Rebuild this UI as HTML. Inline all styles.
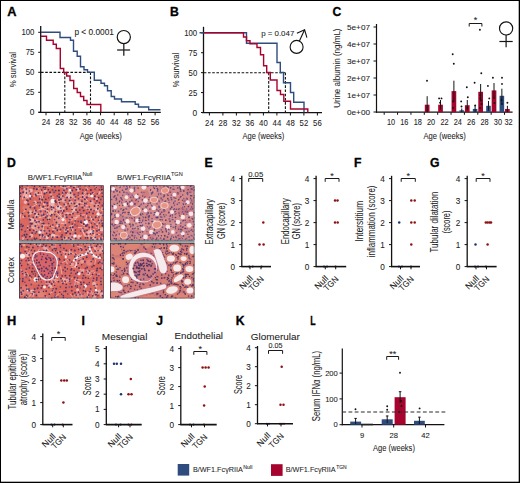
<!DOCTYPE html>
<html><head><meta charset="utf-8"><style>
html,body{margin:0;padding:0;background:#fff;}
body{width:520px;height:483px;overflow:hidden;}
svg{display:block;font-family:"Liberation Sans", sans-serif;}
</style></head><body>
<svg width="520" height="483" viewBox="0 0 520 483">
<rect x="0" y="0" width="520" height="483" fill="#fff"/>
<defs>
<clipPath id="cnm"><rect x="19" y="185.2" width="84.8" height="55.5"/></clipPath>
<clipPath id="ctm"><rect x="110" y="185.2" width="84.6" height="55.5"/></clipPath>
<clipPath id="cnc"><rect x="19" y="242.8" width="84.8" height="55.8"/></clipPath>
<clipPath id="ctc"><rect x="110" y="242.8" width="84.6" height="55.8"/></clipPath>
<filter id="soft" x="0" y="0" width="100%" height="100%"><feGaussianBlur stdDeviation="0.42"/></filter>
</defs>
<g clip-path="url(#cnm)"><g filter="url(#soft)">
<rect x="19" y="185.2" width="84.8" height="55.5" fill="#db6860"/>
<circle cx="57.4" cy="216.3" r="4.8" fill="#e27a66" opacity="0.55"/>
<circle cx="57.3" cy="232.7" r="2.6" fill="#e27a66" opacity="0.55"/>
<circle cx="72.4" cy="229.2" r="2.3" fill="#e9998f" opacity="0.55"/>
<circle cx="31.0" cy="215.1" r="4.7" fill="#e8867a" opacity="0.55"/>
<circle cx="69.5" cy="207.2" r="3.4" fill="#d65e55" opacity="0.55"/>
<circle cx="71.8" cy="231.4" r="2.2" fill="#e8867a" opacity="0.55"/>
<circle cx="35.1" cy="198.6" r="2.1" fill="#e27a66" opacity="0.55"/>
<circle cx="46.7" cy="218.0" r="2.6" fill="#d65e55" opacity="0.55"/>
<circle cx="73.3" cy="212.9" r="4.0" fill="#e27a66" opacity="0.55"/>
<circle cx="74.5" cy="207.8" r="3.7" fill="#e8867a" opacity="0.55"/>
<circle cx="79.0" cy="202.7" r="2.7" fill="#e9998f" opacity="0.55"/>
<circle cx="21.5" cy="216.5" r="2.3" fill="#e8867a" opacity="0.55"/>
<circle cx="90.8" cy="206.7" r="4.9" fill="#e8867a" opacity="0.55"/>
<circle cx="37.1" cy="236.7" r="2.2" fill="#e27a66" opacity="0.55"/>
<circle cx="102.1" cy="207.3" r="2.2" fill="#d65e55" opacity="0.55"/>
<circle cx="85.0" cy="200.2" r="2.3" fill="#e9998f" opacity="0.55"/>
<circle cx="20.3" cy="208.0" r="4.8" fill="#d65e55" opacity="0.55"/>
<circle cx="39.9" cy="190.8" r="2.2" fill="#e27a66" opacity="0.55"/>
<circle cx="34.1" cy="216.2" r="3.3" fill="#d65e55" opacity="0.55"/>
<circle cx="102.6" cy="227.9" r="3.3" fill="#e27a66" opacity="0.55"/>
<circle cx="28.9" cy="208.6" r="2.6" fill="#e9998f" opacity="0.55"/>
<circle cx="92.3" cy="239.3" r="3.8" fill="#e8867a" opacity="0.55"/>
<circle cx="36.9" cy="207.1" r="4.6" fill="#e8867a" opacity="0.55"/>
<circle cx="22.6" cy="193.3" r="3.3" fill="#e8867a" opacity="0.55"/>
<circle cx="84.5" cy="203.5" r="2.9" fill="#e8867a" opacity="0.55"/>
<circle cx="25.3" cy="196.8" r="3.9" fill="#e8867a" opacity="0.55"/>
<circle cx="70.0" cy="205.8" r="3.4" fill="#e27a66" opacity="0.55"/>
<circle cx="89.6" cy="192.7" r="3.2" fill="#d65e55" opacity="0.55"/>
<circle cx="45.4" cy="197.9" r="3.8" fill="#d65e55" opacity="0.55"/>
<circle cx="32.4" cy="220.1" r="3.7" fill="#e27a66" opacity="0.55"/>
<circle cx="93.8" cy="218.7" r="3.3" fill="#e8867a" opacity="0.55"/>
<circle cx="28.2" cy="213.6" r="2.8" fill="#e27a66" opacity="0.55"/>
<circle cx="40.8" cy="230.9" r="3.8" fill="#e9998f" opacity="0.55"/>
<circle cx="63.1" cy="236.8" r="4.9" fill="#d65e55" opacity="0.55"/>
<circle cx="38.4" cy="216.2" r="4.6" fill="#e8867a" opacity="0.55"/>
<circle cx="42.8" cy="236.1" r="2.6" fill="#e8867a" opacity="0.55"/>
<circle cx="24.9" cy="208.0" r="2.7" fill="#e8867a" opacity="0.55"/>
<circle cx="33.9" cy="205.7" r="3.7" fill="#d65e55" opacity="0.55"/>
<circle cx="26.8" cy="192.9" r="3.4" fill="#e9998f" opacity="0.55"/>
<circle cx="74.7" cy="223.6" r="3.8" fill="#d65e55" opacity="0.55"/>
<circle cx="69.0" cy="236.5" r="3.4" fill="#e9998f" opacity="0.55"/>
<circle cx="78.4" cy="238.6" r="2.1" fill="#e8867a" opacity="0.55"/>
<circle cx="59.9" cy="225.7" r="3.0" fill="#e8867a" opacity="0.55"/>
<circle cx="25.4" cy="215.5" r="4.2" fill="#d65e55" opacity="0.55"/>
<circle cx="86.3" cy="236.0" r="3.1" fill="#e27a66" opacity="0.55"/>
<circle cx="95.4" cy="233.5" r="3.3" fill="#e8867a" opacity="0.55"/>
<circle cx="92.2" cy="217.0" r="3.9" fill="#e27a66" opacity="0.55"/>
<circle cx="51.2" cy="185.9" r="2.2" fill="#e8867a" opacity="0.55"/>
<circle cx="73.2" cy="240.3" r="4.6" fill="#e9998f" opacity="0.55"/>
<circle cx="51.9" cy="226.0" r="3.7" fill="#e27a66" opacity="0.55"/>
<circle cx="58.2" cy="215.2" r="3.6" fill="#e8867a" opacity="0.55"/>
<circle cx="45.3" cy="190.1" r="2.1" fill="#e8867a" opacity="0.55"/>
<circle cx="61.2" cy="219.3" r="4.8" fill="#e9998f" opacity="0.55"/>
<circle cx="95.0" cy="205.6" r="2.4" fill="#d65e55" opacity="0.55"/>
<circle cx="63.0" cy="227.0" r="3.0" fill="#e27a66" opacity="0.55"/>
<circle cx="61.3" cy="198.6" r="3.2" fill="#e9998f" opacity="0.55"/>
<circle cx="35.8" cy="209.1" r="4.4" fill="#d65e55" opacity="0.55"/>
<circle cx="93.6" cy="206.5" r="3.7" fill="#e9998f" opacity="0.55"/>
<circle cx="36.8" cy="192.7" r="3.1" fill="#e8867a" opacity="0.55"/>
<circle cx="79.3" cy="237.9" r="2.8" fill="#d65e55" opacity="0.55"/>
<circle cx="28.6" cy="211.4" r="4.8" fill="#e27a66" opacity="0.55"/>
<circle cx="51.4" cy="214.1" r="4.0" fill="#e27a66" opacity="0.55"/>
<circle cx="46.2" cy="231.2" r="2.8" fill="#e8867a" opacity="0.55"/>
<circle cx="76.5" cy="200.8" r="3.1" fill="#e8867a" opacity="0.55"/>
<circle cx="73.4" cy="207.7" r="2.6" fill="#e9998f" opacity="0.55"/>
<circle cx="39.1" cy="193.0" r="2.1" fill="#e8867a" opacity="0.55"/>
<circle cx="56.9" cy="220.2" r="4.0" fill="#e9998f" opacity="0.55"/>
<circle cx="100.3" cy="223.2" r="2.6" fill="#e27a66" opacity="0.55"/>
<circle cx="40.7" cy="224.8" r="4.3" fill="#e8867a" opacity="0.55"/>
<circle cx="34.2" cy="200.3" r="3.0" fill="#d65e55" opacity="0.55"/>
<line x1="52.4" y1="229.2" x2="60.5" y2="231.4" stroke="#f3c9c6" stroke-width="1.0" opacity="0.7" stroke-linecap="round"/>
<line x1="98.1" y1="225.3" x2="98.6" y2="229.0" stroke="#f3c9c6" stroke-width="1.0" opacity="0.7" stroke-linecap="round"/>
<line x1="72.0" y1="235.7" x2="70.9" y2="240.8" stroke="#f3c9c6" stroke-width="1.0" opacity="0.7" stroke-linecap="round"/>
<line x1="93.6" y1="229.4" x2="94.6" y2="238.0" stroke="#f3c9c6" stroke-width="1.0" opacity="0.7" stroke-linecap="round"/>
<line x1="74.2" y1="196.6" x2="68.1" y2="200.5" stroke="#f3c9c6" stroke-width="1.0" opacity="0.7" stroke-linecap="round"/>
<line x1="73.4" y1="225.0" x2="69.3" y2="226.4" stroke="#f3c9c6" stroke-width="1.0" opacity="0.7" stroke-linecap="round"/>
<line x1="102.1" y1="239.4" x2="97.2" y2="243.2" stroke="#f3c9c6" stroke-width="1.0" opacity="0.7" stroke-linecap="round"/>
<line x1="46.2" y1="235.7" x2="49.9" y2="242.9" stroke="#f3c9c6" stroke-width="1.0" opacity="0.7" stroke-linecap="round"/>
<line x1="26.0" y1="209.7" x2="21.3" y2="213.9" stroke="#f3c9c6" stroke-width="1.0" opacity="0.7" stroke-linecap="round"/>
<line x1="60.3" y1="186.8" x2="68.0" y2="188.3" stroke="#f3c9c6" stroke-width="1.0" opacity="0.7" stroke-linecap="round"/>
<line x1="86.8" y1="194.8" x2="82.9" y2="197.9" stroke="#f3c9c6" stroke-width="1.0" opacity="0.7" stroke-linecap="round"/>
<line x1="30.9" y1="193.5" x2="27.0" y2="198.1" stroke="#f3c9c6" stroke-width="1.0" opacity="0.7" stroke-linecap="round"/>
<line x1="90.2" y1="223.5" x2="90.4" y2="232.1" stroke="#f3c9c6" stroke-width="1.0" opacity="0.7" stroke-linecap="round"/>
<line x1="99.5" y1="190.0" x2="99.1" y2="194.3" stroke="#f3c9c6" stroke-width="1.0" opacity="0.7" stroke-linecap="round"/>
<line x1="43.6" y1="225.7" x2="43.1" y2="232.5" stroke="#f3c9c6" stroke-width="1.0" opacity="0.7" stroke-linecap="round"/>
<line x1="90.5" y1="216.3" x2="92.3" y2="220.8" stroke="#f3c9c6" stroke-width="1.0" opacity="0.7" stroke-linecap="round"/>
<line x1="90.7" y1="235.2" x2="86.9" y2="237.1" stroke="#f3c9c6" stroke-width="1.0" opacity="0.7" stroke-linecap="round"/>
<line x1="101.1" y1="214.3" x2="106.3" y2="218.1" stroke="#f3c9c6" stroke-width="1.0" opacity="0.7" stroke-linecap="round"/>
<line x1="64.4" y1="213.1" x2="71.1" y2="213.7" stroke="#f3c9c6" stroke-width="1.0" opacity="0.7" stroke-linecap="round"/>
<line x1="101.2" y1="213.8" x2="96.8" y2="217.0" stroke="#f3c9c6" stroke-width="1.0" opacity="0.7" stroke-linecap="round"/>
<line x1="66.7" y1="212.5" x2="73.7" y2="213.9" stroke="#f3c9c6" stroke-width="1.0" opacity="0.7" stroke-linecap="round"/>
<line x1="64.7" y1="208.2" x2="56.2" y2="210.2" stroke="#f3c9c6" stroke-width="1.0" opacity="0.7" stroke-linecap="round"/>
<line x1="41.8" y1="211.5" x2="42.6" y2="215.1" stroke="#f3c9c6" stroke-width="1.0" opacity="0.7" stroke-linecap="round"/>
<line x1="88.2" y1="235.2" x2="91.4" y2="240.1" stroke="#f3c9c6" stroke-width="1.0" opacity="0.7" stroke-linecap="round"/>
<line x1="35.2" y1="219.5" x2="43.1" y2="222.9" stroke="#f3c9c6" stroke-width="1.0" opacity="0.7" stroke-linecap="round"/>
<line x1="85.1" y1="186.5" x2="88.2" y2="189.2" stroke="#f3c9c6" stroke-width="1.0" opacity="0.7" stroke-linecap="round"/>
<line x1="77.3" y1="203.1" x2="75.4" y2="207.8" stroke="#f3c9c6" stroke-width="1.0" opacity="0.7" stroke-linecap="round"/>
<line x1="27.9" y1="225.8" x2="27.8" y2="229.5" stroke="#f3c9c6" stroke-width="1.0" opacity="0.7" stroke-linecap="round"/>
<line x1="40.2" y1="196.2" x2="41.5" y2="202.2" stroke="#f3c9c6" stroke-width="1.0" opacity="0.7" stroke-linecap="round"/>
<line x1="50.9" y1="208.1" x2="56.3" y2="211.1" stroke="#f3c9c6" stroke-width="1.0" opacity="0.7" stroke-linecap="round"/>
<line x1="36.3" y1="220.2" x2="35.7" y2="227.0" stroke="#f3c9c6" stroke-width="1.0" opacity="0.7" stroke-linecap="round"/>
<line x1="91.2" y1="219.1" x2="97.2" y2="224.6" stroke="#f3c9c6" stroke-width="1.0" opacity="0.7" stroke-linecap="round"/>
<line x1="81.8" y1="230.2" x2="86.4" y2="237.2" stroke="#f3c9c6" stroke-width="1.0" opacity="0.7" stroke-linecap="round"/>
<line x1="45.7" y1="236.4" x2="41.4" y2="236.4" stroke="#f3c9c6" stroke-width="1.0" opacity="0.7" stroke-linecap="round"/>
<line x1="94.3" y1="192.6" x2="91.4" y2="196.0" stroke="#f3c9c6" stroke-width="1.0" opacity="0.7" stroke-linecap="round"/>
<line x1="41.0" y1="190.6" x2="43.0" y2="198.3" stroke="#f3c9c6" stroke-width="1.0" opacity="0.7" stroke-linecap="round"/>
<line x1="86.0" y1="192.2" x2="83.0" y2="196.7" stroke="#f3c9c6" stroke-width="1.0" opacity="0.7" stroke-linecap="round"/>
<line x1="20.5" y1="196.4" x2="13.7" y2="198.3" stroke="#f3c9c6" stroke-width="1.0" opacity="0.7" stroke-linecap="round"/>
<line x1="101.1" y1="191.6" x2="96.7" y2="195.8" stroke="#f3c9c6" stroke-width="1.0" opacity="0.7" stroke-linecap="round"/>
<line x1="61.6" y1="223.3" x2="65.7" y2="224.2" stroke="#f3c9c6" stroke-width="1.0" opacity="0.7" stroke-linecap="round"/>
<line x1="28.0" y1="187.3" x2="27.7" y2="193.6" stroke="#f3c9c6" stroke-width="1.0" opacity="0.7" stroke-linecap="round"/>
<line x1="67.2" y1="193.3" x2="70.5" y2="195.8" stroke="#f3c9c6" stroke-width="1.0" opacity="0.7" stroke-linecap="round"/>
<line x1="90.3" y1="240.2" x2="98.4" y2="242.7" stroke="#f3c9c6" stroke-width="1.0" opacity="0.7" stroke-linecap="round"/>
<line x1="24.3" y1="238.0" x2="20.0" y2="241.9" stroke="#f3c9c6" stroke-width="1.0" opacity="0.7" stroke-linecap="round"/>
<line x1="46.7" y1="211.1" x2="48.0" y2="217.1" stroke="#f3c9c6" stroke-width="1.0" opacity="0.7" stroke-linecap="round"/>
<line x1="70.0" y1="185.9" x2="63.6" y2="189.3" stroke="#f3c9c6" stroke-width="1.0" opacity="0.7" stroke-linecap="round"/>
<line x1="34.4" y1="210.4" x2="36.6" y2="217.5" stroke="#f3c9c6" stroke-width="1.0" opacity="0.7" stroke-linecap="round"/>
<line x1="35.5" y1="194.4" x2="41.6" y2="194.7" stroke="#f3c9c6" stroke-width="1.0" opacity="0.7" stroke-linecap="round"/>
<line x1="94.7" y1="229.7" x2="88.2" y2="232.8" stroke="#f3c9c6" stroke-width="1.0" opacity="0.7" stroke-linecap="round"/>
<line x1="72.4" y1="207.7" x2="72.3" y2="214.2" stroke="#f3c9c6" stroke-width="1.0" opacity="0.7" stroke-linecap="round"/>
<line x1="102.3" y1="229.9" x2="98.0" y2="231.1" stroke="#f3c9c6" stroke-width="1.0" opacity="0.7" stroke-linecap="round"/>
<line x1="82.1" y1="228.4" x2="84.4" y2="235.9" stroke="#f3c9c6" stroke-width="1.0" opacity="0.7" stroke-linecap="round"/>
<line x1="95.0" y1="234.0" x2="89.7" y2="238.8" stroke="#f3c9c6" stroke-width="1.0" opacity="0.7" stroke-linecap="round"/>
<line x1="83.9" y1="207.7" x2="91.0" y2="209.3" stroke="#f3c9c6" stroke-width="1.0" opacity="0.7" stroke-linecap="round"/>
<line x1="48.0" y1="211.2" x2="49.3" y2="214.0" stroke="#f3c9c6" stroke-width="1.0" opacity="0.7" stroke-linecap="round"/>
<line x1="73.2" y1="219.8" x2="68.8" y2="220.6" stroke="#f3c9c6" stroke-width="1.0" opacity="0.7" stroke-linecap="round"/>
<line x1="75.5" y1="203.9" x2="74.0" y2="210.7" stroke="#f3c9c6" stroke-width="1.0" opacity="0.7" stroke-linecap="round"/>
<line x1="64.2" y1="206.8" x2="60.3" y2="214.9" stroke="#f3c9c6" stroke-width="1.0" opacity="0.7" stroke-linecap="round"/>
<line x1="78.5" y1="227.5" x2="87.3" y2="228.1" stroke="#f3c9c6" stroke-width="1.0" opacity="0.7" stroke-linecap="round"/>
<line x1="71.2" y1="226.2" x2="72.6" y2="230.5" stroke="#f3c9c6" stroke-width="1.0" opacity="0.7" stroke-linecap="round"/>
<line x1="23.3" y1="196.0" x2="28.3" y2="197.6" stroke="#f3c9c6" stroke-width="1.0" opacity="0.7" stroke-linecap="round"/>
<line x1="40.3" y1="235.5" x2="40.1" y2="241.8" stroke="#f3c9c6" stroke-width="1.0" opacity="0.7" stroke-linecap="round"/>
<line x1="101.0" y1="216.7" x2="97.2" y2="224.9" stroke="#f3c9c6" stroke-width="1.0" opacity="0.7" stroke-linecap="round"/>
<line x1="87.6" y1="189.4" x2="82.9" y2="193.9" stroke="#f3c9c6" stroke-width="1.0" opacity="0.7" stroke-linecap="round"/>
<line x1="22.8" y1="236.8" x2="23.2" y2="240.8" stroke="#f3c9c6" stroke-width="1.0" opacity="0.7" stroke-linecap="round"/>
<line x1="33.3" y1="212.7" x2="39.9" y2="213.9" stroke="#f3c9c6" stroke-width="1.0" opacity="0.7" stroke-linecap="round"/>
<line x1="99.2" y1="208.5" x2="97.3" y2="214.4" stroke="#f3c9c6" stroke-width="1.0" opacity="0.7" stroke-linecap="round"/>
<line x1="50.0" y1="201.1" x2="48.7" y2="207.9" stroke="#f3c9c6" stroke-width="1.0" opacity="0.7" stroke-linecap="round"/>
<line x1="43.0" y1="225.0" x2="47.8" y2="225.2" stroke="#f3c9c6" stroke-width="1.0" opacity="0.7" stroke-linecap="round"/>
<line x1="39.8" y1="187.6" x2="37.0" y2="190.3" stroke="#f3c9c6" stroke-width="1.0" opacity="0.7" stroke-linecap="round"/>
<line x1="52.1" y1="235.0" x2="59.5" y2="236.2" stroke="#f3c9c6" stroke-width="1.0" opacity="0.7" stroke-linecap="round"/>
<line x1="102.8" y1="237.6" x2="99.6" y2="238.6" stroke="#f3c9c6" stroke-width="1.0" opacity="0.7" stroke-linecap="round"/>
<line x1="55.4" y1="211.7" x2="61.8" y2="217.8" stroke="#f3c9c6" stroke-width="1.0" opacity="0.7" stroke-linecap="round"/>
<line x1="63.4" y1="237.2" x2="64.1" y2="244.5" stroke="#f3c9c6" stroke-width="1.0" opacity="0.7" stroke-linecap="round"/>
<line x1="102.0" y1="230.5" x2="108.2" y2="232.9" stroke="#f3c9c6" stroke-width="1.0" opacity="0.7" stroke-linecap="round"/>
<line x1="71.9" y1="210.5" x2="76.1" y2="211.2" stroke="#f3c9c6" stroke-width="1.0" opacity="0.7" stroke-linecap="round"/>
<line x1="63.8" y1="192.1" x2="60.9" y2="197.0" stroke="#f3c9c6" stroke-width="1.0" opacity="0.7" stroke-linecap="round"/>
<line x1="57.6" y1="199.7" x2="59.3" y2="206.0" stroke="#f3c9c6" stroke-width="1.0" opacity="0.7" stroke-linecap="round"/>
<line x1="85.0" y1="214.7" x2="76.1" y2="216.0" stroke="#f3c9c6" stroke-width="1.0" opacity="0.7" stroke-linecap="round"/>
<line x1="81.3" y1="198.4" x2="77.8" y2="199.7" stroke="#f3c9c6" stroke-width="1.0" opacity="0.7" stroke-linecap="round"/>
<line x1="85.5" y1="219.9" x2="88.9" y2="223.8" stroke="#f3c9c6" stroke-width="1.0" opacity="0.7" stroke-linecap="round"/>
<line x1="77.1" y1="216.6" x2="74.4" y2="222.5" stroke="#f3c9c6" stroke-width="1.0" opacity="0.7" stroke-linecap="round"/>
<line x1="82.9" y1="195.7" x2="78.4" y2="196.0" stroke="#f3c9c6" stroke-width="1.0" opacity="0.7" stroke-linecap="round"/>
<line x1="96.7" y1="234.0" x2="99.8" y2="234.6" stroke="#f3c9c6" stroke-width="1.0" opacity="0.7" stroke-linecap="round"/>
<line x1="42.0" y1="208.8" x2="48.4" y2="210.9" stroke="#f3c9c6" stroke-width="1.0" opacity="0.7" stroke-linecap="round"/>
<line x1="64.9" y1="189.2" x2="63.1" y2="192.2" stroke="#f3c9c6" stroke-width="1.0" opacity="0.7" stroke-linecap="round"/>
<line x1="65.7" y1="220.2" x2="66.0" y2="225.5" stroke="#f3c9c6" stroke-width="1.0" opacity="0.7" stroke-linecap="round"/>
<line x1="36.9" y1="204.3" x2="30.3" y2="207.9" stroke="#f3c9c6" stroke-width="1.0" opacity="0.7" stroke-linecap="round"/>
<line x1="25.3" y1="191.8" x2="22.3" y2="199.1" stroke="#f3c9c6" stroke-width="1.0" opacity="0.7" stroke-linecap="round"/>
<line x1="84.2" y1="197.0" x2="88.0" y2="201.1" stroke="#f3c9c6" stroke-width="1.0" opacity="0.7" stroke-linecap="round"/>
<line x1="87.7" y1="205.7" x2="80.8" y2="205.9" stroke="#f3c9c6" stroke-width="1.0" opacity="0.7" stroke-linecap="round"/>
<line x1="46.6" y1="215.6" x2="39.3" y2="217.5" stroke="#f3c9c6" stroke-width="1.0" opacity="0.7" stroke-linecap="round"/>
<line x1="55.3" y1="205.7" x2="52.0" y2="207.1" stroke="#f3c9c6" stroke-width="1.0" opacity="0.7" stroke-linecap="round"/>
<line x1="25.7" y1="189.8" x2="26.0" y2="196.2" stroke="#f3c9c6" stroke-width="1.0" opacity="0.7" stroke-linecap="round"/>
<line x1="77.1" y1="201.8" x2="84.6" y2="203.6" stroke="#f3c9c6" stroke-width="1.0" opacity="0.7" stroke-linecap="round"/>
<line x1="37.1" y1="221.9" x2="39.1" y2="224.8" stroke="#f3c9c6" stroke-width="1.0" opacity="0.7" stroke-linecap="round"/>
<line x1="80.5" y1="223.7" x2="84.7" y2="225.8" stroke="#f3c9c6" stroke-width="1.0" opacity="0.7" stroke-linecap="round"/>
<line x1="49.3" y1="225.5" x2="54.2" y2="227.4" stroke="#f3c9c6" stroke-width="1.0" opacity="0.7" stroke-linecap="round"/>
<line x1="79.1" y1="216.8" x2="70.8" y2="218.4" stroke="#f3c9c6" stroke-width="1.0" opacity="0.7" stroke-linecap="round"/>
<line x1="96.5" y1="209.5" x2="101.0" y2="215.9" stroke="#f3c9c6" stroke-width="1.0" opacity="0.7" stroke-linecap="round"/>
<line x1="45.9" y1="207.4" x2="37.8" y2="210.2" stroke="#f3c9c6" stroke-width="1.0" opacity="0.7" stroke-linecap="round"/>
<line x1="40.1" y1="205.3" x2="42.2" y2="210.0" stroke="#f3c9c6" stroke-width="1.0" opacity="0.7" stroke-linecap="round"/>
<line x1="52.5" y1="206.7" x2="51.7" y2="210.8" stroke="#f3c9c6" stroke-width="1.0" opacity="0.7" stroke-linecap="round"/>
<line x1="86.6" y1="215.2" x2="85.0" y2="223.1" stroke="#f3c9c6" stroke-width="1.0" opacity="0.7" stroke-linecap="round"/>
<line x1="34.0" y1="227.3" x2="39.2" y2="233.7" stroke="#f3c9c6" stroke-width="1.0" opacity="0.7" stroke-linecap="round"/>
<line x1="20.9" y1="213.8" x2="19.6" y2="219.9" stroke="#f3c9c6" stroke-width="1.0" opacity="0.7" stroke-linecap="round"/>
<line x1="101.0" y1="221.3" x2="108.6" y2="222.9" stroke="#f3c9c6" stroke-width="1.0" opacity="0.7" stroke-linecap="round"/>
<line x1="65.4" y1="228.9" x2="68.8" y2="229.8" stroke="#f3c9c6" stroke-width="1.0" opacity="0.7" stroke-linecap="round"/>
<line x1="81.5" y1="235.1" x2="80.1" y2="238.3" stroke="#f3c9c6" stroke-width="1.0" opacity="0.7" stroke-linecap="round"/>
<line x1="31.2" y1="226.6" x2="36.1" y2="231.4" stroke="#f3c9c6" stroke-width="1.0" opacity="0.7" stroke-linecap="round"/>
<circle cx="37.7" cy="227.7" r="1.7" fill="#eeb4aa" opacity="0.7"/>
<circle cx="52.4" cy="203.9" r="2.4" fill="#f4d4d0" opacity="0.7"/>
<circle cx="30.6" cy="212.3" r="2.1" fill="#f0c4bc" opacity="0.7"/>
<circle cx="79.1" cy="236.0" r="1.6" fill="#f4d4d0" opacity="0.7"/>
<circle cx="48.6" cy="185.4" r="1.5" fill="#f0c4bc" opacity="0.7"/>
<circle cx="94.4" cy="238.4" r="1.9" fill="#f4d4d0" opacity="0.7"/>
<circle cx="49.7" cy="185.8" r="1.2" fill="#eeb4aa" opacity="0.7"/>
<circle cx="96.6" cy="198.8" r="1.2" fill="#f4d4d0" opacity="0.7"/>
<circle cx="50.8" cy="194.5" r="1.3" fill="#eeb4aa" opacity="0.7"/>
<circle cx="63.9" cy="200.4" r="2.2" fill="#eeb4aa" opacity="0.7"/>
<circle cx="45.2" cy="191.6" r="1.9" fill="#f0c4bc" opacity="0.7"/>
<circle cx="96.4" cy="227.0" r="1.0" fill="#eeb4aa" opacity="0.7"/>
<circle cx="96.1" cy="187.2" r="1.2" fill="#f0c4bc" opacity="0.7"/>
<circle cx="49.5" cy="217.9" r="1.8" fill="#eeb4aa" opacity="0.7"/>
<circle cx="69.4" cy="197.6" r="1.3" fill="#eeb4aa" opacity="0.7"/>
<circle cx="53.1" cy="235.7" r="2.3" fill="#f4d4d0" opacity="0.7"/>
<circle cx="65.5" cy="230.6" r="1.7" fill="#eeb4aa" opacity="0.7"/>
<circle cx="60.1" cy="207.5" r="2.3" fill="#f4d4d0" opacity="0.7"/>
<circle cx="65.4" cy="238.3" r="1.7" fill="#f0c4bc" opacity="0.7"/>
<circle cx="52.9" cy="197.3" r="1.2" fill="#eeb4aa" opacity="0.7"/>
<circle cx="101.8" cy="229.3" r="2.1" fill="#f0c4bc" opacity="0.7"/>
<circle cx="74.8" cy="198.4" r="1.0" fill="#eeb4aa" opacity="0.7"/>
<circle cx="95.8" cy="210.2" r="1.3" fill="#eeb4aa" opacity="0.7"/>
<circle cx="70.4" cy="193.9" r="1.2" fill="#eeb4aa" opacity="0.7"/>
<circle cx="31.3" cy="235.6" r="2.1" fill="#f0c4bc" opacity="0.7"/>
<circle cx="73.0" cy="240.3" r="1.4" fill="#f4d4d0" opacity="0.7"/>
<circle cx="23.5" cy="216.9" r="1.2" fill="#f0c4bc" opacity="0.7"/>
<circle cx="88.7" cy="232.2" r="2.2" fill="#f0c4bc" opacity="0.7"/>
<circle cx="48.8" cy="219.3" r="1.7" fill="#eeb4aa" opacity="0.7"/>
<circle cx="77.8" cy="189.8" r="2.0" fill="#f4d4d0" opacity="0.7"/>
<circle cx="91.7" cy="202.0" r="2.1" fill="#eeb4aa" opacity="0.7"/>
<circle cx="35.4" cy="223.1" r="2.1" fill="#eeb4aa" opacity="0.7"/>
<circle cx="36.7" cy="215.4" r="1.7" fill="#f0c4bc" opacity="0.7"/>
<circle cx="99.3" cy="238.7" r="1.4" fill="#eeb4aa" opacity="0.7"/>
<circle cx="25.4" cy="202.2" r="1.7" fill="#f4d4d0" opacity="0.7"/>
<circle cx="24.7" cy="189.3" r="1.2" fill="#f4d4d0" opacity="0.7"/>
<circle cx="52.4" cy="210.8" r="2.4" fill="#f0c4bc" opacity="0.7"/>
<circle cx="74.5" cy="185.9" r="1.5" fill="#f4d4d0" opacity="0.7"/>
<circle cx="59.3" cy="201.5" r="1.2" fill="#f0c4bc" opacity="0.7"/>
<circle cx="91.6" cy="232.1" r="2.0" fill="#f4d4d0" opacity="0.7"/>
<circle cx="31.9" cy="220.0" r="2.3" fill="#f4d4d0" opacity="0.7"/>
<circle cx="44.3" cy="203.9" r="1.5" fill="#f4d4d0" opacity="0.7"/>
<circle cx="26.4" cy="195.7" r="1.5" fill="#f0c4bc" opacity="0.7"/>
<circle cx="46.9" cy="237.6" r="1.8" fill="#f4d4d0" opacity="0.7"/>
<circle cx="73.3" cy="210.0" r="1.5" fill="#f0c4bc" opacity="0.7"/>
<circle cx="30.9" cy="190.4" r="1.9" fill="#f4d4d0" opacity="0.7"/>
<circle cx="34.2" cy="195.9" r="1.1" fill="#eeb4aa" opacity="0.7"/>
<circle cx="69.3" cy="190.2" r="1.3" fill="#f0c4bc" opacity="0.7"/>
<circle cx="102.7" cy="209.3" r="2.1" fill="#eeb4aa" opacity="0.7"/>
<circle cx="97.1" cy="208.9" r="1.7" fill="#f4d4d0" opacity="0.7"/>
<circle cx="36.4" cy="193.4" r="2.0" fill="#eeb4aa" opacity="0.7"/>
<circle cx="47.1" cy="208.1" r="1.0" fill="#eeb4aa" opacity="0.7"/>
<circle cx="71.0" cy="202.8" r="2.1" fill="#f0c4bc" opacity="0.7"/>
<circle cx="75.0" cy="219.0" r="1.0" fill="#eeb4aa" opacity="0.7"/>
<circle cx="35.0" cy="202.2" r="1.6" fill="#f4d4d0" opacity="0.7"/>
<circle cx="51.0" cy="213.5" r="2.1" fill="#f0c4bc" opacity="0.7"/>
<circle cx="70.8" cy="194.0" r="2.1" fill="#eeb4aa" opacity="0.7"/>
<circle cx="65.5" cy="204.8" r="1.7" fill="#f0c4bc" opacity="0.7"/>
<circle cx="67.7" cy="196.2" r="2.3" fill="#f4d4d0" opacity="0.7"/>
<circle cx="78.9" cy="237.1" r="1.8" fill="#f0c4bc" opacity="0.7"/>
<circle cx="72.2" cy="196.2" r="1.1" fill="#f0c4bc" opacity="0.7"/>
<circle cx="59.5" cy="208.4" r="1.5" fill="#f0c4bc" opacity="0.7"/>
<circle cx="97.8" cy="205.2" r="1.6" fill="#f0c4bc" opacity="0.7"/>
<circle cx="57.4" cy="225.7" r="1.3" fill="#f4d4d0" opacity="0.7"/>
<circle cx="65.1" cy="216.3" r="1.8" fill="#eeb4aa" opacity="0.7"/>
<circle cx="33.3" cy="226.6" r="2.3" fill="#eeb4aa" opacity="0.7"/>
<circle cx="70.0" cy="192.0" r="2.2" fill="#eeb4aa" opacity="0.7"/>
<circle cx="77.1" cy="205.4" r="2.1" fill="#eeb4aa" opacity="0.7"/>
<circle cx="89.4" cy="195.5" r="1.8" fill="#f0c4bc" opacity="0.7"/>
<circle cx="57.5" cy="207.6" r="2.1" fill="#f4d4d0" opacity="0.7"/>
<circle cx="52.7" cy="201" r="2.3" fill="#f8eef0"/>
<circle cx="85.8" cy="222" r="2.2" fill="#f8eef0"/>
<circle cx="63" cy="219.6" r="1.6" fill="#f8eef0"/>
<circle cx="92" cy="196" r="1.6" fill="#f8eef0"/>
<circle cx="40" cy="232" r="1.5" fill="#f8eef0"/>
<circle cx="75" cy="236" r="1.8" fill="#f8eef0"/>
<circle cx="98" cy="214" r="1.6" fill="#f8eef0"/>
<circle cx="30" cy="196" r="1.2" fill="#f8eef0"/>
<circle cx="70" cy="190" r="1.2" fill="#f8eef0"/>
<circle cx="19.9" cy="187.3" r="0.95" fill="#4e3062"/>
<circle cx="22.1" cy="186.1" r="0.93" fill="#4e3062"/>
<circle cx="27.2" cy="185.5" r="0.87" fill="#47305e"/>
<circle cx="32.0" cy="185.2" r="0.98" fill="#5c3b6c"/>
<circle cx="34.5" cy="186.4" r="0.89" fill="#47305e"/>
<circle cx="39.8" cy="186.5" r="0.87" fill="#553566"/>
<circle cx="43.5" cy="187.3" r="0.91" fill="#47305e"/>
<circle cx="45.4" cy="187.6" r="0.93" fill="#553566"/>
<circle cx="51.5" cy="185.9" r="0.98" fill="#553566"/>
<circle cx="54.9" cy="186.6" r="0.88" fill="#47305e"/>
<circle cx="59.2" cy="185.7" r="0.86" fill="#553566"/>
<circle cx="63.4" cy="186.3" r="1.03" fill="#47305e"/>
<circle cx="65.4" cy="186.1" r="0.82" fill="#6a4674"/>
<circle cx="70.9" cy="186.2" r="0.86" fill="#553566"/>
<circle cx="73.9" cy="187.5" r="1.00" fill="#4e3062"/>
<circle cx="78.7" cy="186.6" r="0.87" fill="#6a4674"/>
<circle cx="80.3" cy="185.5" r="0.91" fill="#47305e"/>
<circle cx="85.2" cy="186.0" r="0.81" fill="#4e3062"/>
<circle cx="89.2" cy="185.9" r="0.84" fill="#553566"/>
<circle cx="94.3" cy="185.6" r="0.97" fill="#4e3062"/>
<circle cx="96.3" cy="187.3" r="0.92" fill="#5c3b6c"/>
<circle cx="101.4" cy="186.9" r="0.93" fill="#5c3b6c"/>
<circle cx="22.2" cy="188.5" r="0.98" fill="#6a4674"/>
<circle cx="26.3" cy="189.1" r="1.02" fill="#6a4674"/>
<circle cx="29.5" cy="191.0" r="0.82" fill="#5c3b6c"/>
<circle cx="33.9" cy="188.7" r="0.87" fill="#5c3b6c"/>
<circle cx="36.8" cy="189.2" r="1.00" fill="#47305e"/>
<circle cx="41.7" cy="190.0" r="0.88" fill="#5c3b6c"/>
<circle cx="45.0" cy="189.2" r="0.82" fill="#4e3062"/>
<circle cx="48.3" cy="189.8" r="0.81" fill="#47305e"/>
<circle cx="52.6" cy="189.9" r="0.94" fill="#5c3b6c"/>
<circle cx="55.7" cy="190.5" r="0.87" fill="#47305e"/>
<circle cx="58.9" cy="190.6" r="1.02" fill="#47305e"/>
<circle cx="64.0" cy="190.4" r="1.03" fill="#553566"/>
<circle cx="66.8" cy="188.6" r="1.03" fill="#6a4674"/>
<circle cx="72.3" cy="190.5" r="0.93" fill="#47305e"/>
<circle cx="76.4" cy="189.8" r="0.99" fill="#4e3062"/>
<circle cx="80.0" cy="189.0" r="0.99" fill="#5c3b6c"/>
<circle cx="82.9" cy="189.9" r="0.95" fill="#6a4674"/>
<circle cx="86.2" cy="190.0" r="0.94" fill="#5c3b6c"/>
<circle cx="90.9" cy="190.1" r="1.00" fill="#47305e"/>
<circle cx="95.1" cy="189.1" r="0.82" fill="#5c3b6c"/>
<circle cx="99.4" cy="189.9" r="0.86" fill="#5c3b6c"/>
<circle cx="101.9" cy="189.6" r="1.00" fill="#47305e"/>
<circle cx="20.6" cy="193.2" r="0.93" fill="#553566"/>
<circle cx="23.1" cy="192.2" r="1.01" fill="#553566"/>
<circle cx="26.5" cy="192.9" r="0.85" fill="#4e3062"/>
<circle cx="30.6" cy="193.9" r="0.83" fill="#553566"/>
<circle cx="35.6" cy="194.5" r="0.90" fill="#47305e"/>
<circle cx="38.4" cy="192.9" r="0.91" fill="#4e3062"/>
<circle cx="44.6" cy="193.6" r="1.04" fill="#47305e"/>
<circle cx="46.5" cy="192.5" r="0.86" fill="#553566"/>
<circle cx="50.0" cy="192.4" r="1.04" fill="#47305e"/>
<circle cx="54.2" cy="192.2" r="1.05" fill="#6a4674"/>
<circle cx="59.1" cy="194.3" r="1.03" fill="#5c3b6c"/>
<circle cx="62.7" cy="192.9" r="0.90" fill="#4e3062"/>
<circle cx="65.9" cy="192.7" r="0.94" fill="#5c3b6c"/>
<circle cx="70.6" cy="192.9" r="0.99" fill="#553566"/>
<circle cx="74.4" cy="194.5" r="1.02" fill="#5c3b6c"/>
<circle cx="78.5" cy="192.9" r="0.87" fill="#6a4674"/>
<circle cx="82.6" cy="193.2" r="0.93" fill="#47305e"/>
<circle cx="87.4" cy="193.7" r="0.89" fill="#5c3b6c"/>
<circle cx="90.7" cy="193.9" r="0.86" fill="#4e3062"/>
<circle cx="92.7" cy="192.7" r="0.82" fill="#553566"/>
<circle cx="97.4" cy="193.9" r="0.81" fill="#553566"/>
<circle cx="102.1" cy="193.1" r="0.93" fill="#5c3b6c"/>
<circle cx="20.5" cy="196.3" r="0.83" fill="#47305e"/>
<circle cx="24.2" cy="197.2" r="0.84" fill="#5c3b6c"/>
<circle cx="31.7" cy="196.6" r="0.83" fill="#6a4674"/>
<circle cx="36.2" cy="195.8" r="0.81" fill="#553566"/>
<circle cx="43.8" cy="197.0" r="0.85" fill="#6a4674"/>
<circle cx="48.7" cy="197.8" r="0.86" fill="#6a4674"/>
<circle cx="51.1" cy="196.4" r="0.82" fill="#553566"/>
<circle cx="57.3" cy="196.0" r="0.86" fill="#553566"/>
<circle cx="59.2" cy="197.3" r="0.98" fill="#47305e"/>
<circle cx="62.8" cy="196.1" r="0.84" fill="#47305e"/>
<circle cx="67.1" cy="197.5" r="1.03" fill="#553566"/>
<circle cx="70.7" cy="197.7" r="0.87" fill="#553566"/>
<circle cx="75.6" cy="196.8" r="0.88" fill="#6a4674"/>
<circle cx="78.3" cy="195.3" r="0.89" fill="#6a4674"/>
<circle cx="82.7" cy="197.0" r="0.92" fill="#47305e"/>
<circle cx="86.9" cy="197.6" r="0.98" fill="#5c3b6c"/>
<circle cx="94.8" cy="196.3" r="1.01" fill="#553566"/>
<circle cx="98.7" cy="197.7" r="0.83" fill="#47305e"/>
<circle cx="102.3" cy="196.5" r="0.81" fill="#47305e"/>
<circle cx="18.5" cy="200.4" r="0.80" fill="#47305e"/>
<circle cx="28.0" cy="200.7" r="1.01" fill="#6a4674"/>
<circle cx="30.3" cy="198.9" r="1.00" fill="#5c3b6c"/>
<circle cx="39.6" cy="199.0" r="0.92" fill="#47305e"/>
<circle cx="42.1" cy="199.7" r="0.97" fill="#553566"/>
<circle cx="45.8" cy="199.3" r="0.84" fill="#47305e"/>
<circle cx="55.2" cy="201.0" r="1.01" fill="#47305e"/>
<circle cx="59.0" cy="199.9" r="1.02" fill="#553566"/>
<circle cx="60.9" cy="199.3" r="1.00" fill="#553566"/>
<circle cx="65.4" cy="200.3" r="0.97" fill="#5c3b6c"/>
<circle cx="69.5" cy="200.6" r="1.01" fill="#47305e"/>
<circle cx="75.1" cy="200.3" r="0.99" fill="#6a4674"/>
<circle cx="78.5" cy="198.9" r="0.97" fill="#5c3b6c"/>
<circle cx="82.0" cy="201.2" r="0.97" fill="#5c3b6c"/>
<circle cx="84.9" cy="199.3" r="0.97" fill="#553566"/>
<circle cx="90.6" cy="201.3" r="0.98" fill="#4e3062"/>
<circle cx="94.3" cy="199.1" r="0.93" fill="#4e3062"/>
<circle cx="97.0" cy="201.0" r="1.01" fill="#5c3b6c"/>
<circle cx="100.8" cy="199.4" r="1.01" fill="#6a4674"/>
<circle cx="28.4" cy="204.3" r="1.01" fill="#47305e"/>
<circle cx="34.1" cy="202.7" r="0.83" fill="#6a4674"/>
<circle cx="37.9" cy="202.7" r="0.87" fill="#553566"/>
<circle cx="40.1" cy="202.6" r="0.89" fill="#6a4674"/>
<circle cx="44.8" cy="202.4" r="0.99" fill="#4e3062"/>
<circle cx="47.2" cy="202.9" r="1.00" fill="#553566"/>
<circle cx="56.0" cy="202.1" r="0.96" fill="#47305e"/>
<circle cx="59.5" cy="202.5" r="0.86" fill="#553566"/>
<circle cx="64.3" cy="204.5" r="1.01" fill="#5c3b6c"/>
<circle cx="68.1" cy="203.8" r="0.81" fill="#47305e"/>
<circle cx="71.4" cy="203.4" r="0.85" fill="#6a4674"/>
<circle cx="74.5" cy="203.4" r="1.00" fill="#553566"/>
<circle cx="79.4" cy="204.2" r="0.99" fill="#4e3062"/>
<circle cx="84.8" cy="203.3" r="0.90" fill="#47305e"/>
<circle cx="86.2" cy="203.5" r="0.90" fill="#6a4674"/>
<circle cx="95.7" cy="203.2" r="0.82" fill="#6a4674"/>
<circle cx="99.5" cy="202.7" r="0.85" fill="#4e3062"/>
<circle cx="103.8" cy="203.5" r="0.84" fill="#4e3062"/>
<circle cx="18.8" cy="205.9" r="0.90" fill="#4e3062"/>
<circle cx="30.4" cy="207.4" r="1.05" fill="#553566"/>
<circle cx="34.7" cy="207.9" r="1.00" fill="#5c3b6c"/>
<circle cx="39.5" cy="205.6" r="1.03" fill="#5c3b6c"/>
<circle cx="43.3" cy="206.8" r="0.98" fill="#553566"/>
<circle cx="47.6" cy="205.5" r="0.89" fill="#553566"/>
<circle cx="51.4" cy="207.1" r="0.94" fill="#4e3062"/>
<circle cx="53.2" cy="207.4" r="0.91" fill="#553566"/>
<circle cx="58.0" cy="206.4" r="0.95" fill="#47305e"/>
<circle cx="60.8" cy="207.9" r="0.91" fill="#6a4674"/>
<circle cx="66.2" cy="207.0" r="0.84" fill="#553566"/>
<circle cx="69.4" cy="206.1" r="0.85" fill="#553566"/>
<circle cx="75.1" cy="206.5" r="0.83" fill="#553566"/>
<circle cx="76.6" cy="205.9" r="1.00" fill="#5c3b6c"/>
<circle cx="82.5" cy="207.5" r="1.05" fill="#4e3062"/>
<circle cx="84.6" cy="205.5" r="0.93" fill="#6a4674"/>
<circle cx="89.3" cy="206.8" r="0.85" fill="#6a4674"/>
<circle cx="94.5" cy="206.0" r="0.91" fill="#553566"/>
<circle cx="98.2" cy="205.6" r="0.81" fill="#47305e"/>
<circle cx="102.4" cy="205.5" r="1.00" fill="#5c3b6c"/>
<circle cx="35.9" cy="210.5" r="0.98" fill="#5c3b6c"/>
<circle cx="40.7" cy="211.5" r="1.00" fill="#6a4674"/>
<circle cx="45.4" cy="211.3" r="0.85" fill="#5c3b6c"/>
<circle cx="47.5" cy="209.1" r="0.92" fill="#5c3b6c"/>
<circle cx="51.7" cy="209.5" r="0.96" fill="#6a4674"/>
<circle cx="55.3" cy="211.5" r="0.98" fill="#6a4674"/>
<circle cx="61.1" cy="210.9" r="0.82" fill="#6a4674"/>
<circle cx="63.8" cy="211.0" r="0.91" fill="#47305e"/>
<circle cx="66.8" cy="209.0" r="0.90" fill="#553566"/>
<circle cx="72.0" cy="209.5" r="0.87" fill="#4e3062"/>
<circle cx="76.1" cy="210.0" r="0.90" fill="#553566"/>
<circle cx="79.8" cy="210.0" r="0.90" fill="#6a4674"/>
<circle cx="83.7" cy="210.6" r="0.97" fill="#4e3062"/>
<circle cx="87.8" cy="209.4" r="0.83" fill="#6a4674"/>
<circle cx="91.0" cy="209.5" r="1.02" fill="#47305e"/>
<circle cx="94.1" cy="210.6" r="0.85" fill="#6a4674"/>
<circle cx="97.7" cy="208.8" r="0.97" fill="#4e3062"/>
<circle cx="103.4" cy="209.2" r="0.84" fill="#47305e"/>
<circle cx="32.4" cy="212.3" r="0.90" fill="#5c3b6c"/>
<circle cx="35.0" cy="213.7" r="1.01" fill="#47305e"/>
<circle cx="38.6" cy="214.2" r="0.84" fill="#47305e"/>
<circle cx="43.6" cy="214.6" r="1.04" fill="#553566"/>
<circle cx="47.4" cy="212.5" r="0.80" fill="#6a4674"/>
<circle cx="51.8" cy="214.6" r="0.89" fill="#47305e"/>
<circle cx="54.6" cy="214.8" r="0.82" fill="#47305e"/>
<circle cx="58.5" cy="212.3" r="0.97" fill="#47305e"/>
<circle cx="62.3" cy="213.0" r="0.86" fill="#553566"/>
<circle cx="66.1" cy="214.9" r="0.84" fill="#4e3062"/>
<circle cx="70.0" cy="214.5" r="1.01" fill="#5c3b6c"/>
<circle cx="73.0" cy="213.7" r="0.95" fill="#4e3062"/>
<circle cx="77.6" cy="212.2" r="1.00" fill="#553566"/>
<circle cx="80.8" cy="213.6" r="0.83" fill="#6a4674"/>
<circle cx="86.8" cy="213.6" r="0.99" fill="#553566"/>
<circle cx="89.3" cy="212.4" r="0.83" fill="#553566"/>
<circle cx="93.0" cy="213.5" r="1.02" fill="#5c3b6c"/>
<circle cx="101.0" cy="213.0" r="0.86" fill="#6a4674"/>
<circle cx="28.9" cy="216.0" r="0.88" fill="#5c3b6c"/>
<circle cx="33.2" cy="217.5" r="0.89" fill="#5c3b6c"/>
<circle cx="36.7" cy="217.0" r="0.89" fill="#47305e"/>
<circle cx="41.8" cy="215.6" r="1.04" fill="#6a4674"/>
<circle cx="45.7" cy="217.4" r="0.85" fill="#47305e"/>
<circle cx="47.1" cy="216.0" r="0.99" fill="#6a4674"/>
<circle cx="51.0" cy="215.8" r="0.87" fill="#553566"/>
<circle cx="56.6" cy="216.6" r="0.94" fill="#4e3062"/>
<circle cx="58.9" cy="218.2" r="0.88" fill="#6a4674"/>
<circle cx="63.0" cy="216.0" r="0.87" fill="#553566"/>
<circle cx="66.6" cy="217.2" r="1.03" fill="#4e3062"/>
<circle cx="72.1" cy="217.4" r="0.94" fill="#553566"/>
<circle cx="80.7" cy="215.7" r="0.91" fill="#5c3b6c"/>
<circle cx="83.1" cy="216.8" r="0.83" fill="#6a4674"/>
<circle cx="88.4" cy="217.5" r="1.04" fill="#6a4674"/>
<circle cx="91.7" cy="217.0" r="0.83" fill="#6a4674"/>
<circle cx="95.7" cy="217.3" r="1.02" fill="#4e3062"/>
<circle cx="98.8" cy="217.0" r="0.83" fill="#6a4674"/>
<circle cx="102.9" cy="215.6" r="0.89" fill="#553566"/>
<circle cx="30.4" cy="219.9" r="0.93" fill="#553566"/>
<circle cx="35.0" cy="220.5" r="0.99" fill="#5c3b6c"/>
<circle cx="39.0" cy="221.6" r="0.97" fill="#5c3b6c"/>
<circle cx="43.3" cy="219.9" r="0.81" fill="#4e3062"/>
<circle cx="47.7" cy="219.6" r="0.85" fill="#47305e"/>
<circle cx="49.6" cy="219.4" r="0.93" fill="#553566"/>
<circle cx="54.6" cy="219.6" r="0.83" fill="#6a4674"/>
<circle cx="69.9" cy="219.8" r="0.84" fill="#5c3b6c"/>
<circle cx="75.2" cy="220.9" r="0.84" fill="#5c3b6c"/>
<circle cx="78.3" cy="221.4" r="0.97" fill="#6a4674"/>
<circle cx="80.9" cy="221.1" r="0.95" fill="#6a4674"/>
<circle cx="84.8" cy="219.9" r="1.02" fill="#6a4674"/>
<circle cx="89.2" cy="220.5" r="0.82" fill="#4e3062"/>
<circle cx="93.1" cy="219.7" r="1.02" fill="#5c3b6c"/>
<circle cx="98.5" cy="220.4" r="0.82" fill="#5c3b6c"/>
<circle cx="101.6" cy="220.7" r="0.99" fill="#6a4674"/>
<circle cx="21.1" cy="224.5" r="0.94" fill="#553566"/>
<circle cx="30.3" cy="223.7" r="0.89" fill="#5c3b6c"/>
<circle cx="31.8" cy="223.8" r="1.03" fill="#4e3062"/>
<circle cx="36.4" cy="222.3" r="1.04" fill="#5c3b6c"/>
<circle cx="42.1" cy="223.2" r="0.82" fill="#4e3062"/>
<circle cx="43.7" cy="223.5" r="1.03" fill="#47305e"/>
<circle cx="48.7" cy="223.5" r="0.82" fill="#6a4674"/>
<circle cx="52.8" cy="224.9" r="0.83" fill="#5c3b6c"/>
<circle cx="56.4" cy="222.5" r="0.94" fill="#47305e"/>
<circle cx="59.2" cy="224.8" r="0.85" fill="#6a4674"/>
<circle cx="65.4" cy="225.0" r="1.03" fill="#553566"/>
<circle cx="69.3" cy="222.4" r="0.95" fill="#47305e"/>
<circle cx="72.3" cy="224.0" r="0.82" fill="#47305e"/>
<circle cx="75.0" cy="224.8" r="0.87" fill="#6a4674"/>
<circle cx="81.1" cy="222.4" r="1.01" fill="#47305e"/>
<circle cx="83.8" cy="223.9" r="1.00" fill="#4e3062"/>
<circle cx="87.3" cy="224.9" r="0.90" fill="#5c3b6c"/>
<circle cx="91.3" cy="223.2" r="0.80" fill="#5c3b6c"/>
<circle cx="94.8" cy="223.9" r="0.88" fill="#6a4674"/>
<circle cx="99.2" cy="223.0" r="0.84" fill="#5c3b6c"/>
<circle cx="102.4" cy="223.6" r="1.03" fill="#5c3b6c"/>
<circle cx="19.7" cy="226.4" r="0.86" fill="#4e3062"/>
<circle cx="22.3" cy="226.4" r="0.88" fill="#5c3b6c"/>
<circle cx="27.6" cy="227.9" r="0.82" fill="#47305e"/>
<circle cx="30.3" cy="226.3" r="1.05" fill="#6a4674"/>
<circle cx="35.3" cy="225.9" r="1.01" fill="#5c3b6c"/>
<circle cx="38.6" cy="227.6" r="1.05" fill="#5c3b6c"/>
<circle cx="42.3" cy="226.5" r="0.99" fill="#553566"/>
<circle cx="47.9" cy="228.2" r="0.81" fill="#4e3062"/>
<circle cx="50.3" cy="226.2" r="0.84" fill="#553566"/>
<circle cx="55.6" cy="228.3" r="1.03" fill="#5c3b6c"/>
<circle cx="59.1" cy="226.6" r="0.86" fill="#5c3b6c"/>
<circle cx="63.2" cy="227.7" r="0.91" fill="#6a4674"/>
<circle cx="66.7" cy="228.2" r="1.02" fill="#5c3b6c"/>
<circle cx="70.6" cy="227.6" r="0.88" fill="#47305e"/>
<circle cx="72.8" cy="227.2" r="0.94" fill="#47305e"/>
<circle cx="77.1" cy="226.0" r="0.80" fill="#6a4674"/>
<circle cx="83.0" cy="228.3" r="0.85" fill="#6a4674"/>
<circle cx="86.0" cy="226.0" r="1.02" fill="#47305e"/>
<circle cx="89.4" cy="227.4" r="0.92" fill="#5c3b6c"/>
<circle cx="92.4" cy="227.0" r="0.91" fill="#47305e"/>
<circle cx="97.0" cy="225.9" r="0.84" fill="#5c3b6c"/>
<circle cx="102.4" cy="225.8" r="1.04" fill="#47305e"/>
<circle cx="21.6" cy="229.6" r="0.88" fill="#4e3062"/>
<circle cx="25.2" cy="231.4" r="0.97" fill="#6a4674"/>
<circle cx="29.9" cy="230.0" r="1.02" fill="#47305e"/>
<circle cx="33.7" cy="230.3" r="0.86" fill="#553566"/>
<circle cx="36.6" cy="231.7" r="1.02" fill="#5c3b6c"/>
<circle cx="41.1" cy="230.6" r="0.99" fill="#6a4674"/>
<circle cx="44.4" cy="230.7" r="1.04" fill="#6a4674"/>
<circle cx="49.4" cy="230.8" r="0.92" fill="#4e3062"/>
<circle cx="52.9" cy="231.6" r="0.89" fill="#4e3062"/>
<circle cx="57.3" cy="230.2" r="1.01" fill="#47305e"/>
<circle cx="60.6" cy="229.4" r="0.92" fill="#5c3b6c"/>
<circle cx="65.9" cy="229.9" r="0.82" fill="#4e3062"/>
<circle cx="67.8" cy="231.4" r="0.86" fill="#47305e"/>
<circle cx="71.3" cy="230.1" r="0.82" fill="#553566"/>
<circle cx="75.4" cy="230.0" r="0.93" fill="#5c3b6c"/>
<circle cx="80.6" cy="231.0" r="0.87" fill="#5c3b6c"/>
<circle cx="84.6" cy="231.3" r="1.00" fill="#5c3b6c"/>
<circle cx="87.0" cy="230.4" r="0.81" fill="#4e3062"/>
<circle cx="93.2" cy="230.9" r="0.96" fill="#553566"/>
<circle cx="97.0" cy="230.9" r="0.97" fill="#4e3062"/>
<circle cx="99.1" cy="229.9" r="0.86" fill="#47305e"/>
<circle cx="18.7" cy="234.5" r="1.02" fill="#553566"/>
<circle cx="24.4" cy="234.9" r="1.04" fill="#553566"/>
<circle cx="26.8" cy="234.4" r="1.02" fill="#553566"/>
<circle cx="32.2" cy="233.1" r="0.99" fill="#5c3b6c"/>
<circle cx="35.4" cy="233.4" r="0.85" fill="#6a4674"/>
<circle cx="39.7" cy="235.1" r="1.03" fill="#4e3062"/>
<circle cx="42.6" cy="235.1" r="1.04" fill="#4e3062"/>
<circle cx="46.6" cy="233.3" r="0.92" fill="#4e3062"/>
<circle cx="49.8" cy="234.4" r="0.99" fill="#47305e"/>
<circle cx="54.1" cy="233.1" r="0.86" fill="#6a4674"/>
<circle cx="62.1" cy="234.9" r="0.93" fill="#5c3b6c"/>
<circle cx="66.3" cy="233.1" r="1.04" fill="#4e3062"/>
<circle cx="70.2" cy="233.8" r="0.96" fill="#47305e"/>
<circle cx="75.4" cy="233.2" r="1.05" fill="#47305e"/>
<circle cx="86.8" cy="234.1" r="0.87" fill="#4e3062"/>
<circle cx="90.5" cy="233.8" r="0.83" fill="#553566"/>
<circle cx="93.0" cy="233.2" r="0.94" fill="#4e3062"/>
<circle cx="97.1" cy="234.4" r="0.83" fill="#553566"/>
<circle cx="101.6" cy="234.6" r="1.00" fill="#5c3b6c"/>
<circle cx="22.1" cy="236.0" r="0.83" fill="#4e3062"/>
<circle cx="25.8" cy="237.0" r="0.99" fill="#553566"/>
<circle cx="29.9" cy="236.5" r="0.99" fill="#47305e"/>
<circle cx="34.5" cy="238.4" r="0.88" fill="#4e3062"/>
<circle cx="36.6" cy="238.3" r="0.90" fill="#553566"/>
<circle cx="42.3" cy="236.4" r="0.82" fill="#6a4674"/>
<circle cx="45.0" cy="236.9" r="0.91" fill="#6a4674"/>
<circle cx="48.3" cy="236.0" r="0.96" fill="#4e3062"/>
<circle cx="52.8" cy="237.2" r="0.91" fill="#553566"/>
<circle cx="57.3" cy="237.3" r="1.03" fill="#4e3062"/>
<circle cx="61.4" cy="236.7" r="1.04" fill="#553566"/>
<circle cx="64.5" cy="237.7" r="0.99" fill="#47305e"/>
<circle cx="68.8" cy="237.9" r="0.90" fill="#553566"/>
<circle cx="72.0" cy="237.1" r="0.89" fill="#553566"/>
<circle cx="75.8" cy="238.5" r="0.91" fill="#553566"/>
<circle cx="80.5" cy="238.1" r="0.90" fill="#47305e"/>
<circle cx="85.5" cy="237.8" r="0.89" fill="#553566"/>
<circle cx="87.4" cy="237.8" r="0.94" fill="#4e3062"/>
<circle cx="91.0" cy="238.0" r="0.98" fill="#4e3062"/>
<circle cx="95.2" cy="237.4" r="0.92" fill="#5c3b6c"/>
<circle cx="100.9" cy="238.1" r="0.92" fill="#553566"/>
<circle cx="104.1" cy="236.2" r="0.92" fill="#47305e"/>
<circle cx="20.3" cy="241.9" r="0.99" fill="#4e3062"/>
<circle cx="22.7" cy="240.8" r="0.89" fill="#5c3b6c"/>
<circle cx="27.6" cy="240.0" r="0.93" fill="#4e3062"/>
<circle cx="32.0" cy="240.4" r="1.00" fill="#47305e"/>
<circle cx="35.1" cy="239.8" r="0.82" fill="#4e3062"/>
<circle cx="40.3" cy="240.0" r="0.97" fill="#4e3062"/>
<circle cx="44.0" cy="240.1" r="0.96" fill="#6a4674"/>
<circle cx="48.0" cy="240.2" r="0.85" fill="#553566"/>
<circle cx="51.9" cy="239.4" r="1.00" fill="#6a4674"/>
<circle cx="55.6" cy="242.0" r="0.86" fill="#47305e"/>
<circle cx="58.7" cy="241.1" r="1.00" fill="#553566"/>
<circle cx="62.2" cy="239.8" r="0.99" fill="#553566"/>
<circle cx="66.6" cy="241.2" r="1.02" fill="#5c3b6c"/>
<circle cx="70.8" cy="239.5" r="0.97" fill="#4e3062"/>
<circle cx="75.5" cy="241.2" r="0.81" fill="#6a4674"/>
<circle cx="82.8" cy="241.6" r="0.83" fill="#4e3062"/>
<circle cx="87.6" cy="241.0" r="0.81" fill="#5c3b6c"/>
<circle cx="90.9" cy="240.2" r="0.87" fill="#47305e"/>
<circle cx="93.0" cy="240.0" r="1.03" fill="#6a4674"/>
<circle cx="97.5" cy="239.3" r="0.95" fill="#6a4674"/>
<circle cx="101.2" cy="239.7" r="0.97" fill="#5c3b6c"/>
<circle cx="27.0" cy="200.1" r="0.93" fill="#4e3062"/>
<circle cx="25.9" cy="209.3" r="0.88" fill="#47305e"/>
<circle cx="22.3" cy="213.3" r="0.89" fill="#553566"/>
<circle cx="28.4" cy="212.6" r="1.10" fill="#553566"/>
<circle cx="24.8" cy="216.2" r="0.97" fill="#553566"/>
<circle cx="29.5" cy="219.5" r="0.93" fill="#5c3b6c"/>
<circle cx="23.1" cy="225.6" r="0.89" fill="#553566"/>
</g>
<rect x="19.40" y="185.60" width="84.00" height="54.70" fill="none" stroke="#3b3340" stroke-width="0.8"/>
</g>
<g clip-path="url(#ctm)"><g filter="url(#soft)">
<rect x="110" y="185.2" width="84.6" height="55.5" fill="#d48a8a"/>
<circle cx="186.2" cy="226.4" r="3.0" fill="#e09a98" opacity="0.55"/>
<circle cx="162.0" cy="237.1" r="2.1" fill="#e49484" opacity="0.55"/>
<circle cx="135.7" cy="234.0" r="4.0" fill="#c07080" opacity="0.55"/>
<circle cx="170.5" cy="195.5" r="3.5" fill="#e09a98" opacity="0.55"/>
<circle cx="130.3" cy="200.7" r="4.8" fill="#e09a98" opacity="0.55"/>
<circle cx="115.6" cy="195.5" r="2.7" fill="#dc8c86" opacity="0.55"/>
<circle cx="189.2" cy="222.1" r="2.4" fill="#c07080" opacity="0.55"/>
<circle cx="189.1" cy="203.0" r="2.0" fill="#c07080" opacity="0.55"/>
<circle cx="151.6" cy="206.5" r="3.6" fill="#e09a98" opacity="0.55"/>
<circle cx="119.9" cy="205.2" r="3.8" fill="#e49484" opacity="0.55"/>
<circle cx="137.9" cy="193.4" r="3.8" fill="#e49484" opacity="0.55"/>
<circle cx="125.3" cy="213.0" r="3.5" fill="#e49484" opacity="0.55"/>
<circle cx="163.0" cy="210.1" r="3.5" fill="#e09a98" opacity="0.55"/>
<circle cx="116.6" cy="233.2" r="2.1" fill="#c66f78" opacity="0.55"/>
<circle cx="142.4" cy="197.7" r="3.3" fill="#c07080" opacity="0.55"/>
<circle cx="173.1" cy="227.4" r="4.2" fill="#e09a98" opacity="0.55"/>
<circle cx="139.7" cy="188.9" r="2.8" fill="#e49484" opacity="0.55"/>
<circle cx="113.2" cy="186.8" r="4.6" fill="#c07080" opacity="0.55"/>
<circle cx="122.3" cy="224.8" r="2.4" fill="#dc8c86" opacity="0.55"/>
<circle cx="160.9" cy="236.1" r="2.1" fill="#e09a98" opacity="0.55"/>
<circle cx="129.5" cy="195.2" r="3.4" fill="#c07080" opacity="0.55"/>
<circle cx="127.0" cy="220.7" r="2.5" fill="#c66f78" opacity="0.55"/>
<circle cx="179.9" cy="229.1" r="3.2" fill="#c07080" opacity="0.55"/>
<circle cx="158.1" cy="213.4" r="3.2" fill="#c07080" opacity="0.55"/>
<circle cx="136.0" cy="240.0" r="2.1" fill="#dc8c86" opacity="0.55"/>
<circle cx="189.1" cy="208.7" r="4.4" fill="#c07080" opacity="0.55"/>
<circle cx="134.5" cy="201.1" r="4.0" fill="#c66f78" opacity="0.55"/>
<circle cx="142.4" cy="224.5" r="3.1" fill="#e09a98" opacity="0.55"/>
<circle cx="186.8" cy="187.5" r="2.9" fill="#dc8c86" opacity="0.55"/>
<circle cx="130.7" cy="240.5" r="2.3" fill="#c66f78" opacity="0.55"/>
<circle cx="163.1" cy="233.2" r="3.0" fill="#dc8c86" opacity="0.55"/>
<circle cx="119.5" cy="239.6" r="4.2" fill="#dc8c86" opacity="0.55"/>
<circle cx="160.0" cy="222.8" r="3.7" fill="#e49484" opacity="0.55"/>
<circle cx="185.2" cy="200.6" r="2.7" fill="#c07080" opacity="0.55"/>
<circle cx="165.5" cy="238.5" r="2.4" fill="#c07080" opacity="0.55"/>
<circle cx="152.0" cy="190.2" r="4.3" fill="#e09a98" opacity="0.55"/>
<circle cx="146.7" cy="217.3" r="2.6" fill="#e49484" opacity="0.55"/>
<circle cx="142.9" cy="200.1" r="4.0" fill="#e09a98" opacity="0.55"/>
<circle cx="132.2" cy="205.5" r="4.1" fill="#c66f78" opacity="0.55"/>
<circle cx="155.9" cy="199.8" r="3.1" fill="#e49484" opacity="0.55"/>
<circle cx="138.7" cy="185.3" r="2.0" fill="#e09a98" opacity="0.55"/>
<circle cx="163.1" cy="220.8" r="3.4" fill="#e49484" opacity="0.55"/>
<circle cx="163.9" cy="188.8" r="4.1" fill="#c66f78" opacity="0.55"/>
<circle cx="177.8" cy="195.1" r="3.4" fill="#c07080" opacity="0.55"/>
<circle cx="189.1" cy="208.6" r="3.0" fill="#c07080" opacity="0.55"/>
<circle cx="130.4" cy="225.4" r="4.3" fill="#e49484" opacity="0.55"/>
<circle cx="168.0" cy="193.6" r="4.3" fill="#c66f78" opacity="0.55"/>
<circle cx="120.6" cy="218.4" r="4.1" fill="#c07080" opacity="0.55"/>
<circle cx="145.0" cy="195.4" r="4.2" fill="#e49484" opacity="0.55"/>
<circle cx="167.0" cy="205.1" r="3.9" fill="#dc8c86" opacity="0.55"/>
<circle cx="118.3" cy="187.2" r="3.4" fill="#dc8c86" opacity="0.55"/>
<circle cx="167.8" cy="215.6" r="4.6" fill="#dc8c86" opacity="0.55"/>
<circle cx="189.6" cy="188.4" r="3.9" fill="#c07080" opacity="0.55"/>
<circle cx="129.4" cy="186.9" r="2.5" fill="#e09a98" opacity="0.55"/>
<circle cx="123.6" cy="204.5" r="2.3" fill="#dc8c86" opacity="0.55"/>
<circle cx="187.7" cy="205.9" r="3.9" fill="#dc8c86" opacity="0.55"/>
<circle cx="184.8" cy="216.0" r="3.7" fill="#e09a98" opacity="0.55"/>
<circle cx="167.3" cy="239.3" r="2.9" fill="#dc8c86" opacity="0.55"/>
<circle cx="163.5" cy="211.2" r="2.0" fill="#c07080" opacity="0.55"/>
<circle cx="182.1" cy="212.0" r="4.7" fill="#c66f78" opacity="0.55"/>
<circle cx="153.2" cy="188.5" r="2.4" fill="#e49484" opacity="0.55"/>
<circle cx="140.9" cy="190.6" r="4.9" fill="#dc8c86" opacity="0.55"/>
<circle cx="116.2" cy="219.0" r="3.3" fill="#dc8c86" opacity="0.55"/>
<circle cx="143.4" cy="236.3" r="3.5" fill="#c07080" opacity="0.55"/>
<circle cx="167.7" cy="232.6" r="2.2" fill="#e09a98" opacity="0.55"/>
<circle cx="113.9" cy="207.4" r="2.2" fill="#c66f78" opacity="0.55"/>
<circle cx="147.6" cy="216.8" r="2.3" fill="#c66f78" opacity="0.55"/>
<circle cx="174.6" cy="209.9" r="2.9" fill="#dc8c86" opacity="0.55"/>
<circle cx="142.5" cy="235.8" r="4.2" fill="#e09a98" opacity="0.55"/>
<circle cx="184.9" cy="212.0" r="2.4" fill="#c66f78" opacity="0.55"/>
<circle cx="119.6" cy="233.9" r="4.2" fill="#e49484" opacity="0.55"/>
<circle cx="167.1" cy="197.1" r="3.3" fill="#e49484" opacity="0.55"/>
<circle cx="193.0" cy="200.8" r="2.1" fill="#c66f78" opacity="0.55"/>
<circle cx="145.9" cy="189.4" r="3.7" fill="#dc8c86" opacity="0.55"/>
<circle cx="149.8" cy="235.2" r="4.4" fill="#c66f78" opacity="0.55"/>
<circle cx="180.1" cy="235.8" r="2.5" fill="#c07080" opacity="0.55"/>
<circle cx="135.5" cy="236.1" r="2.6" fill="#e09a98" opacity="0.55"/>
<circle cx="145.5" cy="193.9" r="3.4" fill="#c66f78" opacity="0.55"/>
<circle cx="137.1" cy="225.4" r="4.7" fill="#e09a98" opacity="0.55"/>
<circle cx="179.1" cy="198.4" r="4.5" fill="#e49484" opacity="0.55"/>
<circle cx="113.3" cy="189" r="1.98" fill="#f6e6e8"/>
<circle cx="126.5" cy="197.2" r="1.89" fill="#f6e6e8"/>
<circle cx="131.5" cy="190.6" r="2.08" fill="#f6e6e8"/>
<circle cx="124.9" cy="204.7" r="1.92" fill="#f6e6e8"/>
<circle cx="131.5" cy="203.8" r="1.86" fill="#f6e6e8"/>
<circle cx="136.4" cy="196.4" r="2.08" fill="#f6e6e8"/>
<circle cx="143.9" cy="187.3" r="2.42" fill="#f6e6e8"/>
<circle cx="145.5" cy="200.5" r="2.34" fill="#f6e6e8"/>
<circle cx="153.8" cy="208" r="2.31" fill="#f6e6e8"/>
<circle cx="145.5" cy="210.4" r="1.96" fill="#f6e6e8"/>
<circle cx="157.1" cy="213.8" r="2.17" fill="#f6e6e8"/>
<circle cx="172" cy="212.1" r="2.00" fill="#f6e6e8"/>
<circle cx="174.5" cy="194.7" r="1.94" fill="#f6e6e8"/>
<circle cx="182.7" cy="187.3" r="1.89" fill="#f6e6e8"/>
<circle cx="187.7" cy="202.2" r="1.96" fill="#f6e6e8"/>
<circle cx="191" cy="213.8" r="2.42" fill="#f6e6e8"/>
<circle cx="182.7" cy="217" r="2.35" fill="#f6e6e8"/>
<circle cx="177.8" cy="222" r="2.34" fill="#f6e6e8"/>
<circle cx="189.3" cy="225.3" r="2.34" fill="#f6e6e8"/>
<circle cx="172.8" cy="232" r="1.95" fill="#f6e6e8"/>
<circle cx="182.7" cy="233.6" r="2.02" fill="#f6e6e8"/>
<circle cx="167.9" cy="227" r="2.22" fill="#f6e6e8"/>
<circle cx="151.3" cy="232" r="2.30" fill="#f6e6e8"/>
<circle cx="143" cy="228.6" r="2.38" fill="#f6e6e8"/>
<circle cx="145.5" cy="236.9" r="2.39" fill="#f6e6e8"/>
<circle cx="137.3" cy="220.4" r="1.87" fill="#f6e6e8"/>
<circle cx="127.4" cy="221.2" r="2.21" fill="#f6e6e8"/>
<circle cx="116.6" cy="222" r="2.26" fill="#f6e6e8"/>
<circle cx="123.2" cy="227" r="2.15" fill="#f6e6e8"/>
<circle cx="117.4" cy="215.4" r="1.94" fill="#f6e6e8"/>
<circle cx="115" cy="207.1" r="2.13" fill="#f6e6e8"/>
<circle cx="154.6" cy="222" r="1.87" fill="#f6e6e8"/>
<circle cx="111.8" cy="185.6" r="0.78" fill="#6c4e84"/>
<ellipse cx="113.7" cy="185.6" rx="1.38" ry="0.73" transform="rotate(21 113.7 185.6)" fill="#6c4e84"/>
<ellipse cx="116.6" cy="185.4" rx="1.24" ry="0.66" transform="rotate(66 116.6 185.4)" fill="#58406e"/>
<ellipse cx="120.1" cy="187.3" rx="1.10" ry="0.59" transform="rotate(117 120.1 187.3)" fill="#58406e"/>
<ellipse cx="123.9" cy="186.0" rx="1.29" ry="0.69" transform="rotate(101 123.9 186.0)" fill="#7a5a8c"/>
<ellipse cx="126.9" cy="186.6" rx="1.16" ry="0.62" transform="rotate(57 126.9 186.6)" fill="#5e4278"/>
<circle cx="129.8" cy="186.9" r="0.78" fill="#58406e"/>
<circle cx="134.5" cy="187.3" r="0.86" fill="#7a5a8c"/>
<circle cx="137.3" cy="185.3" r="0.87" fill="#6c4e84"/>
<circle cx="147.9" cy="186.2" r="0.80" fill="#5e4278"/>
<ellipse cx="150.8" cy="185.1" rx="1.27" ry="0.68" transform="rotate(93 150.8 185.1)" fill="#7a5a8c"/>
<ellipse cx="153.7" cy="185.6" rx="1.28" ry="0.68" transform="rotate(145 153.7 185.6)" fill="#5e4278"/>
<circle cx="156.2" cy="186.3" r="0.72" fill="#58406e"/>
<circle cx="160.0" cy="185.8" r="0.77" fill="#5e4278"/>
<circle cx="164.1" cy="186.1" r="0.87" fill="#6c4e84"/>
<ellipse cx="167.9" cy="186.9" rx="1.39" ry="0.74" transform="rotate(26 167.9 186.9)" fill="#58406e"/>
<circle cx="173.2" cy="186.0" r="0.84" fill="#7a5a8c"/>
<circle cx="177.2" cy="185.3" r="0.80" fill="#58406e"/>
<ellipse cx="179.3" cy="187.1" rx="1.15" ry="0.61" transform="rotate(94 179.3 187.1)" fill="#6c4e84"/>
<ellipse cx="187.2" cy="185.3" rx="1.12" ry="0.60" transform="rotate(178 187.2 185.3)" fill="#58406e"/>
<ellipse cx="190.9" cy="185.9" rx="1.36" ry="0.73" transform="rotate(136 190.9 185.9)" fill="#58406e"/>
<ellipse cx="194.2" cy="187.2" rx="1.10" ry="0.58" transform="rotate(164 194.2 187.2)" fill="#6c4e84"/>
<circle cx="110.6" cy="189.9" r="0.72" fill="#7a5a8c"/>
<circle cx="115.5" cy="189.7" r="0.81" fill="#58406e"/>
<circle cx="122.5" cy="190.2" r="0.74" fill="#58406e"/>
<circle cx="125.9" cy="189.2" r="0.87" fill="#6c4e84"/>
<ellipse cx="127.2" cy="188.6" rx="1.17" ry="0.62" transform="rotate(124 127.2 188.6)" fill="#6c4e84"/>
<ellipse cx="134.5" cy="188.9" rx="1.12" ry="0.60" transform="rotate(68 134.5 188.9)" fill="#5e4278"/>
<ellipse cx="138.1" cy="188.1" rx="1.07" ry="0.57" transform="rotate(85 138.1 188.1)" fill="#58406e"/>
<ellipse cx="150.6" cy="189.8" rx="1.16" ry="0.62" transform="rotate(106 150.6 189.8)" fill="#58406e"/>
<ellipse cx="154.2" cy="188.1" rx="1.35" ry="0.72" transform="rotate(51 154.2 188.1)" fill="#5e4278"/>
<ellipse cx="157.5" cy="188.9" rx="1.27" ry="0.68" transform="rotate(44 157.5 188.9)" fill="#58406e"/>
<circle cx="170.7" cy="187.9" r="0.78" fill="#58406e"/>
<ellipse cx="173.5" cy="189.3" rx="1.33" ry="0.71" transform="rotate(5 173.5 189.3)" fill="#6c4e84"/>
<circle cx="177.7" cy="188.0" r="0.79" fill="#58406e"/>
<ellipse cx="180.3" cy="188.9" rx="1.36" ry="0.73" transform="rotate(70 180.3 188.9)" fill="#58406e"/>
<circle cx="188.1" cy="189.7" r="0.78" fill="#5e4278"/>
<ellipse cx="191.7" cy="189.1" rx="1.38" ry="0.74" transform="rotate(1 191.7 189.1)" fill="#58406e"/>
<ellipse cx="194.4" cy="190.0" rx="1.39" ry="0.74" transform="rotate(114 194.4 190.0)" fill="#58406e"/>
<circle cx="110.7" cy="191.5" r="0.79" fill="#7a5a8c"/>
<ellipse cx="113.9" cy="191.8" rx="1.27" ry="0.68" transform="rotate(86 113.9 191.8)" fill="#5e4278"/>
<circle cx="117.0" cy="191.0" r="0.93" fill="#5e4278"/>
<ellipse cx="119.8" cy="192.1" rx="1.12" ry="0.60" transform="rotate(85 119.8 192.1)" fill="#58406e"/>
<circle cx="123.9" cy="192.2" r="0.93" fill="#6c4e84"/>
<ellipse cx="126.6" cy="192.9" rx="1.31" ry="0.70" transform="rotate(3 126.6 192.9)" fill="#7a5a8c"/>
<circle cx="134.7" cy="190.9" r="0.76" fill="#5e4278"/>
<circle cx="141.6" cy="192.4" r="0.89" fill="#7a5a8c"/>
<circle cx="144.0" cy="192.4" r="0.73" fill="#7a5a8c"/>
<circle cx="151.5" cy="192.9" r="0.91" fill="#7a5a8c"/>
<ellipse cx="152.7" cy="192.5" rx="1.36" ry="0.73" transform="rotate(92 152.7 192.5)" fill="#5e4278"/>
<circle cx="157.6" cy="190.9" r="0.87" fill="#6c4e84"/>
<circle cx="170.1" cy="192.3" r="0.73" fill="#5e4278"/>
<circle cx="177.9" cy="192.7" r="0.73" fill="#5e4278"/>
<ellipse cx="180.6" cy="191.2" rx="1.12" ry="0.60" transform="rotate(13 180.6 191.2)" fill="#5e4278"/>
<circle cx="183.8" cy="190.9" r="0.93" fill="#58406e"/>
<circle cx="187.4" cy="193.0" r="0.95" fill="#58406e"/>
<ellipse cx="190.2" cy="192.2" rx="1.36" ry="0.73" transform="rotate(1 190.2 192.2)" fill="#7a5a8c"/>
<circle cx="115.5" cy="195.7" r="0.70" fill="#7a5a8c"/>
<circle cx="117.8" cy="195.0" r="0.72" fill="#5e4278"/>
<circle cx="122.7" cy="195.4" r="0.83" fill="#7a5a8c"/>
<ellipse cx="128.8" cy="194.2" rx="1.16" ry="0.62" transform="rotate(154 128.8 194.2)" fill="#7a5a8c"/>
<circle cx="132.3" cy="195.3" r="0.80" fill="#7a5a8c"/>
<circle cx="137.8" cy="194.4" r="0.79" fill="#6c4e84"/>
<circle cx="142.7" cy="195.9" r="0.74" fill="#5e4278"/>
<ellipse cx="151.6" cy="193.8" rx="1.15" ry="0.61" transform="rotate(82 151.6 193.8)" fill="#6c4e84"/>
<ellipse cx="158.6" cy="194.1" rx="1.32" ry="0.70" transform="rotate(105 158.6 194.1)" fill="#7a5a8c"/>
<circle cx="160.8" cy="193.9" r="0.73" fill="#5e4278"/>
<ellipse cx="164.2" cy="195.6" rx="1.33" ry="0.71" transform="rotate(81 164.2 195.6)" fill="#58406e"/>
<ellipse cx="167.8" cy="195.1" rx="1.23" ry="0.65" transform="rotate(32 167.8 195.1)" fill="#5e4278"/>
<circle cx="171.4" cy="195.3" r="0.73" fill="#7a5a8c"/>
<circle cx="178.0" cy="194.1" r="0.73" fill="#5e4278"/>
<circle cx="182.7" cy="195.0" r="0.74" fill="#5e4278"/>
<ellipse cx="187.6" cy="193.8" rx="1.37" ry="0.73" transform="rotate(76 187.6 193.8)" fill="#6c4e84"/>
<ellipse cx="191.1" cy="195.8" rx="1.36" ry="0.73" transform="rotate(5 191.1 195.8)" fill="#58406e"/>
<ellipse cx="195.0" cy="195.7" rx="1.31" ry="0.70" transform="rotate(153 195.0 195.7)" fill="#6c4e84"/>
<circle cx="110.1" cy="197.2" r="0.82" fill="#5e4278"/>
<ellipse cx="114.2" cy="196.6" rx="1.39" ry="0.74" transform="rotate(123 114.2 196.6)" fill="#5e4278"/>
<ellipse cx="116.3" cy="198.6" rx="1.38" ry="0.73" transform="rotate(78 116.3 198.6)" fill="#5e4278"/>
<ellipse cx="121.0" cy="198.0" rx="1.25" ry="0.67" transform="rotate(18 121.0 198.0)" fill="#5e4278"/>
<circle cx="130.7" cy="197.4" r="0.81" fill="#6c4e84"/>
<circle cx="133.3" cy="197.0" r="0.77" fill="#5e4278"/>
<ellipse cx="139.5" cy="198.0" rx="1.32" ry="0.70" transform="rotate(131 139.5 198.0)" fill="#6c4e84"/>
<ellipse cx="144.8" cy="197.0" rx="1.10" ry="0.59" transform="rotate(153 144.8 197.0)" fill="#5e4278"/>
<circle cx="149.3" cy="197.2" r="0.76" fill="#6c4e84"/>
<circle cx="157.3" cy="196.9" r="0.87" fill="#6c4e84"/>
<ellipse cx="161.1" cy="198.4" rx="1.18" ry="0.63" transform="rotate(83 161.1 198.4)" fill="#5e4278"/>
<circle cx="163.5" cy="196.8" r="0.89" fill="#7a5a8c"/>
<circle cx="167.8" cy="198.7" r="0.85" fill="#5e4278"/>
<ellipse cx="171.1" cy="197.8" rx="1.26" ry="0.67" transform="rotate(179 171.1 197.8)" fill="#5e4278"/>
<ellipse cx="174.1" cy="197.6" rx="1.08" ry="0.58" transform="rotate(79 174.1 197.6)" fill="#58406e"/>
<circle cx="175.8" cy="198.3" r="0.80" fill="#6c4e84"/>
<ellipse cx="180.6" cy="196.8" rx="1.30" ry="0.69" transform="rotate(149 180.6 196.8)" fill="#5e4278"/>
<circle cx="183.7" cy="198.5" r="0.74" fill="#7a5a8c"/>
<ellipse cx="187.0" cy="198.7" rx="1.25" ry="0.67" transform="rotate(78 187.0 198.7)" fill="#5e4278"/>
<ellipse cx="190.8" cy="198.7" rx="1.15" ry="0.61" transform="rotate(62 190.8 198.7)" fill="#5e4278"/>
<ellipse cx="194.1" cy="197.7" rx="1.13" ry="0.60" transform="rotate(145 194.1 197.7)" fill="#58406e"/>
<circle cx="111.7" cy="199.4" r="0.76" fill="#6c4e84"/>
<ellipse cx="116.4" cy="200.0" rx="1.16" ry="0.62" transform="rotate(156 116.4 200.0)" fill="#6c4e84"/>
<ellipse cx="119.5" cy="201.5" rx="1.41" ry="0.75" transform="rotate(116 119.5 201.5)" fill="#5e4278"/>
<ellipse cx="122.0" cy="199.7" rx="1.28" ry="0.68" transform="rotate(34 122.0 199.7)" fill="#6c4e84"/>
<circle cx="126.1" cy="201.5" r="0.75" fill="#5e4278"/>
<circle cx="129.8" cy="201.7" r="0.93" fill="#6c4e84"/>
<circle cx="131.9" cy="200.3" r="0.76" fill="#58406e"/>
<ellipse cx="136.1" cy="199.9" rx="1.19" ry="0.63" transform="rotate(145 136.1 199.9)" fill="#58406e"/>
<circle cx="138.4" cy="201.4" r="0.71" fill="#6c4e84"/>
<circle cx="142.3" cy="199.9" r="0.81" fill="#5e4278"/>
<circle cx="148.7" cy="199.8" r="0.72" fill="#6c4e84"/>
<ellipse cx="159.1" cy="201.2" rx="1.23" ry="0.65" transform="rotate(84 159.1 201.2)" fill="#6c4e84"/>
<circle cx="162.4" cy="199.9" r="0.85" fill="#7a5a8c"/>
<ellipse cx="165.4" cy="201.2" rx="1.19" ry="0.63" transform="rotate(160 165.4 201.2)" fill="#58406e"/>
<circle cx="168.7" cy="200.2" r="0.83" fill="#7a5a8c"/>
<circle cx="171.6" cy="199.6" r="0.85" fill="#6c4e84"/>
<circle cx="175.1" cy="201.1" r="0.86" fill="#7a5a8c"/>
<ellipse cx="178.7" cy="199.6" rx="1.31" ry="0.70" transform="rotate(131 178.7 199.6)" fill="#58406e"/>
<circle cx="182.4" cy="200.3" r="0.77" fill="#5e4278"/>
<ellipse cx="184.4" cy="201.0" rx="1.24" ry="0.66" transform="rotate(155 184.4 201.0)" fill="#7a5a8c"/>
<ellipse cx="191.6" cy="200.9" rx="1.11" ry="0.59" transform="rotate(51 191.6 200.9)" fill="#7a5a8c"/>
<ellipse cx="109.7" cy="203.6" rx="1.12" ry="0.60" transform="rotate(93 109.7 203.6)" fill="#7a5a8c"/>
<ellipse cx="114.3" cy="204.4" rx="1.18" ry="0.63" transform="rotate(42 114.3 204.4)" fill="#58406e"/>
<circle cx="117.3" cy="203.2" r="0.77" fill="#58406e"/>
<ellipse cx="121.7" cy="202.7" rx="1.31" ry="0.70" transform="rotate(78 121.7 202.7)" fill="#7a5a8c"/>
<ellipse cx="127.6" cy="203.7" rx="1.42" ry="0.76" transform="rotate(104 127.6 203.7)" fill="#58406e"/>
<circle cx="134.9" cy="204.0" r="0.95" fill="#5e4278"/>
<ellipse cx="141.2" cy="204.4" rx="1.22" ry="0.65" transform="rotate(123 141.2 204.4)" fill="#6c4e84"/>
<circle cx="143.6" cy="203.4" r="0.85" fill="#6c4e84"/>
<circle cx="148.1" cy="203.8" r="0.79" fill="#58406e"/>
<ellipse cx="150.2" cy="203.2" rx="1.11" ry="0.59" transform="rotate(106 150.2 203.2)" fill="#58406e"/>
<circle cx="157.0" cy="203.8" r="0.87" fill="#7a5a8c"/>
<circle cx="169.1" cy="202.5" r="0.75" fill="#7a5a8c"/>
<ellipse cx="173.7" cy="203.0" rx="1.37" ry="0.73" transform="rotate(97 173.7 203.0)" fill="#6c4e84"/>
<circle cx="177.3" cy="204.2" r="0.76" fill="#5e4278"/>
<circle cx="179.1" cy="202.8" r="0.76" fill="#5e4278"/>
<ellipse cx="183.3" cy="204.1" rx="1.22" ry="0.65" transform="rotate(72 183.3 204.1)" fill="#5e4278"/>
<ellipse cx="185.8" cy="203.8" rx="1.31" ry="0.70" transform="rotate(151 185.8 203.8)" fill="#7a5a8c"/>
<circle cx="190.8" cy="202.8" r="0.90" fill="#7a5a8c"/>
<ellipse cx="192.5" cy="204.0" rx="1.20" ry="0.64" transform="rotate(94 192.5 204.0)" fill="#6c4e84"/>
<ellipse cx="112.5" cy="206.3" rx="1.32" ry="0.70" transform="rotate(46 112.5 206.3)" fill="#58406e"/>
<circle cx="119.5" cy="205.5" r="0.73" fill="#6c4e84"/>
<circle cx="122.8" cy="205.4" r="0.78" fill="#5e4278"/>
<ellipse cx="128.8" cy="206.2" rx="1.24" ry="0.66" transform="rotate(3 128.8 206.2)" fill="#6c4e84"/>
<ellipse cx="139.4" cy="206.3" rx="1.29" ry="0.69" transform="rotate(152 139.4 206.3)" fill="#58406e"/>
<circle cx="146.1" cy="206.9" r="0.84" fill="#6c4e84"/>
<circle cx="147.7" cy="205.8" r="0.74" fill="#58406e"/>
<ellipse cx="151.8" cy="205.7" rx="1.31" ry="0.70" transform="rotate(56 151.8 205.7)" fill="#6c4e84"/>
<ellipse cx="159.1" cy="206.9" rx="1.32" ry="0.71" transform="rotate(80 159.1 206.9)" fill="#58406e"/>
<circle cx="171.7" cy="207.3" r="0.93" fill="#5e4278"/>
<ellipse cx="174.5" cy="205.2" rx="1.08" ry="0.57" transform="rotate(116 174.5 205.2)" fill="#7a5a8c"/>
<circle cx="182.6" cy="207.2" r="0.76" fill="#7a5a8c"/>
<circle cx="184.5" cy="206.7" r="0.76" fill="#5e4278"/>
<circle cx="188.5" cy="206.6" r="0.82" fill="#58406e"/>
<circle cx="191.7" cy="207.1" r="0.77" fill="#5e4278"/>
<ellipse cx="195.9" cy="206.7" rx="1.40" ry="0.75" transform="rotate(156 195.9 206.7)" fill="#58406e"/>
<ellipse cx="109.7" cy="209.4" rx="1.27" ry="0.68" transform="rotate(63 109.7 209.4)" fill="#6c4e84"/>
<ellipse cx="121.0" cy="208.9" rx="1.28" ry="0.68" transform="rotate(162 121.0 208.9)" fill="#7a5a8c"/>
<ellipse cx="123.4" cy="210.0" rx="1.41" ry="0.75" transform="rotate(132 123.4 210.0)" fill="#58406e"/>
<ellipse cx="126.2" cy="208.9" rx="1.18" ry="0.63" transform="rotate(28 126.2 208.9)" fill="#7a5a8c"/>
<circle cx="142.7" cy="209.1" r="0.84" fill="#58406e"/>
<circle cx="149.9" cy="209.1" r="0.86" fill="#6c4e84"/>
<ellipse cx="156.9" cy="209.7" rx="1.25" ry="0.67" transform="rotate(44 156.9 209.7)" fill="#7a5a8c"/>
<circle cx="160.1" cy="209.6" r="0.72" fill="#7a5a8c"/>
<circle cx="164.0" cy="209.9" r="0.91" fill="#5e4278"/>
<circle cx="170.4" cy="208.9" r="0.89" fill="#6c4e84"/>
<ellipse cx="174.2" cy="209.1" rx="1.30" ry="0.70" transform="rotate(141 174.2 209.1)" fill="#6c4e84"/>
<ellipse cx="176.5" cy="209.2" rx="1.06" ry="0.57" transform="rotate(149 176.5 209.2)" fill="#5e4278"/>
<ellipse cx="178.9" cy="209.0" rx="1.11" ry="0.59" transform="rotate(152 178.9 209.0)" fill="#5e4278"/>
<ellipse cx="182.6" cy="209.0" rx="1.15" ry="0.61" transform="rotate(31 182.6 209.0)" fill="#6c4e84"/>
<circle cx="186.7" cy="209.0" r="0.71" fill="#7a5a8c"/>
<circle cx="190.4" cy="208.9" r="0.76" fill="#7a5a8c"/>
<ellipse cx="192.5" cy="208.9" rx="1.07" ry="0.57" transform="rotate(141 192.5 208.9)" fill="#5e4278"/>
<circle cx="113.1" cy="211.0" r="0.92" fill="#58406e"/>
<circle cx="115.5" cy="211.1" r="0.81" fill="#6c4e84"/>
<circle cx="118.5" cy="211.4" r="0.88" fill="#6c4e84"/>
<ellipse cx="122.9" cy="212.7" rx="1.24" ry="0.66" transform="rotate(136 122.9 212.7)" fill="#58406e"/>
<circle cx="125.0" cy="212.5" r="0.92" fill="#6c4e84"/>
<ellipse cx="128.5" cy="212.5" rx="1.30" ry="0.69" transform="rotate(9 128.5 212.5)" fill="#58406e"/>
<circle cx="148.2" cy="212.9" r="0.93" fill="#5e4278"/>
<circle cx="151.0" cy="213.1" r="0.81" fill="#5e4278"/>
<ellipse cx="154.8" cy="212.6" rx="1.17" ry="0.62" transform="rotate(15 154.8 212.6)" fill="#5e4278"/>
<circle cx="158.6" cy="211.0" r="0.77" fill="#5e4278"/>
<circle cx="161.7" cy="212.3" r="0.79" fill="#5e4278"/>
<ellipse cx="164.5" cy="211.2" rx="1.31" ry="0.70" transform="rotate(151 164.5 211.2)" fill="#7a5a8c"/>
<circle cx="168.8" cy="212.5" r="0.89" fill="#5e4278"/>
<ellipse cx="175.2" cy="211.7" rx="1.21" ry="0.65" transform="rotate(154 175.2 211.7)" fill="#6c4e84"/>
<circle cx="179.0" cy="213.0" r="0.72" fill="#58406e"/>
<circle cx="182.4" cy="211.9" r="0.86" fill="#7a5a8c"/>
<circle cx="185.6" cy="211.5" r="0.92" fill="#7a5a8c"/>
<ellipse cx="187.4" cy="211.9" rx="1.30" ry="0.69" transform="rotate(120 187.4 211.9)" fill="#6c4e84"/>
<circle cx="194.1" cy="212.6" r="0.78" fill="#5e4278"/>
<ellipse cx="111.7" cy="214.1" rx="1.29" ry="0.69" transform="rotate(86 111.7 214.1)" fill="#58406e"/>
<ellipse cx="114.8" cy="215.2" rx="1.21" ry="0.65" transform="rotate(109 114.8 215.2)" fill="#6c4e84"/>
<circle cx="120.7" cy="215.0" r="0.76" fill="#6c4e84"/>
<circle cx="128.3" cy="214.2" r="0.79" fill="#6c4e84"/>
<circle cx="130.5" cy="214.6" r="0.85" fill="#7a5a8c"/>
<ellipse cx="140.7" cy="214.6" rx="1.35" ry="0.72" transform="rotate(58 140.7 214.6)" fill="#58406e"/>
<ellipse cx="142.6" cy="214.0" rx="1.16" ry="0.62" transform="rotate(55 142.6 214.0)" fill="#5e4278"/>
<ellipse cx="147.1" cy="214.2" rx="1.39" ry="0.74" transform="rotate(117 147.1 214.2)" fill="#7a5a8c"/>
<circle cx="149.2" cy="215.9" r="0.87" fill="#5e4278"/>
<ellipse cx="154.1" cy="214.8" rx="1.29" ry="0.69" transform="rotate(140 154.1 214.8)" fill="#7a5a8c"/>
<ellipse cx="160.3" cy="214.1" rx="1.08" ry="0.58" transform="rotate(130 160.3 214.1)" fill="#58406e"/>
<circle cx="163.7" cy="214.7" r="0.72" fill="#58406e"/>
<circle cx="166.1" cy="215.1" r="0.80" fill="#7a5a8c"/>
<ellipse cx="170.2" cy="215.9" rx="1.23" ry="0.66" transform="rotate(113 170.2 215.9)" fill="#5e4278"/>
<ellipse cx="172.3" cy="215.1" rx="1.19" ry="0.64" transform="rotate(93 172.3 215.1)" fill="#6c4e84"/>
<ellipse cx="175.7" cy="214.1" rx="1.25" ry="0.67" transform="rotate(140 175.7 214.1)" fill="#6c4e84"/>
<ellipse cx="179.7" cy="215.8" rx="1.27" ry="0.68" transform="rotate(52 179.7 215.8)" fill="#6c4e84"/>
<circle cx="183.6" cy="214.0" r="0.76" fill="#58406e"/>
<circle cx="186.9" cy="214.2" r="0.82" fill="#7a5a8c"/>
<circle cx="113.2" cy="218.6" r="0.78" fill="#7a5a8c"/>
<ellipse cx="115.2" cy="217.2" rx="1.07" ry="0.57" transform="rotate(158 115.2 217.2)" fill="#58406e"/>
<circle cx="122.7" cy="216.6" r="0.79" fill="#7a5a8c"/>
<ellipse cx="126.5" cy="217.7" rx="1.28" ry="0.68" transform="rotate(166 126.5 217.7)" fill="#7a5a8c"/>
<circle cx="129.9" cy="217.8" r="0.79" fill="#7a5a8c"/>
<ellipse cx="132.0" cy="218.3" rx="1.11" ry="0.59" transform="rotate(53 132.0 218.3)" fill="#58406e"/>
<circle cx="134.5" cy="217.7" r="0.71" fill="#5e4278"/>
<circle cx="139.4" cy="218.3" r="0.93" fill="#58406e"/>
<ellipse cx="143.2" cy="217.3" rx="1.24" ry="0.66" transform="rotate(66 143.2 217.3)" fill="#7a5a8c"/>
<circle cx="145.5" cy="217.4" r="0.90" fill="#58406e"/>
<circle cx="148.7" cy="216.9" r="0.94" fill="#5e4278"/>
<circle cx="152.0" cy="218.5" r="0.86" fill="#7a5a8c"/>
<circle cx="156.3" cy="217.6" r="0.87" fill="#5e4278"/>
<circle cx="157.6" cy="217.5" r="0.89" fill="#58406e"/>
<ellipse cx="161.2" cy="217.1" rx="1.30" ry="0.69" transform="rotate(10 161.2 217.1)" fill="#5e4278"/>
<circle cx="164.5" cy="216.7" r="0.83" fill="#7a5a8c"/>
<circle cx="169.3" cy="218.9" r="0.86" fill="#7a5a8c"/>
<circle cx="172.4" cy="217.3" r="0.74" fill="#7a5a8c"/>
<circle cx="175.5" cy="217.5" r="0.80" fill="#58406e"/>
<circle cx="189.0" cy="217.4" r="0.94" fill="#5e4278"/>
<ellipse cx="192.4" cy="218.8" rx="1.25" ry="0.67" transform="rotate(43 192.4 218.8)" fill="#58406e"/>
<circle cx="194.5" cy="217.9" r="0.72" fill="#7a5a8c"/>
<circle cx="109.1" cy="220.2" r="0.78" fill="#6c4e84"/>
<circle cx="112.3" cy="219.6" r="0.85" fill="#6c4e84"/>
<ellipse cx="120.8" cy="221.4" rx="1.30" ry="0.70" transform="rotate(15 120.8 221.4)" fill="#6c4e84"/>
<ellipse cx="123.4" cy="220.0" rx="1.18" ry="0.63" transform="rotate(104 123.4 220.0)" fill="#5e4278"/>
<ellipse cx="134.3" cy="220.4" rx="1.25" ry="0.67" transform="rotate(81 134.3 220.4)" fill="#5e4278"/>
<ellipse cx="139.4" cy="220.3" rx="1.33" ry="0.71" transform="rotate(5 139.4 220.3)" fill="#7a5a8c"/>
<ellipse cx="142.7" cy="220.6" rx="1.28" ry="0.68" transform="rotate(105 142.7 220.6)" fill="#6c4e84"/>
<ellipse cx="145.8" cy="220.4" rx="1.08" ry="0.58" transform="rotate(20 145.8 220.4)" fill="#58406e"/>
<ellipse cx="148.6" cy="219.6" rx="1.19" ry="0.64" transform="rotate(47 148.6 219.6)" fill="#6c4e84"/>
<ellipse cx="152.3" cy="221.4" rx="1.38" ry="0.74" transform="rotate(1 152.3 221.4)" fill="#6c4e84"/>
<ellipse cx="160.5" cy="219.7" rx="1.40" ry="0.75" transform="rotate(1 160.5 219.7)" fill="#6c4e84"/>
<ellipse cx="162.5" cy="219.8" rx="1.13" ry="0.60" transform="rotate(109 162.5 219.8)" fill="#7a5a8c"/>
<circle cx="165.8" cy="220.2" r="0.89" fill="#5e4278"/>
<circle cx="170.0" cy="221.2" r="0.94" fill="#6c4e84"/>
<ellipse cx="172.6" cy="219.7" rx="1.12" ry="0.60" transform="rotate(3 172.6 219.7)" fill="#6c4e84"/>
<circle cx="175.1" cy="221.5" r="0.94" fill="#7a5a8c"/>
<ellipse cx="183.3" cy="220.7" rx="1.25" ry="0.67" transform="rotate(153 183.3 220.7)" fill="#5e4278"/>
<circle cx="185.2" cy="220.3" r="0.71" fill="#58406e"/>
<circle cx="189.8" cy="220.5" r="0.73" fill="#7a5a8c"/>
<circle cx="193.4" cy="221.6" r="0.94" fill="#6c4e84"/>
<circle cx="112.1" cy="224.2" r="0.92" fill="#5e4278"/>
<ellipse cx="115.2" cy="224.7" rx="1.27" ry="0.68" transform="rotate(159 115.2 224.7)" fill="#6c4e84"/>
<circle cx="120.1" cy="223.2" r="0.88" fill="#58406e"/>
<circle cx="122.1" cy="223.2" r="0.91" fill="#6c4e84"/>
<circle cx="125.0" cy="222.4" r="0.90" fill="#7a5a8c"/>
<ellipse cx="130.0" cy="224.2" rx="1.21" ry="0.65" transform="rotate(172 130.0 224.2)" fill="#58406e"/>
<circle cx="132.6" cy="224.4" r="0.80" fill="#7a5a8c"/>
<circle cx="136.0" cy="223.7" r="0.75" fill="#7a5a8c"/>
<circle cx="139.4" cy="222.6" r="0.82" fill="#5e4278"/>
<ellipse cx="141.3" cy="222.6" rx="1.07" ry="0.57" transform="rotate(171 141.3 222.6)" fill="#6c4e84"/>
<circle cx="145.8" cy="223.4" r="0.71" fill="#7a5a8c"/>
<circle cx="148.8" cy="223.5" r="0.93" fill="#5e4278"/>
<ellipse cx="162.9" cy="223.9" rx="1.32" ry="0.70" transform="rotate(30 162.9 223.9)" fill="#5e4278"/>
<circle cx="165.0" cy="224.1" r="0.80" fill="#7a5a8c"/>
<circle cx="170.9" cy="224.5" r="0.82" fill="#7a5a8c"/>
<circle cx="176.0" cy="224.3" r="0.80" fill="#58406e"/>
<circle cx="180.8" cy="223.1" r="0.86" fill="#7a5a8c"/>
<ellipse cx="186.0" cy="222.4" rx="1.09" ry="0.58" transform="rotate(140 186.0 222.4)" fill="#7a5a8c"/>
<circle cx="194.7" cy="224.6" r="0.88" fill="#5e4278"/>
<circle cx="109.9" cy="227.5" r="0.87" fill="#58406e"/>
<ellipse cx="113.4" cy="225.8" rx="1.39" ry="0.74" transform="rotate(21 113.4 225.8)" fill="#7a5a8c"/>
<ellipse cx="117.0" cy="227.5" rx="1.30" ry="0.69" transform="rotate(92 117.0 227.5)" fill="#58406e"/>
<ellipse cx="119.2" cy="226.4" rx="1.09" ry="0.58" transform="rotate(132 119.2 226.4)" fill="#5e4278"/>
<ellipse cx="125.7" cy="225.8" rx="1.33" ry="0.71" transform="rotate(44 125.7 225.8)" fill="#6c4e84"/>
<ellipse cx="130.7" cy="226.3" rx="1.34" ry="0.72" transform="rotate(101 130.7 226.3)" fill="#7a5a8c"/>
<ellipse cx="133.1" cy="225.3" rx="1.27" ry="0.68" transform="rotate(103 133.1 225.3)" fill="#5e4278"/>
<ellipse cx="137.8" cy="226.5" rx="1.22" ry="0.65" transform="rotate(168 137.8 226.5)" fill="#7a5a8c"/>
<ellipse cx="140.7" cy="225.7" rx="1.38" ry="0.73" transform="rotate(15 140.7 225.7)" fill="#5e4278"/>
<ellipse cx="142.4" cy="225.5" rx="1.29" ry="0.69" transform="rotate(118 142.4 225.5)" fill="#6c4e84"/>
<circle cx="147.4" cy="226.7" r="0.73" fill="#7a5a8c"/>
<circle cx="150.1" cy="227.0" r="0.72" fill="#58406e"/>
<circle cx="162.5" cy="227.2" r="0.74" fill="#6c4e84"/>
<circle cx="170.9" cy="226.4" r="0.70" fill="#58406e"/>
<circle cx="173.2" cy="227.3" r="0.80" fill="#6c4e84"/>
<ellipse cx="175.5" cy="226.7" rx="1.36" ry="0.73" transform="rotate(130 175.5 226.7)" fill="#5e4278"/>
<circle cx="180.7" cy="226.0" r="0.80" fill="#5e4278"/>
<ellipse cx="182.9" cy="227.1" rx="1.22" ry="0.65" transform="rotate(147 182.9 227.1)" fill="#5e4278"/>
<circle cx="185.2" cy="225.3" r="0.80" fill="#5e4278"/>
<circle cx="193.5" cy="226.8" r="0.82" fill="#58406e"/>
<ellipse cx="115.1" cy="228.2" rx="1.21" ry="0.65" transform="rotate(171 115.1 228.2)" fill="#5e4278"/>
<circle cx="125.1" cy="230.3" r="0.86" fill="#6c4e84"/>
<ellipse cx="127.7" cy="229.4" rx="1.39" ry="0.74" transform="rotate(101 127.7 229.4)" fill="#7a5a8c"/>
<circle cx="132.8" cy="228.7" r="0.92" fill="#6c4e84"/>
<ellipse cx="135.0" cy="228.4" rx="1.08" ry="0.58" transform="rotate(139 135.0 228.4)" fill="#58406e"/>
<circle cx="138.1" cy="228.9" r="0.78" fill="#58406e"/>
<circle cx="149.0" cy="228.4" r="0.83" fill="#7a5a8c"/>
<ellipse cx="154.5" cy="229.4" rx="1.37" ry="0.73" transform="rotate(89 154.5 229.4)" fill="#5e4278"/>
<circle cx="161.3" cy="229.8" r="0.84" fill="#7a5a8c"/>
<circle cx="165.8" cy="228.9" r="0.88" fill="#5e4278"/>
<ellipse cx="168.7" cy="229.5" rx="1.16" ry="0.62" transform="rotate(59 168.7 229.5)" fill="#6c4e84"/>
<circle cx="175.6" cy="228.8" r="0.79" fill="#6c4e84"/>
<circle cx="178.7" cy="229.2" r="0.76" fill="#58406e"/>
<ellipse cx="181.2" cy="229.6" rx="1.38" ry="0.74" transform="rotate(13 181.2 229.6)" fill="#58406e"/>
<circle cx="185.1" cy="228.3" r="0.88" fill="#58406e"/>
<circle cx="187.0" cy="228.8" r="0.77" fill="#7a5a8c"/>
<ellipse cx="191.4" cy="229.9" rx="1.21" ry="0.65" transform="rotate(136 191.4 229.9)" fill="#5e4278"/>
<circle cx="195.4" cy="230.1" r="0.93" fill="#6c4e84"/>
<circle cx="110.5" cy="231.6" r="0.90" fill="#7a5a8c"/>
<ellipse cx="114.0" cy="232.4" rx="1.32" ry="0.70" transform="rotate(49 114.0 232.4)" fill="#58406e"/>
<circle cx="117.2" cy="231.1" r="0.72" fill="#7a5a8c"/>
<ellipse cx="130.9" cy="231.6" rx="1.30" ry="0.69" transform="rotate(126 130.9 231.6)" fill="#7a5a8c"/>
<circle cx="132.8" cy="232.2" r="0.94" fill="#58406e"/>
<ellipse cx="137.7" cy="232.9" rx="1.20" ry="0.64" transform="rotate(47 137.7 232.9)" fill="#6c4e84"/>
<circle cx="140.1" cy="232.2" r="0.78" fill="#58406e"/>
<circle cx="142.6" cy="231.8" r="0.93" fill="#6c4e84"/>
<circle cx="146.9" cy="231.5" r="0.73" fill="#7a5a8c"/>
<ellipse cx="153.8" cy="233.2" rx="1.42" ry="0.76" transform="rotate(24 153.8 233.2)" fill="#5e4278"/>
<circle cx="157.0" cy="232.7" r="0.93" fill="#5e4278"/>
<circle cx="159.1" cy="231.6" r="0.81" fill="#7a5a8c"/>
<circle cx="162.5" cy="231.9" r="0.91" fill="#58406e"/>
<ellipse cx="166.3" cy="231.3" rx="1.31" ry="0.70" transform="rotate(80 166.3 231.3)" fill="#5e4278"/>
<ellipse cx="168.9" cy="233.1" rx="1.25" ry="0.67" transform="rotate(54 168.9 233.1)" fill="#7a5a8c"/>
<ellipse cx="176.5" cy="232.7" rx="1.15" ry="0.62" transform="rotate(130 176.5 232.7)" fill="#6c4e84"/>
<ellipse cx="180.9" cy="231.6" rx="1.25" ry="0.67" transform="rotate(70 180.9 231.6)" fill="#7a5a8c"/>
<ellipse cx="186.5" cy="232.0" rx="1.23" ry="0.65" transform="rotate(3 186.5 232.0)" fill="#6c4e84"/>
<circle cx="189.0" cy="231.5" r="0.88" fill="#7a5a8c"/>
<circle cx="192.8" cy="231.2" r="0.88" fill="#7a5a8c"/>
<ellipse cx="112.9" cy="235.3" rx="1.27" ry="0.67" transform="rotate(50 112.9 235.3)" fill="#6c4e84"/>
<ellipse cx="116.1" cy="235.3" rx="1.33" ry="0.71" transform="rotate(127 116.1 235.3)" fill="#6c4e84"/>
<circle cx="119.4" cy="234.0" r="0.85" fill="#6c4e84"/>
<ellipse cx="128.4" cy="235.9" rx="1.24" ry="0.66" transform="rotate(140 128.4 235.9)" fill="#7a5a8c"/>
<circle cx="132.1" cy="235.4" r="0.94" fill="#5e4278"/>
<ellipse cx="134.6" cy="235.9" rx="1.36" ry="0.73" transform="rotate(158 134.6 235.9)" fill="#7a5a8c"/>
<ellipse cx="139.2" cy="234.6" rx="1.07" ry="0.57" transform="rotate(3 139.2 234.6)" fill="#7a5a8c"/>
<circle cx="142.5" cy="235.9" r="0.77" fill="#5e4278"/>
<ellipse cx="149.1" cy="235.3" rx="1.16" ry="0.62" transform="rotate(166 149.1 235.3)" fill="#5e4278"/>
<ellipse cx="155.3" cy="234.5" rx="1.19" ry="0.63" transform="rotate(97 155.3 234.5)" fill="#5e4278"/>
<circle cx="158.5" cy="235.8" r="0.84" fill="#6c4e84"/>
<circle cx="161.4" cy="235.8" r="0.80" fill="#58406e"/>
<circle cx="164.8" cy="235.7" r="0.90" fill="#58406e"/>
<circle cx="168.4" cy="234.4" r="0.70" fill="#6c4e84"/>
<ellipse cx="171.9" cy="236.1" rx="1.09" ry="0.58" transform="rotate(146 171.9 236.1)" fill="#7a5a8c"/>
<ellipse cx="178.1" cy="235.5" rx="1.21" ry="0.65" transform="rotate(155 178.1 235.5)" fill="#6c4e84"/>
<circle cx="183.4" cy="235.9" r="0.88" fill="#5e4278"/>
<circle cx="187.9" cy="234.3" r="0.73" fill="#5e4278"/>
<ellipse cx="191.6" cy="235.7" rx="1.37" ry="0.73" transform="rotate(27 191.6 235.7)" fill="#7a5a8c"/>
<ellipse cx="194.8" cy="234.6" rx="1.19" ry="0.63" transform="rotate(98 194.8 234.6)" fill="#58406e"/>
<ellipse cx="109.6" cy="238.8" rx="1.28" ry="0.68" transform="rotate(24 109.6 238.8)" fill="#5e4278"/>
<ellipse cx="114.4" cy="238.5" rx="1.11" ry="0.59" transform="rotate(36 114.4 238.5)" fill="#58406e"/>
<circle cx="116.2" cy="238.8" r="0.84" fill="#58406e"/>
<ellipse cx="120.9" cy="238.6" rx="1.38" ry="0.73" transform="rotate(48 120.9 238.6)" fill="#7a5a8c"/>
<ellipse cx="127.7" cy="239.0" rx="1.29" ry="0.69" transform="rotate(149 127.7 239.0)" fill="#58406e"/>
<circle cx="129.9" cy="237.3" r="0.79" fill="#5e4278"/>
<circle cx="134.4" cy="237.9" r="0.73" fill="#58406e"/>
<ellipse cx="136.5" cy="237.9" rx="1.20" ry="0.64" transform="rotate(47 136.5 237.9)" fill="#7a5a8c"/>
<circle cx="140.7" cy="237.4" r="0.83" fill="#58406e"/>
<circle cx="150.5" cy="237.8" r="0.71" fill="#6c4e84"/>
<ellipse cx="153.1" cy="238.4" rx="1.24" ry="0.66" transform="rotate(22 153.1 238.4)" fill="#7a5a8c"/>
<ellipse cx="156.7" cy="238.5" rx="1.22" ry="0.65" transform="rotate(104 156.7 238.5)" fill="#5e4278"/>
<circle cx="160.7" cy="238.0" r="0.86" fill="#6c4e84"/>
<circle cx="163.9" cy="239.0" r="0.93" fill="#5e4278"/>
<circle cx="167.5" cy="237.1" r="0.91" fill="#5e4278"/>
<ellipse cx="170.8" cy="238.8" rx="1.42" ry="0.76" transform="rotate(115 170.8 238.8)" fill="#5e4278"/>
<circle cx="173.6" cy="237.3" r="0.71" fill="#58406e"/>
<ellipse cx="176.0" cy="237.1" rx="1.40" ry="0.75" transform="rotate(59 176.0 237.1)" fill="#6c4e84"/>
<ellipse cx="179.4" cy="238.8" rx="1.41" ry="0.75" transform="rotate(170 179.4 238.8)" fill="#6c4e84"/>
<ellipse cx="182.3" cy="238.4" rx="1.06" ry="0.57" transform="rotate(47 182.3 238.4)" fill="#7a5a8c"/>
<ellipse cx="186.3" cy="238.5" rx="1.39" ry="0.74" transform="rotate(146 186.3 238.5)" fill="#7a5a8c"/>
<circle cx="189.1" cy="236.9" r="0.94" fill="#7a5a8c"/>
<circle cx="193.8" cy="237.9" r="0.85" fill="#7a5a8c"/>
<ellipse cx="111.5" cy="241.1" rx="1.28" ry="0.68" transform="rotate(29 111.5 241.1)" fill="#7a5a8c"/>
<circle cx="116.0" cy="240.2" r="0.88" fill="#7a5a8c"/>
<ellipse cx="119.4" cy="241.3" rx="1.31" ry="0.70" transform="rotate(171 119.4 241.3)" fill="#5e4278"/>
<circle cx="122.2" cy="241.8" r="0.83" fill="#7a5a8c"/>
<circle cx="126.4" cy="240.0" r="0.83" fill="#58406e"/>
<ellipse cx="129.8" cy="241.4" rx="1.42" ry="0.76" transform="rotate(58 129.8 241.4)" fill="#5e4278"/>
<ellipse cx="131.8" cy="239.8" rx="1.19" ry="0.63" transform="rotate(27 131.8 239.8)" fill="#58406e"/>
<ellipse cx="134.5" cy="241.2" rx="1.21" ry="0.65" transform="rotate(9 134.5 241.2)" fill="#7a5a8c"/>
<circle cx="139.5" cy="240.1" r="0.84" fill="#6c4e84"/>
<circle cx="142.2" cy="241.2" r="0.72" fill="#58406e"/>
<circle cx="144.3" cy="240.0" r="0.87" fill="#58406e"/>
<circle cx="148.0" cy="240.3" r="0.85" fill="#6c4e84"/>
<ellipse cx="152.0" cy="239.7" rx="1.08" ry="0.58" transform="rotate(55 152.0 239.7)" fill="#6c4e84"/>
<circle cx="155.8" cy="240.0" r="0.76" fill="#5e4278"/>
<ellipse cx="157.9" cy="240.7" rx="1.23" ry="0.66" transform="rotate(114 157.9 240.7)" fill="#58406e"/>
<circle cx="161.9" cy="240.7" r="0.88" fill="#58406e"/>
<ellipse cx="166.3" cy="241.5" rx="1.35" ry="0.72" transform="rotate(62 166.3 241.5)" fill="#6c4e84"/>
<ellipse cx="167.6" cy="240.8" rx="1.17" ry="0.62" transform="rotate(166 167.6 240.8)" fill="#6c4e84"/>
<ellipse cx="171.1" cy="241.5" rx="1.35" ry="0.72" transform="rotate(64 171.1 241.5)" fill="#58406e"/>
<ellipse cx="175.1" cy="240.8" rx="1.19" ry="0.63" transform="rotate(140 175.1 240.8)" fill="#6c4e84"/>
<circle cx="177.6" cy="240.5" r="0.85" fill="#6c4e84"/>
<ellipse cx="181.0" cy="241.1" rx="1.28" ry="0.68" transform="rotate(84 181.0 241.1)" fill="#7a5a8c"/>
<circle cx="185.5" cy="239.6" r="0.77" fill="#7a5a8c"/>
<circle cx="189.2" cy="240.5" r="0.94" fill="#6c4e84"/>
<ellipse cx="191.4" cy="240.2" rx="1.37" ry="0.73" transform="rotate(154 191.4 240.2)" fill="#7a5a8c"/>
<ellipse cx="195.0" cy="239.6" rx="1.29" ry="0.69" transform="rotate(32 195.0 239.6)" fill="#6c4e84"/>
<ellipse cx="135.4" cy="211.3" rx="5.6" ry="4.5" transform="rotate(-30 135.4 211.3)" fill="#f3d6d2"/>
<ellipse cx="135.4" cy="211.3" rx="4.48" ry="3.51" transform="rotate(-30 135.4 211.3)" fill="#e69484"/>
<ellipse cx="157" cy="224.8" rx="5" ry="4" transform="rotate(-10 157 224.8)" fill="#f3d6d2"/>
<ellipse cx="157" cy="224.8" rx="4.00" ry="3.12" transform="rotate(-10 157 224.8)" fill="#e69484"/>
<ellipse cx="154" cy="199.8" rx="4" ry="3" transform="rotate(0 154 199.8)" fill="#f3d6d2"/>
<ellipse cx="154" cy="199.8" rx="3.20" ry="2.34" transform="rotate(0 154 199.8)" fill="#e69484"/>
<ellipse cx="164.5" cy="205.5" rx="4" ry="3.2" transform="rotate(0 164.5 205.5)" fill="#f3d6d2"/>
<ellipse cx="164.5" cy="205.5" rx="3.20" ry="2.50" transform="rotate(0 164.5 205.5)" fill="#e69484"/>
<ellipse cx="123.8" cy="235.2" rx="3.8" ry="3.4" transform="rotate(0 123.8 235.2)" fill="#f3d6d2"/>
<ellipse cx="123.8" cy="235.2" rx="3.04" ry="2.65" transform="rotate(0 123.8 235.2)" fill="#e69484"/>
<ellipse cx="165" cy="190.5" rx="4" ry="3" transform="rotate(-20 165 190.5)" fill="#f3d6d2"/>
<ellipse cx="165" cy="190.5" rx="3.20" ry="2.34" transform="rotate(-20 165 190.5)" fill="#e69484"/>
</g>
<rect x="110.40" y="185.60" width="83.80" height="54.70" fill="none" stroke="#3b3340" stroke-width="0.8"/>
</g>
<g clip-path="url(#cnc)"><g filter="url(#soft)">
<rect x="19" y="242.8" width="84.8" height="55.8" fill="#db6962"/>
<circle cx="92.0" cy="286.8" r="2.1" fill="#d65e55" opacity="0.55"/>
<circle cx="28.0" cy="246.7" r="4.6" fill="#e27a66" opacity="0.55"/>
<circle cx="73.2" cy="244.1" r="2.2" fill="#e9998f" opacity="0.55"/>
<circle cx="41.9" cy="294.6" r="4.4" fill="#e8867a" opacity="0.55"/>
<circle cx="26.2" cy="294.8" r="3.8" fill="#e9998f" opacity="0.55"/>
<circle cx="36.7" cy="254.5" r="3.5" fill="#e8867a" opacity="0.55"/>
<circle cx="53.4" cy="245.4" r="3.0" fill="#e9998f" opacity="0.55"/>
<circle cx="81.3" cy="248.2" r="2.3" fill="#e8867a" opacity="0.55"/>
<circle cx="66.7" cy="268.0" r="2.5" fill="#e27a66" opacity="0.55"/>
<circle cx="30.1" cy="276.9" r="3.8" fill="#d65e55" opacity="0.55"/>
<circle cx="95.6" cy="288.0" r="4.3" fill="#e27a66" opacity="0.55"/>
<circle cx="103.5" cy="298.1" r="3.9" fill="#e9998f" opacity="0.55"/>
<circle cx="61.0" cy="294.2" r="4.3" fill="#e8867a" opacity="0.55"/>
<circle cx="74.5" cy="256.7" r="2.1" fill="#d65e55" opacity="0.55"/>
<circle cx="90.7" cy="242.9" r="4.0" fill="#e9998f" opacity="0.55"/>
<circle cx="89.3" cy="262.6" r="3.1" fill="#e9998f" opacity="0.55"/>
<circle cx="76.6" cy="267.0" r="2.4" fill="#e27a66" opacity="0.55"/>
<circle cx="33.7" cy="269.1" r="3.6" fill="#d65e55" opacity="0.55"/>
<circle cx="25.5" cy="272.0" r="2.0" fill="#e8867a" opacity="0.55"/>
<circle cx="84.7" cy="298.2" r="4.6" fill="#e8867a" opacity="0.55"/>
<circle cx="100.9" cy="254.3" r="2.5" fill="#d65e55" opacity="0.55"/>
<circle cx="23.9" cy="296.7" r="4.1" fill="#d65e55" opacity="0.55"/>
<circle cx="41.8" cy="257.1" r="2.2" fill="#d65e55" opacity="0.55"/>
<circle cx="28.5" cy="267.2" r="2.1" fill="#d65e55" opacity="0.55"/>
<circle cx="97.7" cy="254.2" r="2.8" fill="#e8867a" opacity="0.55"/>
<circle cx="48.0" cy="296.8" r="2.5" fill="#e27a66" opacity="0.55"/>
<circle cx="40.2" cy="294.0" r="3.5" fill="#e8867a" opacity="0.55"/>
<circle cx="55.4" cy="255.7" r="4.2" fill="#e8867a" opacity="0.55"/>
<circle cx="56.1" cy="259.5" r="3.0" fill="#e9998f" opacity="0.55"/>
<circle cx="54.5" cy="267.3" r="3.3" fill="#e27a66" opacity="0.55"/>
<circle cx="48.9" cy="255.6" r="2.1" fill="#e9998f" opacity="0.55"/>
<circle cx="63.6" cy="257.7" r="2.2" fill="#d65e55" opacity="0.55"/>
<circle cx="24.9" cy="289.5" r="4.3" fill="#e8867a" opacity="0.55"/>
<circle cx="34.9" cy="272.1" r="3.0" fill="#d65e55" opacity="0.55"/>
<circle cx="39.0" cy="276.9" r="4.0" fill="#e27a66" opacity="0.55"/>
<circle cx="77.9" cy="297.9" r="4.1" fill="#e8867a" opacity="0.55"/>
<circle cx="43.8" cy="267.2" r="3.9" fill="#e8867a" opacity="0.55"/>
<circle cx="100.3" cy="249.2" r="4.0" fill="#e9998f" opacity="0.55"/>
<circle cx="21.5" cy="293.2" r="2.9" fill="#e9998f" opacity="0.55"/>
<circle cx="65.8" cy="280.0" r="4.1" fill="#e8867a" opacity="0.55"/>
<circle cx="102.5" cy="282.1" r="3.0" fill="#e27a66" opacity="0.55"/>
<circle cx="74.0" cy="278.8" r="4.9" fill="#d65e55" opacity="0.55"/>
<circle cx="79.7" cy="262.9" r="2.0" fill="#e8867a" opacity="0.55"/>
<circle cx="24.4" cy="245.2" r="3.8" fill="#d65e55" opacity="0.55"/>
<circle cx="56.8" cy="254.5" r="2.1" fill="#d65e55" opacity="0.55"/>
<circle cx="24.5" cy="257.1" r="2.2" fill="#d65e55" opacity="0.55"/>
<circle cx="81.5" cy="250.9" r="2.3" fill="#e8867a" opacity="0.55"/>
<circle cx="61.4" cy="260.4" r="4.4" fill="#d65e55" opacity="0.55"/>
<circle cx="58.4" cy="280.9" r="4.6" fill="#e27a66" opacity="0.55"/>
<circle cx="25.5" cy="249.6" r="4.4" fill="#d65e55" opacity="0.55"/>
<circle cx="49.1" cy="251.2" r="3.0" fill="#e27a66" opacity="0.55"/>
<circle cx="30.5" cy="254.2" r="2.2" fill="#e9998f" opacity="0.55"/>
<circle cx="48.3" cy="254.1" r="3.5" fill="#e27a66" opacity="0.55"/>
<circle cx="42.1" cy="267.3" r="3.8" fill="#d65e55" opacity="0.55"/>
<circle cx="35.2" cy="286.5" r="2.2" fill="#d65e55" opacity="0.55"/>
<circle cx="71.4" cy="255.4" r="4.5" fill="#e27a66" opacity="0.55"/>
<circle cx="94.4" cy="255.0" r="4.1" fill="#e27a66" opacity="0.55"/>
<circle cx="95.0" cy="255.9" r="3.8" fill="#e8867a" opacity="0.55"/>
<circle cx="96.4" cy="263.0" r="3.2" fill="#d65e55" opacity="0.55"/>
<circle cx="34.6" cy="279.6" r="5.0" fill="#e27a66" opacity="0.55"/>
<circle cx="40.5" cy="258.9" r="3.3" fill="#e27a66" opacity="0.55"/>
<circle cx="65.5" cy="278.7" r="2.2" fill="#d65e55" opacity="0.55"/>
<circle cx="47.0" cy="286.7" r="2.1" fill="#d65e55" opacity="0.55"/>
<circle cx="50.0" cy="289.5" r="4.4" fill="#e27a66" opacity="0.55"/>
<circle cx="27.4" cy="254.5" r="2.6" fill="#e8867a" opacity="0.55"/>
<circle cx="87.4" cy="244.1" r="2.0" fill="#e27a66" opacity="0.55"/>
<circle cx="60.5" cy="295.7" r="4.6" fill="#d65e55" opacity="0.55"/>
<circle cx="30.4" cy="296.9" r="3.4" fill="#e27a66" opacity="0.55"/>
<circle cx="95.6" cy="283.5" r="3.7" fill="#e27a66" opacity="0.55"/>
<circle cx="42.8" cy="273.2" r="2.8" fill="#e9998f" opacity="0.55"/>
<line x1="63.7" y1="251.8" x2="70.2" y2="253.6" stroke="#f0c4c0" stroke-width="1.0" opacity="0.65" stroke-linecap="round"/>
<line x1="31.1" y1="249.2" x2="28.0" y2="253.3" stroke="#f0c4c0" stroke-width="1.0" opacity="0.65" stroke-linecap="round"/>
<line x1="52.0" y1="260.0" x2="53.3" y2="264.2" stroke="#f0c4c0" stroke-width="1.0" opacity="0.65" stroke-linecap="round"/>
<line x1="48.0" y1="249.4" x2="51.3" y2="254.0" stroke="#f0c4c0" stroke-width="1.0" opacity="0.65" stroke-linecap="round"/>
<line x1="93.2" y1="298.2" x2="90.0" y2="300.4" stroke="#f0c4c0" stroke-width="1.0" opacity="0.65" stroke-linecap="round"/>
<line x1="35.8" y1="292.8" x2="30.7" y2="294.8" stroke="#f0c4c0" stroke-width="1.0" opacity="0.65" stroke-linecap="round"/>
<line x1="64.9" y1="278.6" x2="61.8" y2="282.8" stroke="#f0c4c0" stroke-width="1.0" opacity="0.65" stroke-linecap="round"/>
<line x1="49.1" y1="283.6" x2="52.5" y2="287.9" stroke="#f0c4c0" stroke-width="1.0" opacity="0.65" stroke-linecap="round"/>
<line x1="60.7" y1="266.7" x2="61.8" y2="273.7" stroke="#f0c4c0" stroke-width="1.0" opacity="0.65" stroke-linecap="round"/>
<line x1="74.3" y1="280.5" x2="79.6" y2="283.0" stroke="#f0c4c0" stroke-width="1.0" opacity="0.65" stroke-linecap="round"/>
<line x1="24.8" y1="256.4" x2="28.5" y2="256.5" stroke="#f0c4c0" stroke-width="1.0" opacity="0.65" stroke-linecap="round"/>
<line x1="95.0" y1="272.2" x2="89.8" y2="277.4" stroke="#f0c4c0" stroke-width="1.0" opacity="0.65" stroke-linecap="round"/>
<line x1="24.9" y1="249.0" x2="29.4" y2="250.6" stroke="#f0c4c0" stroke-width="1.0" opacity="0.65" stroke-linecap="round"/>
<line x1="70.4" y1="294.2" x2="74.6" y2="299.9" stroke="#f0c4c0" stroke-width="1.0" opacity="0.65" stroke-linecap="round"/>
<line x1="87.9" y1="271.3" x2="91.0" y2="273.3" stroke="#f0c4c0" stroke-width="1.0" opacity="0.65" stroke-linecap="round"/>
<line x1="87.5" y1="292.0" x2="90.9" y2="293.0" stroke="#f0c4c0" stroke-width="1.0" opacity="0.65" stroke-linecap="round"/>
<line x1="48.4" y1="252.5" x2="54.9" y2="254.2" stroke="#f0c4c0" stroke-width="1.0" opacity="0.65" stroke-linecap="round"/>
<line x1="28.0" y1="295.4" x2="25.3" y2="297.8" stroke="#f0c4c0" stroke-width="1.0" opacity="0.65" stroke-linecap="round"/>
<line x1="69.8" y1="251.7" x2="76.1" y2="255.4" stroke="#f0c4c0" stroke-width="1.0" opacity="0.65" stroke-linecap="round"/>
<line x1="77.7" y1="280.8" x2="78.0" y2="284.2" stroke="#f0c4c0" stroke-width="1.0" opacity="0.65" stroke-linecap="round"/>
<line x1="39.2" y1="249.2" x2="36.0" y2="255.4" stroke="#f0c4c0" stroke-width="1.0" opacity="0.65" stroke-linecap="round"/>
<line x1="59.3" y1="293.4" x2="55.6" y2="296.5" stroke="#f0c4c0" stroke-width="1.0" opacity="0.65" stroke-linecap="round"/>
<line x1="51.7" y1="261.9" x2="51.6" y2="268.9" stroke="#f0c4c0" stroke-width="1.0" opacity="0.65" stroke-linecap="round"/>
<line x1="94.0" y1="270.8" x2="90.8" y2="271.2" stroke="#f0c4c0" stroke-width="1.0" opacity="0.65" stroke-linecap="round"/>
<line x1="39.5" y1="260.4" x2="42.5" y2="263.8" stroke="#f0c4c0" stroke-width="1.0" opacity="0.65" stroke-linecap="round"/>
<line x1="95.7" y1="259.9" x2="94.8" y2="264.3" stroke="#f0c4c0" stroke-width="1.0" opacity="0.65" stroke-linecap="round"/>
<line x1="50.7" y1="259.4" x2="45.9" y2="263.9" stroke="#f0c4c0" stroke-width="1.0" opacity="0.65" stroke-linecap="round"/>
<line x1="43.4" y1="266.2" x2="38.1" y2="268.2" stroke="#f0c4c0" stroke-width="1.0" opacity="0.65" stroke-linecap="round"/>
<line x1="93.7" y1="292.7" x2="96.9" y2="293.3" stroke="#f0c4c0" stroke-width="1.0" opacity="0.65" stroke-linecap="round"/>
<line x1="61.6" y1="278.2" x2="64.9" y2="279.0" stroke="#f0c4c0" stroke-width="1.0" opacity="0.65" stroke-linecap="round"/>
<line x1="93.5" y1="246.7" x2="96.3" y2="251.0" stroke="#f0c4c0" stroke-width="1.0" opacity="0.65" stroke-linecap="round"/>
<line x1="69.7" y1="249.8" x2="69.4" y2="255.1" stroke="#f0c4c0" stroke-width="1.0" opacity="0.65" stroke-linecap="round"/>
<line x1="48.7" y1="263.2" x2="47.2" y2="269.0" stroke="#f0c4c0" stroke-width="1.0" opacity="0.65" stroke-linecap="round"/>
<line x1="53.9" y1="279.3" x2="56.1" y2="282.2" stroke="#f0c4c0" stroke-width="1.0" opacity="0.65" stroke-linecap="round"/>
<line x1="66.1" y1="260.6" x2="62.6" y2="262.6" stroke="#f0c4c0" stroke-width="1.0" opacity="0.65" stroke-linecap="round"/>
<line x1="95.7" y1="250.1" x2="98.9" y2="250.2" stroke="#f0c4c0" stroke-width="1.0" opacity="0.65" stroke-linecap="round"/>
<line x1="63.5" y1="254.8" x2="66.4" y2="256.0" stroke="#f0c4c0" stroke-width="1.0" opacity="0.65" stroke-linecap="round"/>
<line x1="86.6" y1="286.4" x2="84.0" y2="289.9" stroke="#f0c4c0" stroke-width="1.0" opacity="0.65" stroke-linecap="round"/>
<line x1="32.8" y1="293.3" x2="27.8" y2="297.5" stroke="#f0c4c0" stroke-width="1.0" opacity="0.65" stroke-linecap="round"/>
<line x1="66.0" y1="261.0" x2="67.3" y2="263.7" stroke="#f0c4c0" stroke-width="1.0" opacity="0.65" stroke-linecap="round"/>
<line x1="46.9" y1="247.0" x2="47.8" y2="250.8" stroke="#f0c4c0" stroke-width="1.0" opacity="0.65" stroke-linecap="round"/>
<line x1="27.3" y1="273.0" x2="31.0" y2="279.2" stroke="#f0c4c0" stroke-width="1.0" opacity="0.65" stroke-linecap="round"/>
<line x1="48.7" y1="265.6" x2="52.9" y2="270.6" stroke="#f0c4c0" stroke-width="1.0" opacity="0.65" stroke-linecap="round"/>
<line x1="79.5" y1="291.5" x2="81.6" y2="296.3" stroke="#f0c4c0" stroke-width="1.0" opacity="0.65" stroke-linecap="round"/>
<line x1="84.0" y1="269.6" x2="79.1" y2="273.0" stroke="#f0c4c0" stroke-width="1.0" opacity="0.65" stroke-linecap="round"/>
<line x1="75.9" y1="252.7" x2="79.5" y2="257.8" stroke="#f0c4c0" stroke-width="1.0" opacity="0.65" stroke-linecap="round"/>
<line x1="21.0" y1="269.4" x2="22.7" y2="273.0" stroke="#f0c4c0" stroke-width="1.0" opacity="0.65" stroke-linecap="round"/>
<line x1="30.5" y1="264.4" x2="35.4" y2="265.4" stroke="#f0c4c0" stroke-width="1.0" opacity="0.65" stroke-linecap="round"/>
<line x1="45.9" y1="296.4" x2="52.0" y2="301.4" stroke="#f0c4c0" stroke-width="1.0" opacity="0.65" stroke-linecap="round"/>
<line x1="51.9" y1="262.9" x2="56.4" y2="269.4" stroke="#f0c4c0" stroke-width="1.0" opacity="0.65" stroke-linecap="round"/>
<line x1="102.7" y1="265.6" x2="102.8" y2="269.0" stroke="#f0c4c0" stroke-width="1.0" opacity="0.65" stroke-linecap="round"/>
<line x1="99.7" y1="274.0" x2="96.5" y2="274.5" stroke="#f0c4c0" stroke-width="1.0" opacity="0.65" stroke-linecap="round"/>
<line x1="55.4" y1="298.5" x2="62.8" y2="298.9" stroke="#f0c4c0" stroke-width="1.0" opacity="0.65" stroke-linecap="round"/>
<line x1="57.3" y1="276.0" x2="51.8" y2="279.8" stroke="#f0c4c0" stroke-width="1.0" opacity="0.65" stroke-linecap="round"/>
<line x1="99.2" y1="289.6" x2="102.7" y2="292.2" stroke="#f0c4c0" stroke-width="1.0" opacity="0.65" stroke-linecap="round"/>
<line x1="75.9" y1="265.9" x2="71.7" y2="268.0" stroke="#f0c4c0" stroke-width="1.0" opacity="0.65" stroke-linecap="round"/>
<line x1="53.4" y1="291.3" x2="49.8" y2="293.5" stroke="#f0c4c0" stroke-width="1.0" opacity="0.65" stroke-linecap="round"/>
<line x1="99.2" y1="244.7" x2="103.5" y2="249.5" stroke="#f0c4c0" stroke-width="1.0" opacity="0.65" stroke-linecap="round"/>
<line x1="57.1" y1="273.0" x2="51.0" y2="275.8" stroke="#f0c4c0" stroke-width="1.0" opacity="0.65" stroke-linecap="round"/>
<line x1="87.3" y1="292.0" x2="88.6" y2="298.5" stroke="#f0c4c0" stroke-width="1.0" opacity="0.65" stroke-linecap="round"/>
<line x1="100.3" y1="261.5" x2="106.2" y2="264.5" stroke="#f0c4c0" stroke-width="1.0" opacity="0.65" stroke-linecap="round"/>
<line x1="20.6" y1="253.5" x2="24.9" y2="256.6" stroke="#f0c4c0" stroke-width="1.0" opacity="0.65" stroke-linecap="round"/>
<line x1="45.4" y1="262.0" x2="51.7" y2="262.3" stroke="#f0c4c0" stroke-width="1.0" opacity="0.65" stroke-linecap="round"/>
<line x1="62.7" y1="279.0" x2="69.1" y2="280.0" stroke="#f0c4c0" stroke-width="1.0" opacity="0.65" stroke-linecap="round"/>
<line x1="91.5" y1="252.3" x2="87.3" y2="253.5" stroke="#f0c4c0" stroke-width="1.0" opacity="0.65" stroke-linecap="round"/>
<line x1="55.0" y1="256.1" x2="56.2" y2="259.5" stroke="#f0c4c0" stroke-width="1.0" opacity="0.65" stroke-linecap="round"/>
<line x1="87.3" y1="270.1" x2="86.9" y2="275.2" stroke="#f0c4c0" stroke-width="1.0" opacity="0.65" stroke-linecap="round"/>
<line x1="79.0" y1="294.7" x2="74.5" y2="295.3" stroke="#f0c4c0" stroke-width="1.0" opacity="0.65" stroke-linecap="round"/>
<line x1="28.7" y1="259.6" x2="28.9" y2="263.8" stroke="#f0c4c0" stroke-width="1.0" opacity="0.65" stroke-linecap="round"/>
<line x1="91.6" y1="291.7" x2="92.6" y2="294.6" stroke="#f0c4c0" stroke-width="1.0" opacity="0.65" stroke-linecap="round"/>
<line x1="49.4" y1="283.0" x2="45.6" y2="283.1" stroke="#f0c4c0" stroke-width="1.0" opacity="0.65" stroke-linecap="round"/>
<line x1="27.0" y1="289.7" x2="32.0" y2="290.6" stroke="#f0c4c0" stroke-width="1.0" opacity="0.65" stroke-linecap="round"/>
<line x1="51.2" y1="279.7" x2="54.6" y2="286.2" stroke="#f0c4c0" stroke-width="1.0" opacity="0.65" stroke-linecap="round"/>
<line x1="52.9" y1="278.7" x2="58.0" y2="280.5" stroke="#f0c4c0" stroke-width="1.0" opacity="0.65" stroke-linecap="round"/>
<line x1="75.3" y1="279.0" x2="81.4" y2="280.1" stroke="#f0c4c0" stroke-width="1.0" opacity="0.65" stroke-linecap="round"/>
<line x1="62.7" y1="251.5" x2="66.9" y2="255.4" stroke="#f0c4c0" stroke-width="1.0" opacity="0.65" stroke-linecap="round"/>
<line x1="67.1" y1="280.2" x2="64.1" y2="282.8" stroke="#f0c4c0" stroke-width="1.0" opacity="0.65" stroke-linecap="round"/>
<line x1="47.2" y1="245.7" x2="42.1" y2="248.0" stroke="#f0c4c0" stroke-width="1.0" opacity="0.65" stroke-linecap="round"/>
<line x1="53.3" y1="257.1" x2="53.4" y2="262.7" stroke="#f0c4c0" stroke-width="1.0" opacity="0.65" stroke-linecap="round"/>
<line x1="39.8" y1="257.2" x2="34.6" y2="259.4" stroke="#f0c4c0" stroke-width="1.0" opacity="0.65" stroke-linecap="round"/>
<line x1="29.5" y1="261.9" x2="37.0" y2="262.8" stroke="#f0c4c0" stroke-width="1.0" opacity="0.65" stroke-linecap="round"/>
<line x1="72.7" y1="277.9" x2="66.5" y2="282.3" stroke="#f0c4c0" stroke-width="1.0" opacity="0.65" stroke-linecap="round"/>
<line x1="65.4" y1="258.0" x2="68.8" y2="260.7" stroke="#f0c4c0" stroke-width="1.0" opacity="0.65" stroke-linecap="round"/>
<line x1="87.1" y1="243.6" x2="81.4" y2="244.0" stroke="#f0c4c0" stroke-width="1.0" opacity="0.65" stroke-linecap="round"/>
<line x1="40.4" y1="268.1" x2="43.7" y2="270.8" stroke="#f0c4c0" stroke-width="1.0" opacity="0.65" stroke-linecap="round"/>
<line x1="77.5" y1="246.5" x2="81.7" y2="247.5" stroke="#f0c4c0" stroke-width="1.0" opacity="0.65" stroke-linecap="round"/>
<line x1="43.0" y1="278.6" x2="45.9" y2="281.0" stroke="#f0c4c0" stroke-width="1.0" opacity="0.65" stroke-linecap="round"/>
<line x1="33.9" y1="293.2" x2="33.0" y2="296.6" stroke="#f0c4c0" stroke-width="1.0" opacity="0.65" stroke-linecap="round"/>
<line x1="75.5" y1="280.2" x2="74.6" y2="285.9" stroke="#f0c4c0" stroke-width="1.0" opacity="0.65" stroke-linecap="round"/>
<line x1="81.5" y1="257.9" x2="75.4" y2="260.7" stroke="#f0c4c0" stroke-width="1.0" opacity="0.65" stroke-linecap="round"/>
<circle cx="36.4" cy="253.8" r="2.2" fill="#f0c4bc" opacity="0.7"/>
<circle cx="23.9" cy="245.0" r="1.6" fill="#eeb4aa" opacity="0.7"/>
<circle cx="54.4" cy="269.1" r="2.1" fill="#eeb4aa" opacity="0.7"/>
<circle cx="101.3" cy="250.4" r="2.0" fill="#eeb4aa" opacity="0.7"/>
<circle cx="39.0" cy="244.6" r="2.0" fill="#f0c4bc" opacity="0.7"/>
<circle cx="37.1" cy="258.5" r="1.3" fill="#f0c4bc" opacity="0.7"/>
<circle cx="77.8" cy="289.5" r="1.3" fill="#eeb4aa" opacity="0.7"/>
<circle cx="45.1" cy="248.8" r="1.8" fill="#f0c4bc" opacity="0.7"/>
<circle cx="44.3" cy="275.3" r="1.4" fill="#eeb4aa" opacity="0.7"/>
<circle cx="88.8" cy="274.0" r="1.4" fill="#f0c4bc" opacity="0.7"/>
<circle cx="32.3" cy="291.6" r="2.0" fill="#f0c4bc" opacity="0.7"/>
<circle cx="87.6" cy="251.8" r="2.1" fill="#f0c4bc" opacity="0.7"/>
<circle cx="95.2" cy="248.0" r="1.2" fill="#f0c4bc" opacity="0.7"/>
<circle cx="80.6" cy="269.6" r="1.1" fill="#eeb4aa" opacity="0.7"/>
<circle cx="50.1" cy="286.3" r="2.0" fill="#f0c4bc" opacity="0.7"/>
<circle cx="48.4" cy="256.2" r="1.2" fill="#f0c4bc" opacity="0.7"/>
<circle cx="80.1" cy="255.2" r="1.9" fill="#eeb4aa" opacity="0.7"/>
<circle cx="53.9" cy="243.6" r="1.6" fill="#eeb4aa" opacity="0.7"/>
<circle cx="94.3" cy="297.1" r="1.8" fill="#f0c4bc" opacity="0.7"/>
<circle cx="42.1" cy="277.5" r="1.7" fill="#f0c4bc" opacity="0.7"/>
<circle cx="25.2" cy="275.0" r="1.6" fill="#eeb4aa" opacity="0.7"/>
<circle cx="96.1" cy="286.5" r="1.3" fill="#eeb4aa" opacity="0.7"/>
<circle cx="27.1" cy="254.3" r="1.9" fill="#f0c4bc" opacity="0.7"/>
<circle cx="72.0" cy="264.5" r="2.0" fill="#eeb4aa" opacity="0.7"/>
<circle cx="98.3" cy="292.0" r="1.9" fill="#f0c4bc" opacity="0.7"/>
<circle cx="59.1" cy="252.3" r="1.2" fill="#f0c4bc" opacity="0.7"/>
<circle cx="77.5" cy="290.1" r="1.5" fill="#f0c4bc" opacity="0.7"/>
<circle cx="24.2" cy="255.3" r="1.5" fill="#eeb4aa" opacity="0.7"/>
<circle cx="82.7" cy="270.7" r="1.7" fill="#eeb4aa" opacity="0.7"/>
<circle cx="78.5" cy="297.5" r="1.1" fill="#f0c4bc" opacity="0.7"/>
<circle cx="101.7" cy="294.5" r="2.0" fill="#f0c4bc" opacity="0.7"/>
<circle cx="94.1" cy="283.7" r="1.9" fill="#f0c4bc" opacity="0.7"/>
<circle cx="35.7" cy="243.4" r="2.0" fill="#eeb4aa" opacity="0.7"/>
<circle cx="47.7" cy="276.3" r="1.5" fill="#eeb4aa" opacity="0.7"/>
<circle cx="82.2" cy="261.6" r="1.9" fill="#eeb4aa" opacity="0.7"/>
<path d="M43.3,251.7 C40,250.5 36,252 34,254.6 C32.5,256.5 32.5,259 33,261 C33.5,264 35.5,266 37,269.7 C39,275 42,279.5 46.8,280 C51,280 54,277.5 53.8,275.4 C55.5,272 57.5,266 57.2,261.5 C57,256 52,252 47,252.2 C45.5,252 44.5,251.8 43.3,251.7 Z" fill="#d86468"/>
<circle cx="22.5" cy="256.3" r="2.5" fill="#f8eef0"/>
<circle cx="35.8" cy="279.5" r="2.3" fill="#f8eef0"/>
<circle cx="44.5" cy="287" r="1.5" fill="#f8eef0"/>
<circle cx="57.2" cy="276.6" r="1.4" fill="#f8eef0"/>
<circle cx="79" cy="273.7" r="1.5" fill="#f8eef0"/>
<circle cx="85.5" cy="285.9" r="1.6" fill="#f8eef0"/>
<circle cx="65.8" cy="256.9" r="1.2" fill="#f8eef0"/>
<circle cx="28" cy="290" r="1.2" fill="#f8eef0"/>
<circle cx="96" cy="290" r="1.2" fill="#f8eef0"/>
<path d="M74,260.5 C76,257 80,255.5 86.5,254" stroke="#f8eef0" stroke-width="2.3" fill="none" stroke-linecap="round"/>
<path d="M89,247 C90.5,251 92,254 93.6,255.7 C95.5,257 97.5,257.5 100,258" stroke="#f8eef0" stroke-width="2.1" fill="none" stroke-linecap="round"/>
<path d="M76,262 C77,264 76,266 75,267" stroke="#f2d6d6" stroke-width="1.4" fill="none" stroke-linecap="round"/>
<circle cx="20.3" cy="244.2" r="0.87" fill="#4e3062"/>
<circle cx="24.9" cy="242.7" r="0.78" fill="#553566"/>
<circle cx="28.4" cy="243.3" r="0.92" fill="#6a4674"/>
<circle cx="30.6" cy="243.9" r="0.98" fill="#47305e"/>
<circle cx="36.5" cy="244.3" r="0.95" fill="#47305e"/>
<circle cx="39.0" cy="244.1" r="0.77" fill="#4e3062"/>
<circle cx="43.5" cy="244.4" r="0.88" fill="#4e3062"/>
<circle cx="46.5" cy="245.3" r="0.87" fill="#553566"/>
<circle cx="52.0" cy="244.8" r="1.00" fill="#4e3062"/>
<circle cx="54.0" cy="245.0" r="0.76" fill="#47305e"/>
<circle cx="60.1" cy="245.3" r="1.00" fill="#4e3062"/>
<circle cx="62.3" cy="243.0" r="0.96" fill="#5c3b6c"/>
<circle cx="65.7" cy="243.6" r="0.83" fill="#6a4674"/>
<circle cx="73.7" cy="244.9" r="0.80" fill="#4e3062"/>
<circle cx="78.0" cy="244.7" r="0.96" fill="#6a4674"/>
<circle cx="83.3" cy="243.9" r="0.77" fill="#553566"/>
<circle cx="86.7" cy="243.3" r="0.79" fill="#553566"/>
<circle cx="90.8" cy="244.9" r="0.78" fill="#6a4674"/>
<circle cx="93.8" cy="243.2" r="0.85" fill="#4e3062"/>
<circle cx="97.8" cy="244.4" r="0.80" fill="#553566"/>
<circle cx="101.2" cy="244.3" r="0.76" fill="#6a4674"/>
<circle cx="21.6" cy="246.5" r="0.89" fill="#47305e"/>
<circle cx="26.9" cy="246.8" r="0.89" fill="#47305e"/>
<circle cx="29.0" cy="247.2" r="0.80" fill="#4e3062"/>
<circle cx="32.9" cy="247.5" r="0.92" fill="#47305e"/>
<circle cx="37.9" cy="246.4" r="0.82" fill="#4e3062"/>
<circle cx="42.1" cy="246.5" r="0.81" fill="#4e3062"/>
<circle cx="45.8" cy="246.1" r="1.00" fill="#6a4674"/>
<circle cx="49.8" cy="246.8" r="0.82" fill="#47305e"/>
<circle cx="54.4" cy="248.6" r="0.96" fill="#5c3b6c"/>
<circle cx="56.1" cy="248.7" r="0.86" fill="#47305e"/>
<circle cx="60.6" cy="247.6" r="0.80" fill="#6a4674"/>
<circle cx="63.9" cy="248.4" r="0.95" fill="#5c3b6c"/>
<circle cx="73.7" cy="246.1" r="0.87" fill="#4e3062"/>
<circle cx="80.8" cy="248.5" r="0.81" fill="#553566"/>
<circle cx="85.1" cy="246.5" r="0.86" fill="#4e3062"/>
<circle cx="88.5" cy="247.5" r="0.88" fill="#6a4674"/>
<circle cx="91.7" cy="247.3" r="0.90" fill="#4e3062"/>
<circle cx="96.5" cy="246.2" r="0.87" fill="#47305e"/>
<circle cx="100.1" cy="246.8" r="0.79" fill="#4e3062"/>
<circle cx="105.3" cy="248.6" r="0.91" fill="#6a4674"/>
<circle cx="25.1" cy="251.5" r="0.87" fill="#4e3062"/>
<circle cx="28.8" cy="250.0" r="0.76" fill="#6a4674"/>
<circle cx="31.3" cy="250.1" r="0.93" fill="#5c3b6c"/>
<circle cx="34.6" cy="250.9" r="0.83" fill="#553566"/>
<circle cx="40.4" cy="251.5" r="0.89" fill="#4e3062"/>
<circle cx="43.9" cy="250.3" r="0.87" fill="#6a4674"/>
<circle cx="46.5" cy="250.4" r="0.97" fill="#4e3062"/>
<circle cx="52.4" cy="250.1" r="0.88" fill="#553566"/>
<circle cx="55.7" cy="250.8" r="0.81" fill="#553566"/>
<circle cx="60.1" cy="251.8" r="0.98" fill="#4e3062"/>
<circle cx="66.4" cy="250.4" r="0.97" fill="#47305e"/>
<circle cx="71.3" cy="249.7" r="1.00" fill="#5c3b6c"/>
<circle cx="74.8" cy="250.6" r="0.99" fill="#553566"/>
<circle cx="78.6" cy="249.6" r="0.76" fill="#553566"/>
<circle cx="81.8" cy="250.0" r="0.92" fill="#47305e"/>
<circle cx="86.2" cy="249.7" r="0.93" fill="#4e3062"/>
<circle cx="89.9" cy="251.0" r="0.84" fill="#553566"/>
<circle cx="95.1" cy="251.1" r="0.94" fill="#553566"/>
<circle cx="98.1" cy="250.6" r="0.77" fill="#5c3b6c"/>
<circle cx="102.6" cy="251.1" r="0.98" fill="#6a4674"/>
<circle cx="20.6" cy="252.9" r="0.97" fill="#5c3b6c"/>
<circle cx="26.6" cy="253.3" r="0.77" fill="#553566"/>
<circle cx="29.2" cy="254.9" r="0.86" fill="#5c3b6c"/>
<circle cx="32.5" cy="253.8" r="0.82" fill="#47305e"/>
<circle cx="52.7" cy="253.8" r="0.84" fill="#6a4674"/>
<circle cx="57.6" cy="252.8" r="0.89" fill="#553566"/>
<circle cx="61.3" cy="254.9" r="0.82" fill="#5c3b6c"/>
<circle cx="65.4" cy="254.0" r="0.77" fill="#4e3062"/>
<circle cx="68.7" cy="254.3" r="0.87" fill="#4e3062"/>
<circle cx="71.0" cy="253.7" r="0.92" fill="#5c3b6c"/>
<circle cx="75.7" cy="254.6" r="0.98" fill="#5c3b6c"/>
<circle cx="80.4" cy="255.4" r="0.89" fill="#47305e"/>
<circle cx="84.0" cy="254.0" r="0.81" fill="#6a4674"/>
<circle cx="87.9" cy="253.2" r="0.99" fill="#5c3b6c"/>
<circle cx="92.0" cy="254.5" r="0.93" fill="#6a4674"/>
<circle cx="96.3" cy="255.0" r="0.80" fill="#5c3b6c"/>
<circle cx="100.1" cy="254.9" r="0.82" fill="#4e3062"/>
<circle cx="103.9" cy="253.2" r="0.96" fill="#553566"/>
<circle cx="18.3" cy="256.6" r="0.98" fill="#6a4674"/>
<circle cx="28.1" cy="258.5" r="0.88" fill="#553566"/>
<circle cx="30.5" cy="257.7" r="0.76" fill="#553566"/>
<circle cx="36.0" cy="256.2" r="1.00" fill="#6a4674"/>
<circle cx="54.8" cy="256.2" r="0.96" fill="#4e3062"/>
<circle cx="59.3" cy="258.5" r="0.84" fill="#4e3062"/>
<circle cx="74.8" cy="256.7" r="0.89" fill="#5c3b6c"/>
<circle cx="78.7" cy="256.6" r="0.78" fill="#6a4674"/>
<circle cx="83.2" cy="258.8" r="0.86" fill="#47305e"/>
<circle cx="86.7" cy="257.3" r="0.94" fill="#47305e"/>
<circle cx="93.1" cy="258.9" r="0.92" fill="#4e3062"/>
<circle cx="98.2" cy="256.9" r="0.80" fill="#553566"/>
<circle cx="101.6" cy="257.7" r="0.82" fill="#6a4674"/>
<circle cx="21.4" cy="260.5" r="0.86" fill="#553566"/>
<circle cx="26.1" cy="260.6" r="0.85" fill="#5c3b6c"/>
<circle cx="28.8" cy="260.4" r="0.96" fill="#553566"/>
<circle cx="32.7" cy="261.0" r="0.93" fill="#4e3062"/>
<circle cx="56.4" cy="259.8" r="0.88" fill="#6a4674"/>
<circle cx="59.7" cy="259.7" r="0.84" fill="#47305e"/>
<circle cx="64.2" cy="260.1" r="0.83" fill="#47305e"/>
<circle cx="69.5" cy="259.9" r="0.87" fill="#5c3b6c"/>
<circle cx="71.7" cy="262.1" r="0.83" fill="#6a4674"/>
<circle cx="75.5" cy="259.8" r="1.00" fill="#4e3062"/>
<circle cx="79.0" cy="260.6" r="0.90" fill="#6a4674"/>
<circle cx="84.9" cy="261.8" r="0.94" fill="#553566"/>
<circle cx="91.2" cy="261.6" r="0.84" fill="#553566"/>
<circle cx="99.9" cy="262.0" r="0.91" fill="#553566"/>
<circle cx="103.9" cy="260.1" r="0.89" fill="#5c3b6c"/>
<circle cx="20.4" cy="263.3" r="0.88" fill="#5c3b6c"/>
<circle cx="21.7" cy="265.6" r="0.81" fill="#47305e"/>
<circle cx="27.8" cy="264.5" r="0.89" fill="#5c3b6c"/>
<circle cx="32.2" cy="264.8" r="0.88" fill="#5c3b6c"/>
<circle cx="58.7" cy="265.4" r="0.90" fill="#5c3b6c"/>
<circle cx="61.1" cy="263.5" r="0.85" fill="#6a4674"/>
<circle cx="65.5" cy="264.3" r="0.80" fill="#6a4674"/>
<circle cx="70.2" cy="264.1" r="0.87" fill="#5c3b6c"/>
<circle cx="78.2" cy="263.2" r="0.79" fill="#4e3062"/>
<circle cx="81.7" cy="264.8" r="0.80" fill="#553566"/>
<circle cx="93.8" cy="265.6" r="0.96" fill="#47305e"/>
<circle cx="98.3" cy="263.1" r="0.86" fill="#47305e"/>
<circle cx="102.1" cy="263.2" r="0.92" fill="#6a4674"/>
<circle cx="26.4" cy="269.0" r="0.90" fill="#6a4674"/>
<circle cx="29.5" cy="267.9" r="0.79" fill="#47305e"/>
<circle cx="32.7" cy="268.4" r="0.96" fill="#5c3b6c"/>
<circle cx="65.0" cy="267.5" r="0.98" fill="#4e3062"/>
<circle cx="67.4" cy="268.9" r="0.82" fill="#553566"/>
<circle cx="71.7" cy="268.9" r="0.81" fill="#47305e"/>
<circle cx="76.6" cy="266.6" r="0.78" fill="#4e3062"/>
<circle cx="79.0" cy="268.0" r="0.98" fill="#4e3062"/>
<circle cx="85.5" cy="268.4" r="0.87" fill="#5c3b6c"/>
<circle cx="87.1" cy="267.5" r="0.90" fill="#47305e"/>
<circle cx="92.1" cy="266.9" r="0.79" fill="#47305e"/>
<circle cx="97.3" cy="268.5" r="0.99" fill="#553566"/>
<circle cx="100.2" cy="268.2" r="0.86" fill="#47305e"/>
<circle cx="104.2" cy="268.9" r="0.82" fill="#553566"/>
<circle cx="17.9" cy="269.9" r="0.93" fill="#5c3b6c"/>
<circle cx="22.1" cy="271.4" r="0.84" fill="#5c3b6c"/>
<circle cx="25.6" cy="272.5" r="0.78" fill="#4e3062"/>
<circle cx="32.0" cy="271.8" r="0.98" fill="#47305e"/>
<circle cx="57.8" cy="272.1" r="0.87" fill="#6a4674"/>
<circle cx="63.1" cy="270.1" r="0.78" fill="#4e3062"/>
<circle cx="65.4" cy="271.3" r="0.86" fill="#5c3b6c"/>
<circle cx="71.0" cy="269.9" r="0.93" fill="#553566"/>
<circle cx="74.1" cy="270.5" r="0.81" fill="#47305e"/>
<circle cx="77.4" cy="272.4" r="0.88" fill="#47305e"/>
<circle cx="82.2" cy="272.4" r="0.91" fill="#47305e"/>
<circle cx="86.3" cy="271.7" r="0.77" fill="#6a4674"/>
<circle cx="89.5" cy="270.8" r="0.84" fill="#6a4674"/>
<circle cx="96.8" cy="270.5" r="0.98" fill="#4e3062"/>
<circle cx="101.9" cy="269.8" r="0.81" fill="#553566"/>
<circle cx="22.7" cy="273.7" r="0.79" fill="#47305e"/>
<circle cx="26.3" cy="274.7" r="0.93" fill="#553566"/>
<circle cx="29.9" cy="275.8" r="0.93" fill="#47305e"/>
<circle cx="33.2" cy="274.1" r="0.76" fill="#553566"/>
<circle cx="57.4" cy="273.6" r="0.96" fill="#4e3062"/>
<circle cx="62.2" cy="275.9" r="0.88" fill="#5c3b6c"/>
<circle cx="65.4" cy="275.7" r="0.91" fill="#47305e"/>
<circle cx="69.8" cy="275.7" r="0.87" fill="#4e3062"/>
<circle cx="71.2" cy="273.2" r="0.88" fill="#6a4674"/>
<circle cx="75.8" cy="273.7" r="0.89" fill="#5c3b6c"/>
<circle cx="83.5" cy="275.6" r="0.95" fill="#553566"/>
<circle cx="88.2" cy="273.4" r="0.78" fill="#6a4674"/>
<circle cx="92.6" cy="274.3" r="0.90" fill="#4e3062"/>
<circle cx="96.4" cy="274.6" r="0.91" fill="#553566"/>
<circle cx="98.7" cy="275.6" r="0.95" fill="#6a4674"/>
<circle cx="103.8" cy="275.1" r="0.84" fill="#6a4674"/>
<circle cx="19.8" cy="278.7" r="0.91" fill="#6a4674"/>
<circle cx="22.8" cy="278.7" r="0.95" fill="#5c3b6c"/>
<circle cx="26.0" cy="277.0" r="0.84" fill="#6a4674"/>
<circle cx="31.7" cy="277.1" r="0.80" fill="#5c3b6c"/>
<circle cx="53.9" cy="276.9" r="0.87" fill="#4e3062"/>
<circle cx="61.0" cy="278.4" r="0.96" fill="#4e3062"/>
<circle cx="66.9" cy="277.9" r="0.80" fill="#6a4674"/>
<circle cx="69.7" cy="279.2" r="0.94" fill="#553566"/>
<circle cx="74.6" cy="277.4" r="0.98" fill="#4e3062"/>
<circle cx="77.5" cy="277.9" r="0.75" fill="#553566"/>
<circle cx="82.8" cy="278.2" r="0.90" fill="#5c3b6c"/>
<circle cx="85.6" cy="277.7" r="0.92" fill="#4e3062"/>
<circle cx="88.4" cy="278.3" r="0.81" fill="#47305e"/>
<circle cx="93.6" cy="278.3" r="0.88" fill="#4e3062"/>
<circle cx="96.9" cy="277.9" r="0.88" fill="#4e3062"/>
<circle cx="101.0" cy="278.2" r="0.96" fill="#6a4674"/>
<circle cx="22.7" cy="281.2" r="0.94" fill="#4e3062"/>
<circle cx="24.9" cy="282.3" r="0.77" fill="#6a4674"/>
<circle cx="29.4" cy="280.3" r="0.86" fill="#5c3b6c"/>
<circle cx="36.5" cy="281.8" r="0.79" fill="#6a4674"/>
<circle cx="41.3" cy="282.0" r="0.78" fill="#6a4674"/>
<circle cx="46.6" cy="282.0" r="0.87" fill="#4e3062"/>
<circle cx="49.5" cy="282.1" r="0.93" fill="#47305e"/>
<circle cx="53.6" cy="282.0" r="0.91" fill="#6a4674"/>
<circle cx="58.5" cy="281.7" r="0.86" fill="#47305e"/>
<circle cx="62.2" cy="281.0" r="0.79" fill="#553566"/>
<circle cx="65.2" cy="281.6" r="0.78" fill="#5c3b6c"/>
<circle cx="69.6" cy="281.1" r="0.87" fill="#6a4674"/>
<circle cx="76.9" cy="280.3" r="0.78" fill="#4e3062"/>
<circle cx="80.8" cy="282.3" r="0.87" fill="#553566"/>
<circle cx="83.8" cy="282.3" r="0.92" fill="#4e3062"/>
<circle cx="89.4" cy="282.5" r="0.76" fill="#553566"/>
<circle cx="93.0" cy="280.8" r="0.91" fill="#6a4674"/>
<circle cx="96.7" cy="280.1" r="0.98" fill="#5c3b6c"/>
<circle cx="100.9" cy="281.5" r="0.88" fill="#553566"/>
<circle cx="105.2" cy="280.5" r="0.84" fill="#5c3b6c"/>
<circle cx="18.8" cy="284.0" r="0.93" fill="#47305e"/>
<circle cx="26.2" cy="285.5" r="0.94" fill="#47305e"/>
<circle cx="31.3" cy="284.5" r="0.96" fill="#6a4674"/>
<circle cx="38.7" cy="285.4" r="0.89" fill="#553566"/>
<circle cx="42.2" cy="285.6" r="0.82" fill="#4e3062"/>
<circle cx="46.9" cy="285.6" r="0.80" fill="#5c3b6c"/>
<circle cx="51.7" cy="283.9" r="0.89" fill="#4e3062"/>
<circle cx="54.6" cy="285.5" r="0.81" fill="#553566"/>
<circle cx="62.9" cy="283.4" r="0.86" fill="#47305e"/>
<circle cx="66.2" cy="284.3" r="0.85" fill="#553566"/>
<circle cx="70.4" cy="283.6" r="0.97" fill="#6a4674"/>
<circle cx="75.3" cy="286.0" r="0.80" fill="#4e3062"/>
<circle cx="77.3" cy="285.8" r="0.77" fill="#5c3b6c"/>
<circle cx="81.2" cy="284.4" r="0.90" fill="#4e3062"/>
<circle cx="87.0" cy="284.4" r="0.88" fill="#5c3b6c"/>
<circle cx="89.0" cy="284.2" r="0.79" fill="#6a4674"/>
<circle cx="94.1" cy="285.6" r="0.82" fill="#5c3b6c"/>
<circle cx="97.1" cy="284.6" r="0.80" fill="#5c3b6c"/>
<circle cx="101.2" cy="284.4" r="0.93" fill="#553566"/>
<circle cx="21.1" cy="287.8" r="0.91" fill="#47305e"/>
<circle cx="26.9" cy="289.2" r="0.89" fill="#5c3b6c"/>
<circle cx="28.8" cy="289.1" r="0.96" fill="#553566"/>
<circle cx="34.7" cy="289.1" r="0.96" fill="#47305e"/>
<circle cx="37.7" cy="288.3" r="0.98" fill="#553566"/>
<circle cx="41.3" cy="288.0" r="0.98" fill="#5c3b6c"/>
<circle cx="48.9" cy="287.5" r="0.92" fill="#6a4674"/>
<circle cx="53.1" cy="288.7" r="0.79" fill="#4e3062"/>
<circle cx="56.2" cy="288.7" r="0.98" fill="#553566"/>
<circle cx="60.4" cy="286.9" r="0.84" fill="#6a4674"/>
<circle cx="66.0" cy="287.6" r="0.90" fill="#47305e"/>
<circle cx="69.3" cy="287.0" r="0.77" fill="#6a4674"/>
<circle cx="71.8" cy="286.9" r="0.97" fill="#4e3062"/>
<circle cx="77.2" cy="287.1" r="0.90" fill="#5c3b6c"/>
<circle cx="80.2" cy="288.0" r="0.78" fill="#6a4674"/>
<circle cx="84.0" cy="286.9" r="0.83" fill="#4e3062"/>
<circle cx="90.7" cy="288.9" r="0.82" fill="#553566"/>
<circle cx="95.2" cy="288.1" r="0.81" fill="#5c3b6c"/>
<circle cx="104.5" cy="287.4" r="0.89" fill="#6a4674"/>
<circle cx="21.1" cy="292.2" r="0.93" fill="#553566"/>
<circle cx="23.2" cy="290.7" r="0.99" fill="#6a4674"/>
<circle cx="29.2" cy="290.6" r="0.96" fill="#4e3062"/>
<circle cx="33.2" cy="291.7" r="0.79" fill="#5c3b6c"/>
<circle cx="34.7" cy="292.2" r="0.99" fill="#5c3b6c"/>
<circle cx="38.9" cy="292.2" r="0.86" fill="#553566"/>
<circle cx="43.5" cy="291.5" r="0.75" fill="#47305e"/>
<circle cx="46.2" cy="291.1" r="0.90" fill="#47305e"/>
<circle cx="52.4" cy="290.8" r="0.78" fill="#553566"/>
<circle cx="55.3" cy="292.4" r="0.88" fill="#4e3062"/>
<circle cx="59.7" cy="292.3" r="0.75" fill="#47305e"/>
<circle cx="63.9" cy="291.6" r="0.85" fill="#6a4674"/>
<circle cx="65.6" cy="291.2" r="0.99" fill="#47305e"/>
<circle cx="71.8" cy="290.7" r="0.91" fill="#553566"/>
<circle cx="75.1" cy="292.7" r="0.90" fill="#47305e"/>
<circle cx="78.7" cy="292.1" r="0.86" fill="#47305e"/>
<circle cx="83.5" cy="290.7" r="0.89" fill="#47305e"/>
<circle cx="85.5" cy="291.4" r="0.80" fill="#47305e"/>
<circle cx="89.7" cy="291.7" r="0.98" fill="#6a4674"/>
<circle cx="94.8" cy="292.5" r="0.78" fill="#5c3b6c"/>
<circle cx="97.3" cy="292.4" r="0.97" fill="#47305e"/>
<circle cx="101.8" cy="291.1" r="0.95" fill="#4e3062"/>
<circle cx="21.7" cy="294.1" r="0.93" fill="#47305e"/>
<circle cx="26.5" cy="295.2" r="0.79" fill="#553566"/>
<circle cx="27.8" cy="296.1" r="0.79" fill="#4e3062"/>
<circle cx="32.2" cy="293.9" r="0.83" fill="#4e3062"/>
<circle cx="36.4" cy="295.4" r="0.94" fill="#4e3062"/>
<circle cx="45.3" cy="295.8" r="0.92" fill="#47305e"/>
<circle cx="49.3" cy="294.1" r="0.88" fill="#47305e"/>
<circle cx="55.1" cy="295.0" r="0.79" fill="#6a4674"/>
<circle cx="61.6" cy="294.3" r="0.79" fill="#4e3062"/>
<circle cx="63.3" cy="295.5" r="0.87" fill="#553566"/>
<circle cx="67.7" cy="294.1" r="0.80" fill="#6a4674"/>
<circle cx="72.8" cy="294.1" r="0.84" fill="#4e3062"/>
<circle cx="76.2" cy="295.1" r="0.93" fill="#5c3b6c"/>
<circle cx="80.0" cy="294.5" r="0.90" fill="#6a4674"/>
<circle cx="83.1" cy="293.9" r="0.76" fill="#6a4674"/>
<circle cx="88.7" cy="295.1" r="0.85" fill="#553566"/>
<circle cx="92.8" cy="295.9" r="0.79" fill="#47305e"/>
<circle cx="96.0" cy="294.6" r="0.91" fill="#47305e"/>
<circle cx="97.9" cy="295.8" r="0.81" fill="#553566"/>
<circle cx="102.5" cy="295.8" r="0.96" fill="#4e3062"/>
<circle cx="18.7" cy="298.2" r="0.80" fill="#553566"/>
<circle cx="24.9" cy="297.3" r="0.94" fill="#47305e"/>
<circle cx="26.3" cy="298.3" r="0.82" fill="#553566"/>
<circle cx="32.6" cy="299.1" r="0.89" fill="#6a4674"/>
<circle cx="36.8" cy="299.4" r="0.98" fill="#553566"/>
<circle cx="39.3" cy="299.4" r="0.83" fill="#6a4674"/>
<circle cx="48.3" cy="299.3" r="0.83" fill="#553566"/>
<circle cx="51.7" cy="298.2" r="0.94" fill="#553566"/>
<circle cx="54.8" cy="297.2" r="0.97" fill="#6a4674"/>
<circle cx="57.9" cy="296.9" r="0.79" fill="#6a4674"/>
<circle cx="63.4" cy="297.4" r="0.81" fill="#4e3062"/>
<circle cx="67.5" cy="298.9" r="0.83" fill="#4e3062"/>
<circle cx="70.2" cy="299.3" r="0.95" fill="#6a4674"/>
<circle cx="78.2" cy="298.2" r="0.77" fill="#47305e"/>
<circle cx="83.6" cy="298.9" r="0.79" fill="#553566"/>
<circle cx="87.4" cy="297.2" r="0.96" fill="#5c3b6c"/>
<circle cx="91.3" cy="299.3" r="0.77" fill="#4e3062"/>
<circle cx="97.6" cy="299.0" r="0.88" fill="#4e3062"/>
<circle cx="102.8" cy="297.9" r="0.83" fill="#6a4674"/>
<circle cx="35.2" cy="254.6" r="0.95" fill="#553566"/>
<circle cx="37.1" cy="255.9" r="0.76" fill="#6a4674"/>
<circle cx="40.5" cy="254.0" r="0.80" fill="#4e3062"/>
<circle cx="43.6" cy="254.2" r="0.80" fill="#4e3062"/>
<circle cx="47.5" cy="255.4" r="0.85" fill="#6a4674"/>
<circle cx="53.6" cy="254.4" r="1.00" fill="#6a4674"/>
<circle cx="34.9" cy="257.5" r="0.84" fill="#6a4674"/>
<circle cx="42.2" cy="256.7" r="0.81" fill="#553566"/>
<circle cx="45.9" cy="258.2" r="0.97" fill="#4e3062"/>
<circle cx="49.0" cy="257.6" r="0.89" fill="#6a4674"/>
<circle cx="50.4" cy="258.4" r="0.81" fill="#4e3062"/>
<circle cx="53.4" cy="258.5" r="0.94" fill="#6a4674"/>
<circle cx="33.9" cy="261.0" r="0.96" fill="#5c3b6c"/>
<circle cx="36.9" cy="260.2" r="0.88" fill="#553566"/>
<circle cx="41.6" cy="259.4" r="0.85" fill="#553566"/>
<circle cx="46.8" cy="259.3" r="0.88" fill="#47305e"/>
<circle cx="50.9" cy="260.3" r="0.97" fill="#47305e"/>
<circle cx="57.3" cy="259.8" r="0.91" fill="#6a4674"/>
<circle cx="36.6" cy="262.9" r="0.81" fill="#47305e"/>
<circle cx="39.1" cy="262.5" r="0.94" fill="#47305e"/>
<circle cx="45.9" cy="262.2" r="0.95" fill="#4e3062"/>
<circle cx="52.2" cy="263.7" r="0.99" fill="#47305e"/>
<circle cx="53.8" cy="262.3" r="0.76" fill="#47305e"/>
<circle cx="34.2" cy="265.6" r="0.77" fill="#553566"/>
<circle cx="37.9" cy="266.1" r="0.78" fill="#553566"/>
<circle cx="40.2" cy="265.2" r="0.85" fill="#553566"/>
<circle cx="43.9" cy="266.8" r="0.77" fill="#553566"/>
<circle cx="49.3" cy="265.8" r="0.85" fill="#5c3b6c"/>
<circle cx="52.3" cy="265.3" r="0.97" fill="#6a4674"/>
<circle cx="57.2" cy="265.2" r="0.80" fill="#553566"/>
<circle cx="37.1" cy="268.4" r="0.84" fill="#47305e"/>
<circle cx="39.1" cy="269.2" r="0.94" fill="#47305e"/>
<circle cx="41.7" cy="268.4" r="1.00" fill="#4e3062"/>
<circle cx="46.2" cy="268.2" r="0.99" fill="#4e3062"/>
<circle cx="47.7" cy="269.5" r="0.94" fill="#5c3b6c"/>
<circle cx="52.1" cy="268.1" r="1.00" fill="#5c3b6c"/>
<circle cx="55.1" cy="268.3" r="1.00" fill="#47305e"/>
<circle cx="34.5" cy="271.4" r="0.83" fill="#5c3b6c"/>
<circle cx="37.4" cy="272.1" r="0.81" fill="#47305e"/>
<circle cx="41.6" cy="270.9" r="0.77" fill="#553566"/>
<circle cx="44.2" cy="271.1" r="0.96" fill="#4e3062"/>
<circle cx="50.1" cy="271.4" r="0.95" fill="#6a4674"/>
<circle cx="52.3" cy="270.3" r="0.86" fill="#47305e"/>
<circle cx="56.1" cy="271.9" r="0.81" fill="#553566"/>
<circle cx="35.5" cy="274.1" r="0.76" fill="#5c3b6c"/>
<circle cx="38.5" cy="273.9" r="0.78" fill="#4e3062"/>
<circle cx="41.6" cy="274.4" r="0.93" fill="#5c3b6c"/>
<circle cx="44.7" cy="274.9" r="0.82" fill="#4e3062"/>
<circle cx="48.6" cy="273.4" r="0.81" fill="#47305e"/>
<circle cx="51.7" cy="273.3" r="1.00" fill="#6a4674"/>
<circle cx="55.4" cy="272.9" r="0.98" fill="#553566"/>
<circle cx="35.3" cy="275.9" r="0.80" fill="#553566"/>
<circle cx="38.7" cy="276.4" r="0.98" fill="#47305e"/>
<circle cx="40.2" cy="276.5" r="0.87" fill="#5c3b6c"/>
<circle cx="43.1" cy="276.1" r="0.92" fill="#553566"/>
<circle cx="47.3" cy="276.6" r="0.80" fill="#553566"/>
<circle cx="50.7" cy="277.4" r="0.90" fill="#553566"/>
<circle cx="52.7" cy="275.7" r="0.94" fill="#6a4674"/>
<circle cx="57.6" cy="275.9" r="0.82" fill="#553566"/>
<circle cx="36.3" cy="279.5" r="0.90" fill="#4e3062"/>
<circle cx="38.3" cy="279.5" r="1.00" fill="#553566"/>
<circle cx="40.7" cy="279.1" r="0.76" fill="#47305e"/>
<circle cx="45.9" cy="278.3" r="0.99" fill="#6a4674"/>
<circle cx="47.0" cy="279.1" r="0.82" fill="#6a4674"/>
<circle cx="50.2" cy="278.7" r="0.95" fill="#47305e"/>
<circle cx="54.3" cy="278.5" r="0.81" fill="#6a4674"/>
<path d="M43.3,251.7 C40,250.5 36,252 34,254.6 C32.5,256.5 32.5,259 33,261 C33.5,264 35.5,266 37,269.7 C39,275 42,279.5 46.8,280 C51,280 54,277.5 53.8,275.4 C55.5,272 57.5,266 57.2,261.5 C57,256 52,252 47,252.2 C45.5,252 44.5,251.8 43.3,251.7 Z" fill="none" stroke="#f8eef0" stroke-width="1.2"/>
</g>
<rect x="19.40" y="243.20" width="84.00" height="55.00" fill="none" stroke="#3b3340" stroke-width="0.8"/>
</g>
<g clip-path="url(#ctc)"><g filter="url(#soft)">
<rect x="110" y="242.8" width="84.6" height="55.8" fill="#d27a74"/>
<circle cx="169.1" cy="263.8" r="3.2" fill="#c87078" opacity="0.5"/>
<circle cx="150.1" cy="250.0" r="2.7" fill="#c87078" opacity="0.5"/>
<circle cx="122.5" cy="273.6" r="3.1" fill="#c87078" opacity="0.5"/>
<circle cx="137.2" cy="264.9" r="3.4" fill="#e09484" opacity="0.5"/>
<circle cx="138.1" cy="271.4" r="2.5" fill="#dc8a7c" opacity="0.5"/>
<circle cx="169.3" cy="280.6" r="2.7" fill="#dc8a7c" opacity="0.5"/>
<circle cx="143.6" cy="261.5" r="3.9" fill="#e09484" opacity="0.5"/>
<circle cx="127.7" cy="290.5" r="2.7" fill="#dc8a7c" opacity="0.5"/>
<circle cx="118.2" cy="286.8" r="2.2" fill="#dc8a7c" opacity="0.5"/>
<circle cx="146.8" cy="245.1" r="2.8" fill="#e09484" opacity="0.5"/>
<circle cx="163.4" cy="296.6" r="3.6" fill="#c87078" opacity="0.5"/>
<circle cx="166.6" cy="243.4" r="3.4" fill="#dc8a7c" opacity="0.5"/>
<circle cx="125.1" cy="259.9" r="2.9" fill="#dc8a7c" opacity="0.5"/>
<circle cx="116.4" cy="296.9" r="3.6" fill="#e09484" opacity="0.5"/>
<circle cx="125.2" cy="263.6" r="3.1" fill="#c87078" opacity="0.5"/>
<circle cx="179.1" cy="250.4" r="2.7" fill="#e09484" opacity="0.5"/>
<circle cx="149.2" cy="297.9" r="3.1" fill="#e09484" opacity="0.5"/>
<circle cx="193.2" cy="288.3" r="2.6" fill="#c87078" opacity="0.5"/>
<circle cx="167.2" cy="279.5" r="2.0" fill="#dc8a7c" opacity="0.5"/>
<circle cx="161.8" cy="246.8" r="3.2" fill="#e09484" opacity="0.5"/>
<circle cx="165.9" cy="252.0" r="3.4" fill="#e09484" opacity="0.5"/>
<circle cx="182.3" cy="264.5" r="2.6" fill="#c87078" opacity="0.5"/>
<circle cx="143.3" cy="272.9" r="3.9" fill="#dc8a7c" opacity="0.5"/>
<circle cx="147.6" cy="256.9" r="3.0" fill="#e09484" opacity="0.5"/>
<circle cx="110.4" cy="271.0" r="2.8" fill="#e09484" opacity="0.5"/>
<circle cx="183.1" cy="284.7" r="2.8" fill="#e09484" opacity="0.5"/>
<circle cx="117.8" cy="247.0" r="3.7" fill="#dc8a7c" opacity="0.5"/>
<circle cx="190.9" cy="283.7" r="3.2" fill="#e09484" opacity="0.5"/>
<circle cx="119.3" cy="254.7" r="3.5" fill="#c87078" opacity="0.5"/>
<circle cx="133.3" cy="270.7" r="3.0" fill="#c87078" opacity="0.5"/>
<circle cx="164.0" cy="282.1" r="3.0" fill="#dc8a7c" opacity="0.5"/>
<circle cx="133.6" cy="296.3" r="2.5" fill="#dc8a7c" opacity="0.5"/>
<circle cx="181.6" cy="268.5" r="3.4" fill="#c87078" opacity="0.5"/>
<circle cx="115.9" cy="294.7" r="3.5" fill="#dc8a7c" opacity="0.5"/>
<circle cx="148.8" cy="289.6" r="3.5" fill="#e09484" opacity="0.5"/>
<circle cx="123.0" cy="266.4" r="3.2" fill="#dc8a7c" opacity="0.5"/>
<circle cx="134.0" cy="263.9" r="3.3" fill="#dc8a7c" opacity="0.5"/>
<circle cx="144.7" cy="273.0" r="3.1" fill="#e09484" opacity="0.5"/>
<circle cx="131.4" cy="244.2" r="3.1" fill="#c87078" opacity="0.5"/>
<circle cx="183.1" cy="274.8" r="2.4" fill="#e09484" opacity="0.5"/>
<circle cx="181.4" cy="292.1" r="2.4" fill="#c87078" opacity="0.5"/>
<circle cx="183.1" cy="266.6" r="2.9" fill="#c87078" opacity="0.5"/>
<circle cx="124.0" cy="271.4" r="3.4" fill="#dc8a7c" opacity="0.5"/>
<circle cx="147.6" cy="243.7" r="3.6" fill="#dc8a7c" opacity="0.5"/>
<circle cx="117.4" cy="294.1" r="3.8" fill="#dc8a7c" opacity="0.5"/>
<circle cx="140.7" cy="265.2" r="3.4" fill="#e09484" opacity="0.5"/>
<circle cx="129.8" cy="262.1" r="4.0" fill="#dc8a7c" opacity="0.5"/>
<circle cx="113.8" cy="263.9" r="2.0" fill="#dc8a7c" opacity="0.5"/>
<circle cx="111.0" cy="284.8" r="3.8" fill="#dc8a7c" opacity="0.5"/>
<circle cx="148.7" cy="289.8" r="2.2" fill="#c87078" opacity="0.5"/>
<ellipse cx="113.8" cy="244.8" rx="1.38" ry="0.74" transform="rotate(25 113.8 244.8)" fill="#5c3b6c"/>
<ellipse cx="118.5" cy="243.7" rx="1.38" ry="0.74" transform="rotate(91 118.5 243.7)" fill="#5c3b6c"/>
<circle cx="120.3" cy="243.7" r="0.91" fill="#4e3062"/>
<circle cx="125.4" cy="243.9" r="0.79" fill="#47305e"/>
<circle cx="126.9" cy="244.7" r="0.93" fill="#4e3062"/>
<circle cx="131.5" cy="244.0" r="0.80" fill="#6a4674"/>
<circle cx="136.1" cy="244.1" r="0.76" fill="#4e3062"/>
<ellipse cx="137.8" cy="242.7" rx="1.17" ry="0.62" transform="rotate(93 137.8 242.7)" fill="#5c3b6c"/>
<ellipse cx="141.6" cy="244.0" rx="1.13" ry="0.60" transform="rotate(176 141.6 244.0)" fill="#47305e"/>
<ellipse cx="144.5" cy="242.7" rx="1.21" ry="0.64" transform="rotate(103 144.5 242.7)" fill="#6a4674"/>
<ellipse cx="153.4" cy="243.9" rx="1.28" ry="0.68" transform="rotate(62 153.4 243.9)" fill="#5c3b6c"/>
<circle cx="155.6" cy="243.6" r="0.90" fill="#47305e"/>
<ellipse cx="159.8" cy="243.7" rx="1.36" ry="0.72" transform="rotate(47 159.8 243.7)" fill="#4e3062"/>
<ellipse cx="163.6" cy="244.4" rx="1.29" ry="0.69" transform="rotate(65 163.6 244.4)" fill="#4e3062"/>
<ellipse cx="166.7" cy="244.0" rx="1.26" ry="0.67" transform="rotate(123 166.7 244.0)" fill="#47305e"/>
<circle cx="169.8" cy="245.1" r="0.86" fill="#5c3b6c"/>
<ellipse cx="176.8" cy="244.9" rx="1.16" ry="0.62" transform="rotate(178 176.8 244.9)" fill="#4e3062"/>
<circle cx="180.3" cy="243.3" r="0.88" fill="#5c3b6c"/>
<circle cx="192.0" cy="244.9" r="0.88" fill="#553566"/>
<ellipse cx="194.9" cy="244.8" rx="1.24" ry="0.66" transform="rotate(19 194.9 244.8)" fill="#47305e"/>
<circle cx="116.9" cy="247.4" r="0.85" fill="#553566"/>
<circle cx="120.7" cy="246.6" r="0.86" fill="#4e3062"/>
<circle cx="123.3" cy="247.3" r="0.80" fill="#553566"/>
<ellipse cx="126.4" cy="245.9" rx="1.14" ry="0.61" transform="rotate(64 126.4 245.9)" fill="#6a4674"/>
<ellipse cx="130.2" cy="247.4" rx="1.21" ry="0.64" transform="rotate(19 130.2 247.4)" fill="#553566"/>
<circle cx="132.9" cy="247.1" r="0.89" fill="#5c3b6c"/>
<ellipse cx="144.0" cy="247.3" rx="1.30" ry="0.70" transform="rotate(80 144.0 247.3)" fill="#5c3b6c"/>
<circle cx="152.3" cy="246.8" r="0.80" fill="#553566"/>
<circle cx="154.6" cy="247.0" r="0.77" fill="#47305e"/>
<circle cx="161.3" cy="247.9" r="0.77" fill="#47305e"/>
<circle cx="164.2" cy="248.0" r="0.95" fill="#4e3062"/>
<ellipse cx="176.7" cy="245.8" rx="1.17" ry="0.62" transform="rotate(56 176.7 245.8)" fill="#6a4674"/>
<circle cx="180.3" cy="247.7" r="0.76" fill="#6a4674"/>
<ellipse cx="181.6" cy="245.9" rx="1.30" ry="0.69" transform="rotate(25 181.6 245.9)" fill="#5c3b6c"/>
<ellipse cx="185.6" cy="246.0" rx="1.29" ry="0.69" transform="rotate(167 185.6 246.0)" fill="#5c3b6c"/>
<circle cx="189.0" cy="246.9" r="0.90" fill="#6a4674"/>
<ellipse cx="194.3" cy="245.7" rx="1.28" ry="0.68" transform="rotate(95 194.3 245.7)" fill="#47305e"/>
<circle cx="110.3" cy="249.7" r="0.78" fill="#4e3062"/>
<circle cx="115.1" cy="250.6" r="0.80" fill="#47305e"/>
<circle cx="118.0" cy="250.4" r="0.92" fill="#553566"/>
<circle cx="121.0" cy="249.5" r="0.85" fill="#553566"/>
<circle cx="124.0" cy="250.5" r="0.86" fill="#47305e"/>
<ellipse cx="129.4" cy="249.3" rx="1.33" ry="0.71" transform="rotate(81 129.4 249.3)" fill="#5c3b6c"/>
<ellipse cx="131.5" cy="250.6" rx="1.19" ry="0.64" transform="rotate(7 131.5 250.6)" fill="#6a4674"/>
<circle cx="135.1" cy="250.7" r="0.77" fill="#5c3b6c"/>
<circle cx="138.0" cy="250.0" r="0.94" fill="#47305e"/>
<ellipse cx="145.6" cy="249.1" rx="1.27" ry="0.68" transform="rotate(40 145.6 249.1)" fill="#4e3062"/>
<circle cx="155.7" cy="250.6" r="0.76" fill="#5c3b6c"/>
<ellipse cx="160.0" cy="248.7" rx="1.16" ry="0.62" transform="rotate(26 160.0 248.7)" fill="#47305e"/>
<circle cx="166.2" cy="251.0" r="0.84" fill="#4e3062"/>
<circle cx="174.2" cy="249.0" r="0.81" fill="#5c3b6c"/>
<circle cx="180.4" cy="249.7" r="0.79" fill="#6a4674"/>
<ellipse cx="183.3" cy="249.6" rx="1.17" ry="0.63" transform="rotate(34 183.3 249.6)" fill="#553566"/>
<circle cx="188.3" cy="248.9" r="0.79" fill="#553566"/>
<circle cx="191.9" cy="248.8" r="0.82" fill="#5c3b6c"/>
<ellipse cx="196.0" cy="249.7" rx="1.28" ry="0.68" transform="rotate(104 196.0 249.7)" fill="#4e3062"/>
<ellipse cx="113.0" cy="253.0" rx="1.36" ry="0.72" transform="rotate(50 113.0 253.0)" fill="#553566"/>
<ellipse cx="115.1" cy="253.3" rx="1.16" ry="0.62" transform="rotate(99 115.1 253.3)" fill="#5c3b6c"/>
<ellipse cx="120.2" cy="253.3" rx="1.39" ry="0.74" transform="rotate(96 120.2 253.3)" fill="#553566"/>
<ellipse cx="122.7" cy="253.1" rx="1.36" ry="0.72" transform="rotate(151 122.7 253.1)" fill="#553566"/>
<circle cx="126.8" cy="254.0" r="0.84" fill="#5c3b6c"/>
<ellipse cx="132.8" cy="252.6" rx="1.31" ry="0.70" transform="rotate(47 132.8 252.6)" fill="#5c3b6c"/>
<ellipse cx="136.0" cy="252.1" rx="1.36" ry="0.72" transform="rotate(128 136.0 252.1)" fill="#47305e"/>
<circle cx="139.6" cy="252.9" r="0.80" fill="#553566"/>
<ellipse cx="145.0" cy="253.3" rx="1.14" ry="0.61" transform="rotate(77 145.0 253.3)" fill="#47305e"/>
<ellipse cx="146.5" cy="252.4" rx="1.29" ry="0.69" transform="rotate(150 146.5 252.4)" fill="#6a4674"/>
<ellipse cx="151.4" cy="253.3" rx="1.25" ry="0.67" transform="rotate(15 151.4 253.3)" fill="#6a4674"/>
<circle cx="155.3" cy="252.2" r="0.90" fill="#4e3062"/>
<circle cx="158.5" cy="254.1" r="0.87" fill="#5c3b6c"/>
<ellipse cx="162.2" cy="252.8" rx="1.24" ry="0.66" transform="rotate(171 162.2 252.8)" fill="#47305e"/>
<circle cx="165.7" cy="253.1" r="0.77" fill="#553566"/>
<ellipse cx="172.2" cy="254.0" rx="1.13" ry="0.60" transform="rotate(71 172.2 254.0)" fill="#5c3b6c"/>
<ellipse cx="174.2" cy="254.1" rx="1.22" ry="0.65" transform="rotate(84 174.2 254.1)" fill="#553566"/>
<circle cx="179.9" cy="253.9" r="0.84" fill="#5c3b6c"/>
<circle cx="181.7" cy="252.2" r="0.84" fill="#6a4674"/>
<ellipse cx="186.8" cy="253.7" rx="1.36" ry="0.73" transform="rotate(20 186.8 253.7)" fill="#5c3b6c"/>
<circle cx="190.3" cy="252.2" r="0.82" fill="#6a4674"/>
<ellipse cx="194.0" cy="253.9" rx="1.13" ry="0.61" transform="rotate(169 194.0 253.9)" fill="#47305e"/>
<circle cx="109.7" cy="256.2" r="0.78" fill="#6a4674"/>
<circle cx="113.2" cy="254.8" r="0.82" fill="#4e3062"/>
<ellipse cx="120.4" cy="254.9" rx="1.20" ry="0.64" transform="rotate(64 120.4 254.9)" fill="#47305e"/>
<circle cx="126.0" cy="256.3" r="0.87" fill="#553566"/>
<ellipse cx="129.5" cy="255.8" rx="1.36" ry="0.72" transform="rotate(75 129.5 255.8)" fill="#4e3062"/>
<ellipse cx="132.1" cy="256.8" rx="1.15" ry="0.61" transform="rotate(145 132.1 256.8)" fill="#4e3062"/>
<circle cx="134.4" cy="255.1" r="0.83" fill="#4e3062"/>
<ellipse cx="138.0" cy="255.0" rx="1.14" ry="0.61" transform="rotate(54 138.0 255.0)" fill="#553566"/>
<ellipse cx="141.2" cy="256.2" rx="1.16" ry="0.62" transform="rotate(127 141.2 256.2)" fill="#4e3062"/>
<circle cx="144.9" cy="255.4" r="0.75" fill="#553566"/>
<circle cx="150.3" cy="255.3" r="0.94" fill="#5c3b6c"/>
<circle cx="153.8" cy="256.0" r="0.82" fill="#5c3b6c"/>
<circle cx="157.4" cy="255.2" r="0.84" fill="#5c3b6c"/>
<circle cx="159.1" cy="256.9" r="0.78" fill="#553566"/>
<ellipse cx="163.1" cy="255.3" rx="1.34" ry="0.72" transform="rotate(79 163.1 255.3)" fill="#4e3062"/>
<ellipse cx="167.8" cy="257.0" rx="1.42" ry="0.76" transform="rotate(148 167.8 257.0)" fill="#6a4674"/>
<ellipse cx="169.7" cy="256.3" rx="1.19" ry="0.64" transform="rotate(14 169.7 256.3)" fill="#5c3b6c"/>
<ellipse cx="174.9" cy="256.5" rx="1.32" ry="0.70" transform="rotate(165 174.9 256.5)" fill="#553566"/>
<ellipse cx="181.6" cy="255.3" rx="1.17" ry="0.63" transform="rotate(179 181.6 255.3)" fill="#5c3b6c"/>
<ellipse cx="190.2" cy="254.8" rx="1.29" ry="0.69" transform="rotate(13 190.2 254.8)" fill="#4e3062"/>
<ellipse cx="193.6" cy="254.8" rx="1.41" ry="0.75" transform="rotate(160 193.6 254.8)" fill="#553566"/>
<ellipse cx="112.9" cy="258.0" rx="1.29" ry="0.69" transform="rotate(8 112.9 258.0)" fill="#4e3062"/>
<ellipse cx="114.7" cy="259.6" rx="1.30" ry="0.69" transform="rotate(32 114.7 259.6)" fill="#4e3062"/>
<circle cx="122.9" cy="259.7" r="0.84" fill="#5c3b6c"/>
<circle cx="126.3" cy="258.6" r="0.84" fill="#6a4674"/>
<ellipse cx="130.7" cy="259.2" rx="1.24" ry="0.66" transform="rotate(137 130.7 259.2)" fill="#6a4674"/>
<circle cx="137.4" cy="259.0" r="0.91" fill="#553566"/>
<circle cx="139.9" cy="258.7" r="0.88" fill="#553566"/>
<ellipse cx="149.8" cy="258.2" rx="1.32" ry="0.70" transform="rotate(44 149.8 258.2)" fill="#553566"/>
<circle cx="157.8" cy="260.0" r="0.92" fill="#5c3b6c"/>
<circle cx="165.0" cy="260.1" r="0.79" fill="#6a4674"/>
<circle cx="170.7" cy="260.0" r="0.81" fill="#6a4674"/>
<ellipse cx="174.7" cy="258.2" rx="1.25" ry="0.67" transform="rotate(167 174.7 258.2)" fill="#47305e"/>
<circle cx="178.1" cy="259.2" r="0.86" fill="#6a4674"/>
<circle cx="182.2" cy="260.3" r="0.76" fill="#5c3b6c"/>
<circle cx="185.3" cy="258.2" r="0.80" fill="#47305e"/>
<circle cx="189.5" cy="258.6" r="0.94" fill="#553566"/>
<ellipse cx="191.7" cy="260.0" rx="1.29" ry="0.69" transform="rotate(47 191.7 260.0)" fill="#553566"/>
<circle cx="109.5" cy="263.1" r="0.78" fill="#553566"/>
<ellipse cx="113.9" cy="263.0" rx="1.16" ry="0.62" transform="rotate(77 113.9 263.0)" fill="#5c3b6c"/>
<ellipse cx="120.6" cy="261.4" rx="1.17" ry="0.62" transform="rotate(76 120.6 261.4)" fill="#4e3062"/>
<circle cx="127.7" cy="263.1" r="0.77" fill="#47305e"/>
<ellipse cx="132.0" cy="261.4" rx="1.19" ry="0.64" transform="rotate(65 132.0 261.4)" fill="#5c3b6c"/>
<ellipse cx="134.6" cy="262.7" rx="1.14" ry="0.61" transform="rotate(179 134.6 262.7)" fill="#4e3062"/>
<ellipse cx="138.1" cy="261.7" rx="1.41" ry="0.75" transform="rotate(9 138.1 261.7)" fill="#4e3062"/>
<circle cx="146.9" cy="262.0" r="0.89" fill="#6a4674"/>
<ellipse cx="153.9" cy="260.9" rx="1.36" ry="0.72" transform="rotate(69 153.9 260.9)" fill="#4e3062"/>
<circle cx="156.5" cy="262.3" r="0.87" fill="#5c3b6c"/>
<ellipse cx="159.2" cy="263.3" rx="1.22" ry="0.65" transform="rotate(21 159.2 263.3)" fill="#553566"/>
<circle cx="163.9" cy="262.0" r="0.80" fill="#47305e"/>
<ellipse cx="167.9" cy="261.7" rx="1.29" ry="0.69" transform="rotate(172 167.9 261.7)" fill="#4e3062"/>
<circle cx="170.0" cy="262.7" r="0.90" fill="#5c3b6c"/>
<ellipse cx="176.1" cy="263.1" rx="1.17" ry="0.63" transform="rotate(108 176.1 263.1)" fill="#47305e"/>
<ellipse cx="180.6" cy="261.0" rx="1.13" ry="0.60" transform="rotate(44 180.6 261.0)" fill="#47305e"/>
<circle cx="183.9" cy="263.3" r="0.77" fill="#47305e"/>
<ellipse cx="190.2" cy="261.7" rx="1.21" ry="0.65" transform="rotate(36 190.2 261.7)" fill="#4e3062"/>
<ellipse cx="195.0" cy="262.5" rx="1.20" ry="0.64" transform="rotate(106 195.0 262.5)" fill="#553566"/>
<circle cx="111.6" cy="265.1" r="0.91" fill="#6a4674"/>
<ellipse cx="124.2" cy="264.0" rx="1.22" ry="0.65" transform="rotate(121 124.2 264.0)" fill="#553566"/>
<ellipse cx="127.5" cy="264.1" rx="1.17" ry="0.62" transform="rotate(161 127.5 264.1)" fill="#553566"/>
<circle cx="131.3" cy="265.9" r="0.78" fill="#6a4674"/>
<ellipse cx="134.0" cy="264.1" rx="1.19" ry="0.64" transform="rotate(126 134.0 264.1)" fill="#4e3062"/>
<circle cx="136.7" cy="264.7" r="0.88" fill="#553566"/>
<circle cx="141.9" cy="264.0" r="0.77" fill="#47305e"/>
<ellipse cx="144.4" cy="264.3" rx="1.33" ry="0.71" transform="rotate(56 144.4 264.3)" fill="#4e3062"/>
<ellipse cx="146.7" cy="265.0" rx="1.13" ry="0.61" transform="rotate(90 146.7 265.0)" fill="#6a4674"/>
<circle cx="151.4" cy="265.4" r="0.81" fill="#6a4674"/>
<circle cx="155.3" cy="264.6" r="0.89" fill="#47305e"/>
<ellipse cx="158.0" cy="266.2" rx="1.30" ry="0.69" transform="rotate(170 158.0 266.2)" fill="#47305e"/>
<ellipse cx="162.4" cy="265.6" rx="1.30" ry="0.69" transform="rotate(30 162.4 265.6)" fill="#553566"/>
<ellipse cx="165.0" cy="265.1" rx="1.17" ry="0.62" transform="rotate(170 165.0 265.1)" fill="#5c3b6c"/>
<ellipse cx="169.0" cy="265.0" rx="1.25" ry="0.67" transform="rotate(164 169.0 265.0)" fill="#47305e"/>
<ellipse cx="172.5" cy="265.9" rx="1.14" ry="0.61" transform="rotate(112 172.5 265.9)" fill="#5c3b6c"/>
<ellipse cx="176.1" cy="264.8" rx="1.16" ry="0.62" transform="rotate(163 176.1 264.8)" fill="#4e3062"/>
<circle cx="179.2" cy="264.0" r="0.93" fill="#4e3062"/>
<circle cx="183.4" cy="264.4" r="0.95" fill="#553566"/>
<ellipse cx="185.5" cy="264.8" rx="1.13" ry="0.60" transform="rotate(161 185.5 264.8)" fill="#553566"/>
<ellipse cx="189.1" cy="266.3" rx="1.38" ry="0.74" transform="rotate(72 189.1 266.3)" fill="#553566"/>
<circle cx="194.0" cy="264.9" r="0.83" fill="#4e3062"/>
<circle cx="109.1" cy="268.6" r="0.87" fill="#6a4674"/>
<ellipse cx="112.6" cy="267.6" rx="1.35" ry="0.72" transform="rotate(84 112.6 267.6)" fill="#553566"/>
<ellipse cx="118.2" cy="268.9" rx="1.30" ry="0.69" transform="rotate(45 118.2 268.9)" fill="#6a4674"/>
<circle cx="120.0" cy="267.8" r="0.76" fill="#5c3b6c"/>
<ellipse cx="124.4" cy="268.7" rx="1.32" ry="0.70" transform="rotate(113 124.4 268.7)" fill="#5c3b6c"/>
<circle cx="126.8" cy="267.8" r="0.92" fill="#6a4674"/>
<ellipse cx="130.5" cy="267.4" rx="1.15" ry="0.61" transform="rotate(61 130.5 267.4)" fill="#553566"/>
<ellipse cx="133.6" cy="268.1" rx="1.20" ry="0.64" transform="rotate(133 133.6 268.1)" fill="#47305e"/>
<circle cx="137.8" cy="269.2" r="0.88" fill="#4e3062"/>
<circle cx="141.9" cy="269.1" r="0.94" fill="#4e3062"/>
<ellipse cx="145.3" cy="269.2" rx="1.41" ry="0.75" transform="rotate(134 145.3 269.2)" fill="#6a4674"/>
<ellipse cx="148.4" cy="268.3" rx="1.17" ry="0.62" transform="rotate(68 148.4 268.3)" fill="#553566"/>
<ellipse cx="152.9" cy="268.1" rx="1.20" ry="0.64" transform="rotate(137 152.9 268.1)" fill="#553566"/>
<circle cx="159.8" cy="268.9" r="0.78" fill="#47305e"/>
<ellipse cx="161.7" cy="268.5" rx="1.30" ry="0.69" transform="rotate(135 161.7 268.5)" fill="#4e3062"/>
<circle cx="166.8" cy="267.7" r="0.85" fill="#4e3062"/>
<ellipse cx="170.6" cy="268.0" rx="1.13" ry="0.60" transform="rotate(76 170.6 268.0)" fill="#4e3062"/>
<ellipse cx="174.1" cy="267.2" rx="1.32" ry="0.71" transform="rotate(64 174.1 267.2)" fill="#47305e"/>
<ellipse cx="177.6" cy="267.2" rx="1.40" ry="0.75" transform="rotate(62 177.6 267.2)" fill="#553566"/>
<ellipse cx="179.4" cy="268.9" rx="1.21" ry="0.64" transform="rotate(48 179.4 268.9)" fill="#4e3062"/>
<ellipse cx="188.0" cy="267.9" rx="1.31" ry="0.70" transform="rotate(103 188.0 267.9)" fill="#47305e"/>
<ellipse cx="190.7" cy="268.8" rx="1.36" ry="0.72" transform="rotate(158 190.7 268.8)" fill="#47305e"/>
<circle cx="195.1" cy="267.2" r="0.88" fill="#4e3062"/>
<ellipse cx="112.9" cy="270.4" rx="1.31" ry="0.70" transform="rotate(17 112.9 270.4)" fill="#6a4674"/>
<ellipse cx="115.6" cy="272.1" rx="1.17" ry="0.62" transform="rotate(89 115.6 272.1)" fill="#47305e"/>
<ellipse cx="122.1" cy="270.7" rx="1.18" ry="0.63" transform="rotate(177 122.1 270.7)" fill="#6a4674"/>
<ellipse cx="124.8" cy="270.7" rx="1.39" ry="0.74" transform="rotate(109 124.8 270.7)" fill="#4e3062"/>
<circle cx="128.4" cy="271.0" r="0.88" fill="#47305e"/>
<circle cx="140.8" cy="270.7" r="0.77" fill="#4e3062"/>
<circle cx="143.5" cy="271.5" r="0.90" fill="#553566"/>
<ellipse cx="147.6" cy="272.4" rx="1.22" ry="0.65" transform="rotate(64 147.6 272.4)" fill="#5c3b6c"/>
<ellipse cx="151.1" cy="272.1" rx="1.15" ry="0.61" transform="rotate(81 151.1 272.1)" fill="#5c3b6c"/>
<ellipse cx="152.8" cy="270.5" rx="1.26" ry="0.67" transform="rotate(137 152.8 270.5)" fill="#6a4674"/>
<circle cx="156.8" cy="270.3" r="0.87" fill="#553566"/>
<ellipse cx="163.9" cy="271.8" rx="1.31" ry="0.70" transform="rotate(51 163.9 271.8)" fill="#47305e"/>
<ellipse cx="166.7" cy="271.3" rx="1.17" ry="0.62" transform="rotate(19 166.7 271.3)" fill="#6a4674"/>
<ellipse cx="171.6" cy="271.8" rx="1.20" ry="0.64" transform="rotate(102 171.6 271.8)" fill="#553566"/>
<circle cx="174.6" cy="270.6" r="0.91" fill="#553566"/>
<ellipse cx="178.4" cy="272.5" rx="1.26" ry="0.67" transform="rotate(94 178.4 272.5)" fill="#47305e"/>
<ellipse cx="181.5" cy="272.0" rx="1.23" ry="0.65" transform="rotate(65 181.5 272.0)" fill="#4e3062"/>
<circle cx="184.9" cy="270.9" r="0.84" fill="#5c3b6c"/>
<circle cx="188.1" cy="271.5" r="0.94" fill="#47305e"/>
<circle cx="192.8" cy="271.0" r="0.76" fill="#553566"/>
<ellipse cx="113.4" cy="274.7" rx="1.37" ry="0.73" transform="rotate(109 113.4 274.7)" fill="#553566"/>
<ellipse cx="116.5" cy="275.2" rx="1.25" ry="0.67" transform="rotate(170 116.5 275.2)" fill="#47305e"/>
<ellipse cx="123.5" cy="273.2" rx="1.16" ry="0.62" transform="rotate(44 123.5 273.2)" fill="#553566"/>
<ellipse cx="126.5" cy="274.3" rx="1.19" ry="0.64" transform="rotate(47 126.5 274.3)" fill="#47305e"/>
<circle cx="130.3" cy="274.1" r="0.82" fill="#47305e"/>
<ellipse cx="134.8" cy="273.9" rx="1.18" ry="0.63" transform="rotate(46 134.8 273.9)" fill="#6a4674"/>
<ellipse cx="137.8" cy="273.9" rx="1.42" ry="0.76" transform="rotate(55 137.8 273.9)" fill="#553566"/>
<circle cx="142.3" cy="273.6" r="0.78" fill="#553566"/>
<circle cx="144.4" cy="273.2" r="0.82" fill="#5c3b6c"/>
<circle cx="161.7" cy="275.0" r="0.87" fill="#5c3b6c"/>
<circle cx="165.6" cy="273.7" r="0.77" fill="#553566"/>
<ellipse cx="168.7" cy="275.4" rx="1.31" ry="0.70" transform="rotate(66 168.7 275.4)" fill="#5c3b6c"/>
<circle cx="174.0" cy="274.9" r="0.88" fill="#47305e"/>
<ellipse cx="176.4" cy="274.7" rx="1.39" ry="0.74" transform="rotate(104 176.4 274.7)" fill="#553566"/>
<ellipse cx="179.3" cy="273.8" rx="1.37" ry="0.73" transform="rotate(168 179.3 273.8)" fill="#47305e"/>
<circle cx="182.7" cy="274.9" r="0.80" fill="#5c3b6c"/>
<ellipse cx="185.9" cy="274.4" rx="1.40" ry="0.74" transform="rotate(171 185.9 274.4)" fill="#47305e"/>
<ellipse cx="191.4" cy="273.7" rx="1.25" ry="0.67" transform="rotate(48 191.4 273.7)" fill="#5c3b6c"/>
<ellipse cx="193.0" cy="273.2" rx="1.17" ry="0.63" transform="rotate(42 193.0 273.2)" fill="#4e3062"/>
<ellipse cx="113.6" cy="278.0" rx="1.19" ry="0.63" transform="rotate(170 113.6 278.0)" fill="#5c3b6c"/>
<ellipse cx="116.6" cy="276.3" rx="1.28" ry="0.68" transform="rotate(8 116.6 276.3)" fill="#47305e"/>
<ellipse cx="120.3" cy="276.7" rx="1.35" ry="0.72" transform="rotate(66 120.3 276.7)" fill="#4e3062"/>
<ellipse cx="127.0" cy="276.9" rx="1.19" ry="0.63" transform="rotate(116 127.0 276.9)" fill="#553566"/>
<circle cx="129.5" cy="277.9" r="0.91" fill="#47305e"/>
<circle cx="132.3" cy="276.9" r="0.81" fill="#5c3b6c"/>
<circle cx="136.6" cy="277.8" r="0.84" fill="#4e3062"/>
<circle cx="144.0" cy="277.5" r="0.95" fill="#6a4674"/>
<circle cx="150.8" cy="276.9" r="0.93" fill="#5c3b6c"/>
<circle cx="155.5" cy="277.8" r="0.77" fill="#4e3062"/>
<ellipse cx="157.4" cy="276.6" rx="1.27" ry="0.68" transform="rotate(29 157.4 276.6)" fill="#5c3b6c"/>
<circle cx="161.8" cy="278.1" r="0.93" fill="#553566"/>
<ellipse cx="164.5" cy="277.8" rx="1.17" ry="0.62" transform="rotate(166 164.5 277.8)" fill="#47305e"/>
<ellipse cx="167.9" cy="278.0" rx="1.41" ry="0.75" transform="rotate(38 167.9 278.0)" fill="#47305e"/>
<circle cx="172.7" cy="277.7" r="0.88" fill="#6a4674"/>
<circle cx="176.5" cy="276.6" r="0.81" fill="#47305e"/>
<ellipse cx="180.1" cy="277.8" rx="1.29" ry="0.69" transform="rotate(71 180.1 277.8)" fill="#47305e"/>
<circle cx="182.5" cy="277.4" r="0.75" fill="#47305e"/>
<ellipse cx="188.3" cy="277.5" rx="1.25" ry="0.66" transform="rotate(20 188.3 277.5)" fill="#553566"/>
<circle cx="193.7" cy="278.5" r="0.82" fill="#553566"/>
<circle cx="111.2" cy="281.5" r="0.85" fill="#47305e"/>
<ellipse cx="114.1" cy="280.5" rx="1.32" ry="0.71" transform="rotate(134 114.1 280.5)" fill="#6a4674"/>
<ellipse cx="117.5" cy="280.9" rx="1.33" ry="0.71" transform="rotate(50 117.5 280.9)" fill="#47305e"/>
<ellipse cx="120.5" cy="280.1" rx="1.40" ry="0.74" transform="rotate(105 120.5 280.1)" fill="#6a4674"/>
<circle cx="123.3" cy="280.5" r="0.76" fill="#553566"/>
<ellipse cx="127.4" cy="281.5" rx="1.20" ry="0.64" transform="rotate(92 127.4 281.5)" fill="#553566"/>
<circle cx="131.4" cy="279.4" r="0.88" fill="#553566"/>
<circle cx="135.8" cy="280.8" r="0.91" fill="#5c3b6c"/>
<circle cx="139.6" cy="279.9" r="0.94" fill="#553566"/>
<ellipse cx="141.5" cy="279.4" rx="1.25" ry="0.67" transform="rotate(14 141.5 279.4)" fill="#553566"/>
<ellipse cx="145.0" cy="280.7" rx="1.34" ry="0.72" transform="rotate(97 145.0 280.7)" fill="#5c3b6c"/>
<ellipse cx="147.9" cy="280.5" rx="1.41" ry="0.75" transform="rotate(177 147.9 280.5)" fill="#47305e"/>
<circle cx="151.8" cy="281.6" r="0.84" fill="#4e3062"/>
<ellipse cx="156.7" cy="279.8" rx="1.38" ry="0.74" transform="rotate(8 156.7 279.8)" fill="#47305e"/>
<circle cx="167.4" cy="279.5" r="0.85" fill="#553566"/>
<ellipse cx="169.1" cy="281.0" rx="1.42" ry="0.76" transform="rotate(107 169.1 281.0)" fill="#553566"/>
<circle cx="173.5" cy="279.8" r="0.76" fill="#47305e"/>
<ellipse cx="176.4" cy="281.0" rx="1.37" ry="0.73" transform="rotate(62 176.4 281.0)" fill="#47305e"/>
<ellipse cx="181.4" cy="279.3" rx="1.32" ry="0.70" transform="rotate(83 181.4 279.3)" fill="#553566"/>
<circle cx="190.7" cy="280.9" r="0.88" fill="#6a4674"/>
<ellipse cx="112.3" cy="283.7" rx="1.29" ry="0.69" transform="rotate(52 112.3 283.7)" fill="#553566"/>
<ellipse cx="116.2" cy="283.9" rx="1.31" ry="0.70" transform="rotate(134 116.2 283.9)" fill="#553566"/>
<ellipse cx="122.0" cy="284.0" rx="1.18" ry="0.63" transform="rotate(56 122.0 284.0)" fill="#553566"/>
<ellipse cx="125.2" cy="284.1" rx="1.20" ry="0.64" transform="rotate(134 125.2 284.1)" fill="#553566"/>
<circle cx="128.8" cy="282.9" r="0.79" fill="#553566"/>
<circle cx="132.9" cy="282.4" r="0.94" fill="#6a4674"/>
<circle cx="137.3" cy="282.8" r="0.89" fill="#47305e"/>
<ellipse cx="140.1" cy="284.4" rx="1.24" ry="0.66" transform="rotate(132 140.1 284.4)" fill="#6a4674"/>
<ellipse cx="143.3" cy="284.1" rx="1.39" ry="0.74" transform="rotate(41 143.3 284.1)" fill="#5c3b6c"/>
<ellipse cx="153.5" cy="282.9" rx="1.26" ry="0.67" transform="rotate(170 153.5 282.9)" fill="#47305e"/>
<circle cx="157.1" cy="283.0" r="0.91" fill="#47305e"/>
<circle cx="160.7" cy="283.4" r="0.81" fill="#5c3b6c"/>
<circle cx="167.4" cy="284.2" r="0.76" fill="#6a4674"/>
<ellipse cx="170.7" cy="282.8" rx="1.19" ry="0.64" transform="rotate(80 170.7 282.8)" fill="#6a4674"/>
<ellipse cx="181.8" cy="282.4" rx="1.30" ry="0.69" transform="rotate(105 181.8 282.4)" fill="#47305e"/>
<ellipse cx="189.5" cy="282.8" rx="1.35" ry="0.72" transform="rotate(150 189.5 282.8)" fill="#4e3062"/>
<circle cx="192.6" cy="284.0" r="0.94" fill="#553566"/>
<ellipse cx="111.1" cy="285.7" rx="1.36" ry="0.73" transform="rotate(109 111.1 285.7)" fill="#47305e"/>
<circle cx="117.7" cy="287.7" r="0.87" fill="#6a4674"/>
<circle cx="124.2" cy="285.7" r="0.87" fill="#5c3b6c"/>
<ellipse cx="127.1" cy="285.6" rx="1.15" ry="0.61" transform="rotate(28 127.1 285.6)" fill="#47305e"/>
<circle cx="130.9" cy="286.4" r="0.92" fill="#4e3062"/>
<circle cx="135.5" cy="285.4" r="0.77" fill="#5c3b6c"/>
<circle cx="139.7" cy="286.7" r="0.87" fill="#553566"/>
<ellipse cx="150.2" cy="285.3" rx="1.21" ry="0.65" transform="rotate(92 150.2 285.3)" fill="#553566"/>
<circle cx="166.4" cy="286.1" r="0.92" fill="#5c3b6c"/>
<ellipse cx="171.2" cy="286.2" rx="1.35" ry="0.72" transform="rotate(110 171.2 286.2)" fill="#47305e"/>
<ellipse cx="178.2" cy="286.6" rx="1.37" ry="0.73" transform="rotate(114 178.2 286.6)" fill="#5c3b6c"/>
<ellipse cx="180.5" cy="286.9" rx="1.36" ry="0.73" transform="rotate(48 180.5 286.9)" fill="#47305e"/>
<ellipse cx="184.9" cy="287.2" rx="1.35" ry="0.72" transform="rotate(139 184.9 287.2)" fill="#6a4674"/>
<ellipse cx="187.4" cy="285.5" rx="1.22" ry="0.65" transform="rotate(18 187.4 285.5)" fill="#6a4674"/>
<ellipse cx="193.5" cy="286.2" rx="1.33" ry="0.71" transform="rotate(65 193.5 286.2)" fill="#6a4674"/>
<circle cx="113.7" cy="288.9" r="0.78" fill="#47305e"/>
<circle cx="116.9" cy="289.2" r="0.87" fill="#6a4674"/>
<circle cx="120.2" cy="290.1" r="0.94" fill="#47305e"/>
<circle cx="123.6" cy="290.5" r="0.94" fill="#553566"/>
<ellipse cx="130.5" cy="288.7" rx="1.19" ry="0.63" transform="rotate(157 130.5 288.7)" fill="#6a4674"/>
<circle cx="134.6" cy="289.2" r="0.78" fill="#6a4674"/>
<ellipse cx="137.9" cy="290.3" rx="1.41" ry="0.75" transform="rotate(36 137.9 290.3)" fill="#553566"/>
<circle cx="141.2" cy="288.5" r="0.88" fill="#6a4674"/>
<circle cx="144.0" cy="289.9" r="0.92" fill="#5c3b6c"/>
<ellipse cx="146.7" cy="290.2" rx="1.14" ry="0.61" transform="rotate(176 146.7 290.2)" fill="#6a4674"/>
<circle cx="153.9" cy="290.3" r="0.80" fill="#6a4674"/>
<circle cx="161.2" cy="289.7" r="0.79" fill="#553566"/>
<ellipse cx="165.8" cy="289.3" rx="1.23" ry="0.66" transform="rotate(29 165.8 289.3)" fill="#4e3062"/>
<circle cx="169.7" cy="288.3" r="0.93" fill="#47305e"/>
<ellipse cx="176.6" cy="289.3" rx="1.36" ry="0.73" transform="rotate(144 176.6 289.3)" fill="#47305e"/>
<ellipse cx="178.0" cy="288.6" rx="1.37" ry="0.73" transform="rotate(151 178.0 288.6)" fill="#47305e"/>
<ellipse cx="185.9" cy="288.9" rx="1.19" ry="0.64" transform="rotate(7 185.9 288.9)" fill="#553566"/>
<circle cx="188.5" cy="290.1" r="0.85" fill="#5c3b6c"/>
<circle cx="111.0" cy="292.7" r="0.82" fill="#4e3062"/>
<circle cx="113.8" cy="291.4" r="0.80" fill="#4e3062"/>
<ellipse cx="118.9" cy="291.9" rx="1.21" ry="0.65" transform="rotate(60 118.9 291.9)" fill="#553566"/>
<ellipse cx="121.1" cy="292.7" rx="1.14" ry="0.61" transform="rotate(168 121.1 292.7)" fill="#6a4674"/>
<ellipse cx="124.8" cy="292.3" rx="1.28" ry="0.68" transform="rotate(22 124.8 292.3)" fill="#553566"/>
<circle cx="128.4" cy="291.6" r="0.90" fill="#553566"/>
<circle cx="138.7" cy="291.5" r="0.88" fill="#553566"/>
<circle cx="142.9" cy="292.8" r="0.91" fill="#5c3b6c"/>
<circle cx="146.8" cy="292.8" r="0.82" fill="#5c3b6c"/>
<circle cx="150.6" cy="292.4" r="0.85" fill="#47305e"/>
<ellipse cx="152.6" cy="293.2" rx="1.13" ry="0.60" transform="rotate(169 152.6 293.2)" fill="#6a4674"/>
<ellipse cx="157.4" cy="293.6" rx="1.33" ry="0.71" transform="rotate(22 157.4 293.6)" fill="#4e3062"/>
<circle cx="163.7" cy="292.5" r="0.94" fill="#6a4674"/>
<circle cx="166.5" cy="293.2" r="0.89" fill="#553566"/>
<circle cx="171.3" cy="291.6" r="0.86" fill="#4e3062"/>
<circle cx="173.9" cy="292.9" r="0.93" fill="#553566"/>
<ellipse cx="178.5" cy="293.4" rx="1.38" ry="0.74" transform="rotate(150 178.5 293.4)" fill="#4e3062"/>
<circle cx="183.6" cy="291.9" r="0.89" fill="#6a4674"/>
<circle cx="187.2" cy="292.1" r="0.90" fill="#47305e"/>
<ellipse cx="191.0" cy="292.3" rx="1.26" ry="0.67" transform="rotate(93 191.0 292.3)" fill="#47305e"/>
<circle cx="194.9" cy="293.8" r="0.83" fill="#5c3b6c"/>
<circle cx="111.9" cy="296.1" r="0.91" fill="#6a4674"/>
<circle cx="115.8" cy="296.5" r="0.76" fill="#553566"/>
<ellipse cx="118.1" cy="296.5" rx="1.38" ry="0.74" transform="rotate(156 118.1 296.5)" fill="#553566"/>
<circle cx="122.2" cy="295.4" r="0.78" fill="#4e3062"/>
<circle cx="128.4" cy="295.9" r="0.84" fill="#6a4674"/>
<ellipse cx="133.2" cy="294.7" rx="1.33" ry="0.71" transform="rotate(128 133.2 294.7)" fill="#5c3b6c"/>
<ellipse cx="136.8" cy="295.0" rx="1.33" ry="0.71" transform="rotate(167 136.8 295.0)" fill="#553566"/>
<circle cx="146.8" cy="295.9" r="0.79" fill="#6a4674"/>
<circle cx="149.9" cy="295.4" r="0.79" fill="#6a4674"/>
<circle cx="154.7" cy="296.8" r="0.95" fill="#47305e"/>
<ellipse cx="157.3" cy="294.4" rx="1.28" ry="0.68" transform="rotate(152 157.3 294.4)" fill="#6a4674"/>
<circle cx="160.3" cy="295.9" r="0.87" fill="#47305e"/>
<ellipse cx="167.5" cy="295.8" rx="1.38" ry="0.73" transform="rotate(171 167.5 295.8)" fill="#6a4674"/>
<circle cx="171.4" cy="296.5" r="0.88" fill="#47305e"/>
<circle cx="175.0" cy="294.4" r="0.91" fill="#553566"/>
<circle cx="184.2" cy="295.2" r="0.94" fill="#6a4674"/>
<ellipse cx="189.4" cy="294.5" rx="1.39" ry="0.74" transform="rotate(51 189.4 294.5)" fill="#553566"/>
<circle cx="191.5" cy="296.1" r="0.88" fill="#553566"/>
<ellipse cx="114.1" cy="299.4" rx="1.21" ry="0.65" transform="rotate(135 114.1 299.4)" fill="#6a4674"/>
<circle cx="117.5" cy="299.1" r="0.86" fill="#4e3062"/>
<circle cx="123.2" cy="299.3" r="0.86" fill="#6a4674"/>
<ellipse cx="127.2" cy="299.8" rx="1.38" ry="0.74" transform="rotate(83 127.2 299.8)" fill="#5c3b6c"/>
<ellipse cx="131.5" cy="299.3" rx="1.24" ry="0.66" transform="rotate(55 131.5 299.3)" fill="#553566"/>
<circle cx="135.3" cy="297.8" r="0.89" fill="#553566"/>
<ellipse cx="138.2" cy="298.3" rx="1.21" ry="0.65" transform="rotate(72 138.2 298.3)" fill="#6a4674"/>
<circle cx="147.9" cy="299.3" r="0.90" fill="#553566"/>
<ellipse cx="156.7" cy="299.7" rx="1.38" ry="0.74" transform="rotate(111 156.7 299.7)" fill="#6a4674"/>
<ellipse cx="162.6" cy="297.9" rx="1.13" ry="0.60" transform="rotate(17 162.6 297.9)" fill="#4e3062"/>
<circle cx="166.7" cy="297.6" r="0.77" fill="#4e3062"/>
<circle cx="170.7" cy="299.3" r="0.85" fill="#5c3b6c"/>
<ellipse cx="175.8" cy="298.5" rx="1.33" ry="0.71" transform="rotate(28 175.8 298.5)" fill="#4e3062"/>
<circle cx="180.7" cy="297.9" r="0.93" fill="#553566"/>
<circle cx="184.6" cy="297.6" r="0.77" fill="#6a4674"/>
<circle cx="191.1" cy="299.0" r="0.93" fill="#5c3b6c"/>
<ellipse cx="195.3" cy="297.9" rx="1.13" ry="0.60" transform="rotate(84 195.3 297.9)" fill="#6a4674"/>
<ellipse cx="115" cy="250" rx="7" ry="5" transform="rotate(20 115 250)" fill="#dc8474"/>
<ellipse cx="132" cy="246" rx="8" ry="3.5" transform="rotate(-10 132 246)" fill="#dc8474"/>
<ellipse cx="120" cy="262" rx="6" ry="4" transform="rotate(30 120 262)" fill="#dc8474"/>
<ellipse cx="112" cy="292" rx="5" ry="5" transform="rotate(0 112 292)" fill="#dc8474"/>
<ellipse cx="150" cy="298" rx="8" ry="3" transform="rotate(0 150 298)" fill="#dc8474"/>
<ellipse cx="182" cy="296" rx="6" ry="3" transform="rotate(0 182 296)" fill="#dc8474"/>
<ellipse cx="194" cy="262" rx="3" ry="6" transform="rotate(0 194 262)" fill="#dc8474"/>
<ellipse cx="129.2" cy="256.7" rx="6.9" ry="6.2" transform="rotate(-20 129.2 256.7)" fill="#dc8474"/>
<ellipse cx="125.6" cy="279.7" rx="6.5" ry="6.4" transform="rotate(0 125.6 279.7)" fill="#dc8474"/>
<ellipse cx="174.3" cy="248.2" rx="8.0" ry="6.5" transform="rotate(0 174.3 248.2)" fill="#dc8474"/>
<ellipse cx="170.9" cy="258.6" rx="7.0" ry="6.2" transform="rotate(0 170.9 258.6)" fill="#dc8474"/>
<ellipse cx="183.6" cy="258.6" rx="6.0" ry="5.3" transform="rotate(0 183.6 258.6)" fill="#dc8474"/>
<ellipse cx="177.2" cy="267.9" rx="7.0" ry="6.5" transform="rotate(0 177.2 267.9)" fill="#dc8474"/>
<ellipse cx="189.4" cy="269.1" rx="7.0" ry="6.0" transform="rotate(0 189.4 269.1)" fill="#dc8474"/>
<ellipse cx="178.4" cy="278.3" rx="8.5" ry="5.5" transform="rotate(-35 178.4 278.3)" fill="#dc8474"/>
<ellipse cx="187.7" cy="281.8" rx="6.5" ry="6.0" transform="rotate(0 187.7 281.8)" fill="#dc8474"/>
<ellipse cx="172" cy="290" rx="9.0" ry="6.5" transform="rotate(-15 172 290)" fill="#dc8474"/>
<ellipse cx="190" cy="290.5" rx="6.5" ry="6.0" transform="rotate(0 190 290.5)" fill="#dc8474"/>
<ellipse cx="192.3" cy="250" rx="6.0" ry="7.0" transform="rotate(0 192.3 250)" fill="#dc8474"/>
<ellipse cx="111.5" cy="269.2" rx="6.0" ry="6.0" transform="rotate(0 111.5 269.2)" fill="#dc8474"/>
<circle cx="134.8" cy="253.4" r="0.8" fill="#47305e"/>
<circle cx="135.6" cy="255.6" r="0.8" fill="#5c3b6c"/>
<circle cx="133.9" cy="260.4" r="0.8" fill="#553566"/>
<circle cx="133.9" cy="260.4" r="0.8" fill="#5c3b6c"/>
<circle cx="131.4" cy="262.1" r="0.8" fill="#5c3b6c"/>
<circle cx="129.3" cy="262.6" r="0.8" fill="#5c3b6c"/>
<circle cx="126.5" cy="262.2" r="0.8" fill="#47305e"/>
<circle cx="123.1" cy="258.9" r="0.8" fill="#47305e"/>
<circle cx="123.1" cy="258.9" r="0.8" fill="#47305e"/>
<circle cx="123.1" cy="255.4" r="0.8" fill="#553566"/>
<circle cx="124.5" cy="253.0" r="0.8" fill="#553566"/>
<circle cx="126.2" cy="251.7" r="0.8" fill="#4e3062"/>
<circle cx="127.9" cy="251.0" r="0.8" fill="#5c3b6c"/>
<circle cx="130.4" cy="250.8" r="0.8" fill="#553566"/>
<circle cx="134.6" cy="253.2" r="0.8" fill="#553566"/>
<circle cx="131.7" cy="279.2" r="0.8" fill="#553566"/>
<circle cx="131.1" cy="282.3" r="0.8" fill="#47305e"/>
<circle cx="129.1" cy="284.6" r="0.8" fill="#5c3b6c"/>
<circle cx="127.4" cy="285.4" r="0.8" fill="#6a4674"/>
<circle cx="125.2" cy="285.7" r="0.8" fill="#6a4674"/>
<circle cx="121.5" cy="284.2" r="0.8" fill="#553566"/>
<circle cx="120.2" cy="282.5" r="0.8" fill="#553566"/>
<circle cx="119.5" cy="280.5" r="0.8" fill="#553566"/>
<circle cx="120.0" cy="277.3" r="0.8" fill="#6a4674"/>
<circle cx="122.1" cy="274.8" r="0.8" fill="#6a4674"/>
<circle cx="123.8" cy="274.0" r="0.8" fill="#47305e"/>
<circle cx="127.2" cy="273.9" r="0.8" fill="#4e3062"/>
<circle cx="128.8" cy="274.6" r="0.8" fill="#6a4674"/>
<circle cx="131.2" cy="277.4" r="0.8" fill="#4e3062"/>
<circle cx="181.9" cy="248.5" r="0.8" fill="#6a4674"/>
<circle cx="181.5" cy="250.0" r="0.8" fill="#5c3b6c"/>
<circle cx="180.6" cy="251.6" r="0.8" fill="#47305e"/>
<circle cx="178.4" cy="253.4" r="0.8" fill="#4e3062"/>
<circle cx="173.4" cy="254.3" r="0.8" fill="#6a4674"/>
<circle cx="172.5" cy="254.1" r="0.8" fill="#4e3062"/>
<circle cx="169.3" cy="252.8" r="0.8" fill="#5c3b6c"/>
<circle cx="167.6" cy="251.1" r="0.8" fill="#553566"/>
<circle cx="166.7" cy="248.7" r="0.8" fill="#47305e"/>
<circle cx="166.7" cy="247.8" r="0.8" fill="#6a4674"/>
<circle cx="167.2" cy="246.0" r="0.8" fill="#47305e"/>
<circle cx="169.7" cy="243.4" r="0.8" fill="#6a4674"/>
<circle cx="171.8" cy="242.5" r="0.8" fill="#553566"/>
<circle cx="174.3" cy="242.1" r="0.8" fill="#4e3062"/>
<circle cx="179.2" cy="243.5" r="0.8" fill="#6a4674"/>
<circle cx="179.5" cy="243.7" r="0.8" fill="#6a4674"/>
<circle cx="180.6" cy="244.8" r="0.8" fill="#553566"/>
<circle cx="177.3" cy="257.2" r="0.8" fill="#553566"/>
<circle cx="176.2" cy="262.1" r="0.8" fill="#5c3b6c"/>
<circle cx="175.3" cy="262.9" r="0.8" fill="#47305e"/>
<circle cx="172.3" cy="264.3" r="0.8" fill="#6a4674"/>
<circle cx="170.6" cy="264.4" r="0.8" fill="#4e3062"/>
<circle cx="166.8" cy="263.2" r="0.8" fill="#553566"/>
<circle cx="166.3" cy="262.7" r="0.8" fill="#5c3b6c"/>
<circle cx="164.4" cy="259.8" r="0.8" fill="#47305e"/>
<circle cx="164.6" cy="257.0" r="0.8" fill="#553566"/>
<circle cx="166.5" cy="254.3" r="0.8" fill="#6a4674"/>
<circle cx="167.9" cy="253.4" r="0.8" fill="#5c3b6c"/>
<circle cx="171.3" cy="252.8" r="0.8" fill="#6a4674"/>
<circle cx="173.5" cy="253.3" r="0.8" fill="#47305e"/>
<circle cx="175.7" cy="254.6" r="0.8" fill="#6a4674"/>
<circle cx="176.3" cy="255.3" r="0.8" fill="#553566"/>
<circle cx="189.2" cy="258.3" r="0.8" fill="#6a4674"/>
<circle cx="187.8" cy="261.8" r="0.8" fill="#553566"/>
<circle cx="186.8" cy="262.6" r="0.8" fill="#6a4674"/>
<circle cx="185.5" cy="263.2" r="0.8" fill="#47305e"/>
<circle cx="180.7" cy="262.8" r="0.8" fill="#553566"/>
<circle cx="180.3" cy="262.5" r="0.8" fill="#5c3b6c"/>
<circle cx="178.0" cy="258.9" r="0.8" fill="#5c3b6c"/>
<circle cx="178.4" cy="256.7" r="0.8" fill="#4e3062"/>
<circle cx="180.2" cy="254.7" r="0.8" fill="#6a4674"/>
<circle cx="181.1" cy="254.2" r="0.8" fill="#47305e"/>
<circle cx="184.6" cy="253.8" r="0.8" fill="#47305e"/>
<circle cx="186.5" cy="254.4" r="0.8" fill="#47305e"/>
<circle cx="188.9" cy="257.0" r="0.8" fill="#5c3b6c"/>
<circle cx="183.7" cy="267.0" r="0.8" fill="#5c3b6c"/>
<circle cx="183.5" cy="269.6" r="0.8" fill="#5c3b6c"/>
<circle cx="181.1" cy="272.8" r="0.8" fill="#5c3b6c"/>
<circle cx="180.6" cy="273.1" r="0.8" fill="#5c3b6c"/>
<circle cx="175.8" cy="273.9" r="0.8" fill="#5c3b6c"/>
<circle cx="172.9" cy="272.6" r="0.8" fill="#553566"/>
<circle cx="171.2" cy="270.5" r="0.8" fill="#47305e"/>
<circle cx="170.9" cy="269.8" r="0.8" fill="#47305e"/>
<circle cx="170.8" cy="266.3" r="0.8" fill="#5c3b6c"/>
<circle cx="171.3" cy="265.1" r="0.8" fill="#5c3b6c"/>
<circle cx="173.5" cy="262.9" r="0.8" fill="#6a4674"/>
<circle cx="177.3" cy="261.8" r="0.8" fill="#6a4674"/>
<circle cx="180.2" cy="262.5" r="0.8" fill="#6a4674"/>
<circle cx="182.4" cy="264.2" r="0.8" fill="#6a4674"/>
<circle cx="183.4" cy="265.7" r="0.8" fill="#47305e"/>
<circle cx="195.9" cy="270.2" r="0.8" fill="#4e3062"/>
<circle cx="194.8" cy="272.3" r="0.8" fill="#4e3062"/>
<circle cx="193.6" cy="273.4" r="0.8" fill="#5c3b6c"/>
<circle cx="192.7" cy="274.0" r="0.8" fill="#553566"/>
<circle cx="188.2" cy="274.6" r="0.8" fill="#4e3062"/>
<circle cx="187.0" cy="274.3" r="0.8" fill="#4e3062"/>
<circle cx="183.6" cy="271.8" r="0.8" fill="#6a4674"/>
<circle cx="183.2" cy="271.1" r="0.8" fill="#5c3b6c"/>
<circle cx="182.8" cy="268.9" r="0.8" fill="#553566"/>
<circle cx="184.6" cy="265.3" r="0.8" fill="#6a4674"/>
<circle cx="185.7" cy="264.5" r="0.8" fill="#553566"/>
<circle cx="187.4" cy="263.8" r="0.8" fill="#5c3b6c"/>
<circle cx="190.0" cy="263.5" r="0.8" fill="#553566"/>
<circle cx="193.9" cy="265.0" r="0.8" fill="#4e3062"/>
<circle cx="195.6" cy="267.3" r="0.8" fill="#5c3b6c"/>
<circle cx="185.4" cy="274.3" r="0.8" fill="#4e3062"/>
<circle cx="185.6" cy="274.9" r="0.8" fill="#553566"/>
<circle cx="185.5" cy="276.8" r="0.8" fill="#5c3b6c"/>
<circle cx="185.2" cy="277.8" r="0.8" fill="#5c3b6c"/>
<circle cx="182.7" cy="281.4" r="0.8" fill="#6a4674"/>
<circle cx="182.1" cy="281.9" r="0.8" fill="#4e3062"/>
<circle cx="176.8" cy="284.4" r="0.8" fill="#4e3062"/>
<circle cx="175.2" cy="284.5" r="0.8" fill="#553566"/>
<circle cx="173.5" cy="284.2" r="0.8" fill="#6a4674"/>
<circle cx="171.6" cy="282.7" r="0.8" fill="#6a4674"/>
<circle cx="171.2" cy="281.6" r="0.8" fill="#553566"/>
<circle cx="171.2" cy="279.9" r="0.8" fill="#5c3b6c"/>
<circle cx="172.0" cy="277.9" r="0.8" fill="#553566"/>
<circle cx="173.2" cy="276.1" r="0.8" fill="#5c3b6c"/>
<circle cx="176.6" cy="273.4" r="0.8" fill="#6a4674"/>
<circle cx="176.7" cy="273.4" r="0.8" fill="#47305e"/>
<circle cx="178.1" cy="272.7" r="0.8" fill="#553566"/>
<circle cx="182.1" cy="272.1" r="0.8" fill="#6a4674"/>
<circle cx="182.5" cy="272.1" r="0.8" fill="#6a4674"/>
<circle cx="193.7" cy="281.0" r="0.8" fill="#6a4674"/>
<circle cx="193.0" cy="284.5" r="0.8" fill="#553566"/>
<circle cx="191.8" cy="286.0" r="0.8" fill="#47305e"/>
<circle cx="187.8" cy="287.4" r="0.8" fill="#553566"/>
<circle cx="187.1" cy="287.4" r="0.8" fill="#6a4674"/>
<circle cx="183.2" cy="285.6" r="0.8" fill="#47305e"/>
<circle cx="182.4" cy="284.6" r="0.8" fill="#5c3b6c"/>
<circle cx="181.6" cy="281.4" r="0.8" fill="#5c3b6c"/>
<circle cx="181.8" cy="280.5" r="0.8" fill="#5c3b6c"/>
<circle cx="183.3" cy="277.9" r="0.8" fill="#553566"/>
<circle cx="186.4" cy="276.3" r="0.8" fill="#553566"/>
<circle cx="189.5" cy="276.5" r="0.8" fill="#4e3062"/>
<circle cx="191.9" cy="277.7" r="0.8" fill="#553566"/>
<circle cx="193.3" cy="279.7" r="0.8" fill="#553566"/>
<circle cx="180.4" cy="288.5" r="0.8" fill="#6a4674"/>
<circle cx="179.9" cy="291.2" r="0.8" fill="#6a4674"/>
<circle cx="180.2" cy="290.4" r="0.8" fill="#4e3062"/>
<circle cx="179.2" cy="292.3" r="0.8" fill="#5c3b6c"/>
<circle cx="177.5" cy="294.0" r="0.8" fill="#47305e"/>
<circle cx="171.6" cy="296.3" r="0.8" fill="#553566"/>
<circle cx="172.6" cy="296.1" r="0.8" fill="#5c3b6c"/>
<circle cx="167.5" cy="295.8" r="0.8" fill="#6a4674"/>
<circle cx="167.8" cy="295.9" r="0.8" fill="#5c3b6c"/>
<circle cx="165.3" cy="294.6" r="0.8" fill="#553566"/>
<circle cx="163.7" cy="292.2" r="0.8" fill="#47305e"/>
<circle cx="163.5" cy="291.0" r="0.8" fill="#47305e"/>
<circle cx="164.1" cy="288.7" r="0.8" fill="#47305e"/>
<circle cx="167.2" cy="285.5" r="0.8" fill="#6a4674"/>
<circle cx="169.5" cy="284.4" r="0.8" fill="#553566"/>
<circle cx="168.7" cy="284.7" r="0.8" fill="#6a4674"/>
<circle cx="171.8" cy="283.8" r="0.8" fill="#47305e"/>
<circle cx="174.7" cy="283.8" r="0.8" fill="#553566"/>
<circle cx="178.0" cy="284.9" r="0.8" fill="#553566"/>
<circle cx="179.9" cy="286.8" r="0.8" fill="#4e3062"/>
<circle cx="195.9" cy="289.1" r="0.8" fill="#5c3b6c"/>
<circle cx="195.5" cy="293.0" r="0.8" fill="#6a4674"/>
<circle cx="194.6" cy="294.1" r="0.8" fill="#6a4674"/>
<circle cx="191.8" cy="295.9" r="0.8" fill="#553566"/>
<circle cx="188.6" cy="296.0" r="0.8" fill="#5c3b6c"/>
<circle cx="185.3" cy="294.1" r="0.8" fill="#47305e"/>
<circle cx="184.6" cy="293.1" r="0.8" fill="#5c3b6c"/>
<circle cx="184.0" cy="291.6" r="0.8" fill="#6a4674"/>
<circle cx="185.0" cy="287.3" r="0.8" fill="#4e3062"/>
<circle cx="186.0" cy="286.2" r="0.8" fill="#553566"/>
<circle cx="190.0" cy="284.9" r="0.8" fill="#5c3b6c"/>
<circle cx="192.3" cy="285.3" r="0.8" fill="#6a4674"/>
<circle cx="192.9" cy="285.6" r="0.8" fill="#47305e"/>
<circle cx="195.0" cy="287.4" r="0.8" fill="#6a4674"/>
<circle cx="197.8" cy="248.9" r="0.8" fill="#5c3b6c"/>
<circle cx="197.3" cy="253.0" r="0.8" fill="#5c3b6c"/>
<circle cx="196.7" cy="254.1" r="0.8" fill="#4e3062"/>
<circle cx="193.5" cy="256.4" r="0.8" fill="#5c3b6c"/>
<circle cx="192.5" cy="256.6" r="0.8" fill="#6a4674"/>
<circle cx="188.9" cy="255.3" r="0.8" fill="#5c3b6c"/>
<circle cx="187.5" cy="253.4" r="0.8" fill="#6a4674"/>
<circle cx="186.7" cy="250.1" r="0.8" fill="#553566"/>
<circle cx="186.9" cy="248.4" r="0.8" fill="#47305e"/>
<circle cx="187.7" cy="246.2" r="0.8" fill="#47305e"/>
<circle cx="190.4" cy="243.8" r="0.8" fill="#6a4674"/>
<circle cx="192.0" cy="243.4" r="0.8" fill="#6a4674"/>
<circle cx="193.4" cy="243.5" r="0.8" fill="#4e3062"/>
<circle cx="196.8" cy="246.1" r="0.8" fill="#4e3062"/>
<circle cx="197.7" cy="248.3" r="0.8" fill="#5c3b6c"/>
<circle cx="117.1" cy="269.5" r="0.8" fill="#47305e"/>
<circle cx="116.3" cy="272.0" r="0.8" fill="#5c3b6c"/>
<circle cx="114.5" cy="273.9" r="0.8" fill="#553566"/>
<circle cx="110.9" cy="274.8" r="0.8" fill="#47305e"/>
<circle cx="109.8" cy="274.5" r="0.8" fill="#6a4674"/>
<circle cx="107.8" cy="273.4" r="0.8" fill="#5c3b6c"/>
<circle cx="106.0" cy="270.0" r="0.8" fill="#47305e"/>
<circle cx="106.0" cy="268.2" r="0.8" fill="#5c3b6c"/>
<circle cx="107.6" cy="265.2" r="0.8" fill="#47305e"/>
<circle cx="109.0" cy="264.2" r="0.8" fill="#6a4674"/>
<circle cx="112.2" cy="263.6" r="0.8" fill="#4e3062"/>
<circle cx="113.7" cy="264.0" r="0.8" fill="#4e3062"/>
<circle cx="116.2" cy="266.2" r="0.8" fill="#47305e"/>
<path d="M128.3,271 C128,260 134,252.3 143,252.3 C151,252.3 157.5,258 157.5,265 C157.5,274 152,282.8 144,282.8 C136,282.8 128.6,279 128.3,271 Z" fill="#f6ebec" stroke="#b8607a" stroke-width="0.6"/>
<path d="M153.2,250.5 C155,248 160,248 161.5,251 C163,255 164.5,259 166.5,264 C168,268 167.5,272.5 164.5,273.5 C161.5,274.5 159.5,272 158.8,269 C157.5,263 155,258 153.2,250.5 Z" fill="#f6ebec" stroke="#b8607a" stroke-width="0.6"/>
<path d="M121,295.5 C128,292.5 138,290 147,288 C153,287 159,285.3 163.5,284 C166.5,283.3 167.5,287 165.5,288.8 C158,291.5 148,293.8 138,296.2 C131,298 125,299.5 121.5,299 C119.5,298.5 119.5,296.3 121,295.5 Z" fill="#f6ebec" stroke="#b8607a" stroke-width="0.6"/>
<path d="M110,283 C113,281 118,282 122,285 C124,287 123,290 120,291 C116,292 112,291 110,292 Z" fill="#f6ebec" stroke="#b8607a" stroke-width="0.6"/>
<ellipse cx="129.2" cy="256.7" rx="3.7" ry="3.0" transform="rotate(-20 129.2 256.7)" fill="#f6ebec"/>
<ellipse cx="125.6" cy="279.7" rx="3.5" ry="3.4" transform="rotate(0 125.6 279.7)" fill="#f6ebec"/>
<ellipse cx="174.3" cy="248.2" rx="5" ry="3.5" transform="rotate(0 174.3 248.2)" fill="#f6ebec"/>
<ellipse cx="170.9" cy="258.6" rx="4" ry="3.2" transform="rotate(0 170.9 258.6)" fill="#f6ebec"/>
<ellipse cx="183.6" cy="258.6" rx="3" ry="2.3" transform="rotate(0 183.6 258.6)" fill="#f6ebec"/>
<ellipse cx="177.2" cy="267.9" rx="4" ry="3.5" transform="rotate(0 177.2 267.9)" fill="#f6ebec"/>
<ellipse cx="189.4" cy="269.1" rx="4" ry="3" transform="rotate(0 189.4 269.1)" fill="#f6ebec"/>
<ellipse cx="178.4" cy="278.3" rx="5.5" ry="2.5" transform="rotate(-35 178.4 278.3)" fill="#f6ebec"/>
<ellipse cx="187.7" cy="281.8" rx="3.5" ry="3" transform="rotate(0 187.7 281.8)" fill="#f6ebec"/>
<ellipse cx="172" cy="290" rx="6" ry="3.5" transform="rotate(-15 172 290)" fill="#f6ebec"/>
<ellipse cx="190" cy="290.5" rx="3.5" ry="3" transform="rotate(0 190 290.5)" fill="#f6ebec"/>
<ellipse cx="192.3" cy="250" rx="3" ry="4" transform="rotate(0 192.3 250)" fill="#f6ebec"/>
<ellipse cx="111.5" cy="269.2" rx="3" ry="3" transform="rotate(0 111.5 269.2)" fill="#f6ebec"/>
<path d="M132.7,268 C132.7,261 138,257.1 145,257.1 C151.5,257.1 156.2,262 156.2,268.5 C156.2,276 151,281.5 144.5,281.5 C137.5,281.5 132.7,275.5 132.7,268 Z" fill="#cc7a80"/>
<circle cx="147.3" cy="275.2" r="0.90" fill="#47305e"/>
<circle cx="133.4" cy="268.5" r="0.94" fill="#4e3062"/>
<circle cx="143.7" cy="263.1" r="0.84" fill="#47305e"/>
<circle cx="138.6" cy="274.9" r="0.80" fill="#5c3b6c"/>
<circle cx="136.5" cy="276.6" r="0.73" fill="#47305e"/>
<circle cx="143.2" cy="260.3" r="0.94" fill="#4e3062"/>
<circle cx="137.6" cy="262.4" r="0.95" fill="#5c3b6c"/>
<circle cx="145.4" cy="273.6" r="0.75" fill="#5c3b6c"/>
<circle cx="139.7" cy="265.9" r="0.74" fill="#5c3b6c"/>
<circle cx="138.9" cy="265.2" r="0.90" fill="#47305e"/>
<circle cx="140.6" cy="264.7" r="0.90" fill="#553566"/>
<circle cx="149.1" cy="261.6" r="0.82" fill="#5c3b6c"/>
<circle cx="151.2" cy="266.0" r="0.84" fill="#4e3062"/>
<circle cx="143.3" cy="274.4" r="0.86" fill="#5c3b6c"/>
<circle cx="135.5" cy="263.1" r="0.90" fill="#553566"/>
<circle cx="140.8" cy="265.8" r="0.83" fill="#553566"/>
<circle cx="135.2" cy="275.4" r="0.90" fill="#6a4674"/>
<circle cx="134.8" cy="265.4" r="0.85" fill="#5c3b6c"/>
<circle cx="140.7" cy="279.7" r="0.84" fill="#6a4674"/>
<circle cx="148.8" cy="264.6" r="0.90" fill="#5c3b6c"/>
<circle cx="149.6" cy="264.6" r="0.82" fill="#4e3062"/>
<circle cx="134.6" cy="271.8" r="0.93" fill="#4e3062"/>
<circle cx="138.3" cy="271.6" r="0.91" fill="#553566"/>
<circle cx="148.0" cy="260.7" r="0.94" fill="#4e3062"/>
<circle cx="151.5" cy="265.3" r="0.75" fill="#47305e"/>
<circle cx="155.0" cy="272.5" r="0.90" fill="#4e3062"/>
<circle cx="136.7" cy="266.2" r="0.71" fill="#553566"/>
<circle cx="139.6" cy="268.2" r="0.95" fill="#5c3b6c"/>
<circle cx="144.2" cy="274.9" r="0.82" fill="#6a4674"/>
<circle cx="143.7" cy="279.1" r="0.73" fill="#47305e"/>
<circle cx="144.4" cy="265.4" r="0.72" fill="#6a4674"/>
<circle cx="144.8" cy="270.5" r="0.83" fill="#4e3062"/>
<circle cx="151.2" cy="276.0" r="0.87" fill="#4e3062"/>
<circle cx="150.6" cy="266.0" r="0.88" fill="#6a4674"/>
<circle cx="152.3" cy="263.6" r="0.95" fill="#6a4674"/>
<circle cx="136.9" cy="277.9" r="0.82" fill="#6a4674"/>
<circle cx="140.4" cy="263.8" r="0.77" fill="#47305e"/>
<circle cx="147.9" cy="276.6" r="0.79" fill="#6a4674"/>
<circle cx="150.0" cy="277.3" r="0.79" fill="#5c3b6c"/>
<circle cx="153.1" cy="273.9" r="0.94" fill="#6a4674"/>
<circle cx="144.9" cy="270.0" r="0.74" fill="#6a4674"/>
<circle cx="154.7" cy="268.7" r="0.87" fill="#553566"/>
<circle cx="136.7" cy="276.1" r="0.85" fill="#553566"/>
<circle cx="139.8" cy="270.6" r="0.92" fill="#6a4674"/>
<circle cx="136.5" cy="267.9" r="0.86" fill="#5c3b6c"/>
<circle cx="150.5" cy="261.5" r="0.88" fill="#553566"/>
<circle cx="155.4" cy="268.9" r="0.84" fill="#553566"/>
<circle cx="143.6" cy="266.4" r="0.85" fill="#47305e"/>
<circle cx="137.5" cy="274.6" r="0.79" fill="#6a4674"/>
<circle cx="142.2" cy="263.9" r="0.80" fill="#4e3062"/>
<circle cx="148.9" cy="270.5" r="0.94" fill="#47305e"/>
<circle cx="147.1" cy="259.4" r="0.84" fill="#6a4674"/>
<circle cx="141.0" cy="260.3" r="0.80" fill="#47305e"/>
<circle cx="147.8" cy="266.1" r="0.74" fill="#47305e"/>
<circle cx="141.7" cy="268.7" r="0.75" fill="#5c3b6c"/>
<circle cx="147.0" cy="265.7" r="0.92" fill="#4e3062"/>
<circle cx="141.7" cy="265.1" r="0.93" fill="#47305e"/>
<circle cx="136.0" cy="272.5" r="0.92" fill="#553566"/>
<circle cx="144.3" cy="268.8" r="0.88" fill="#553566"/>
<circle cx="146.7" cy="263.4" r="0.95" fill="#553566"/>
<circle cx="141.9" cy="268.8" r="0.84" fill="#5c3b6c"/>
<circle cx="138.5" cy="263.6" r="0.74" fill="#6a4674"/>
<circle cx="139.6" cy="271.9" r="0.82" fill="#47305e"/>
<circle cx="139.3" cy="274.4" r="0.85" fill="#47305e"/>
<circle cx="148.7" cy="276.9" r="0.73" fill="#4e3062"/>
<circle cx="138.6" cy="268.2" r="0.93" fill="#47305e"/>
<circle cx="137.2" cy="267.6" r="0.90" fill="#47305e"/>
</g>
<rect x="110.40" y="243.20" width="83.80" height="55.00" fill="none" stroke="#3b3340" stroke-width="0.8"/>
</g>
<rect x="19" y="240.7" width="84.8" height="2.1" fill="#8c9a9a"/>
<rect x="110" y="240.7" width="84.6" height="2.1" fill="#8c9a9a"/>
<text transform="translate(7.20 15.7) scale(1.05 1)" x="0" y="0" font-size="12.2" font-weight="bold" fill="#000" stroke="#000" stroke-width="0.3">A</text>
<line x1="40.7" y1="26" x2="40.7" y2="112.8" stroke="#121212" stroke-width="1.3"/>
<line x1="38.5" y1="112.39999999999999" x2="160.8" y2="112.39999999999999" stroke="#121212" stroke-width="1.4"/>
<line x1="38.2" y1="32.3" x2="41" y2="32.3" stroke="#121212" stroke-width="1"/>
<text x="34.4" y="35.3" font-size="8.4" text-anchor="end" fill="#1c1c1c" stroke="#1c1c1c" stroke-width="0.07" textLength="13" lengthAdjust="spacingAndGlyphs">100</text>
<line x1="38.2" y1="52.3" x2="41" y2="52.3" stroke="#121212" stroke-width="1"/>
<text x="34.4" y="55.3" font-size="8.4" text-anchor="end" fill="#1c1c1c" stroke="#1c1c1c" stroke-width="0.07" textLength="8.6" lengthAdjust="spacingAndGlyphs">75</text>
<line x1="38.2" y1="72.3" x2="41" y2="72.3" stroke="#121212" stroke-width="1"/>
<text x="34.4" y="75.3" font-size="8.4" text-anchor="end" fill="#1c1c1c" stroke="#1c1c1c" stroke-width="0.07" textLength="8.6" lengthAdjust="spacingAndGlyphs">50</text>
<line x1="38.2" y1="92.3" x2="41" y2="92.3" stroke="#121212" stroke-width="1"/>
<text x="34.4" y="95.3" font-size="8.4" text-anchor="end" fill="#1c1c1c" stroke="#1c1c1c" stroke-width="0.07" textLength="8.6" lengthAdjust="spacingAndGlyphs">25</text>
<line x1="38.2" y1="112.3" x2="41" y2="112.3" stroke="#121212" stroke-width="1"/>
<text x="34.4" y="115.3" font-size="8.4" text-anchor="end" fill="#1c1c1c" stroke="#1c1c1c" stroke-width="0.07">0</text>
<line x1="46.0" y1="112.3" x2="46.0" y2="115.3" stroke="#121212" stroke-width="1"/>
<text x="46.0" y="125.39999999999999" font-size="8.6" text-anchor="middle" fill="#1c1c1c" stroke="#1c1c1c" stroke-width="0.07" textLength="8.6" lengthAdjust="spacingAndGlyphs">24</text>
<line x1="59.64" y1="112.3" x2="59.64" y2="115.3" stroke="#121212" stroke-width="1"/>
<text x="59.64" y="125.39999999999999" font-size="8.6" text-anchor="middle" fill="#1c1c1c" stroke="#1c1c1c" stroke-width="0.07" textLength="8.6" lengthAdjust="spacingAndGlyphs">28</text>
<line x1="73.28" y1="112.3" x2="73.28" y2="115.3" stroke="#121212" stroke-width="1"/>
<text x="73.28" y="125.39999999999999" font-size="8.6" text-anchor="middle" fill="#1c1c1c" stroke="#1c1c1c" stroke-width="0.07" textLength="8.6" lengthAdjust="spacingAndGlyphs">32</text>
<line x1="86.92" y1="112.3" x2="86.92" y2="115.3" stroke="#121212" stroke-width="1"/>
<text x="86.92" y="125.39999999999999" font-size="8.6" text-anchor="middle" fill="#1c1c1c" stroke="#1c1c1c" stroke-width="0.07" textLength="8.6" lengthAdjust="spacingAndGlyphs">36</text>
<line x1="100.56" y1="112.3" x2="100.56" y2="115.3" stroke="#121212" stroke-width="1"/>
<text x="100.56" y="125.39999999999999" font-size="8.6" text-anchor="middle" fill="#1c1c1c" stroke="#1c1c1c" stroke-width="0.07" textLength="8.6" lengthAdjust="spacingAndGlyphs">40</text>
<line x1="114.2" y1="112.3" x2="114.2" y2="115.3" stroke="#121212" stroke-width="1"/>
<text x="114.2" y="125.39999999999999" font-size="8.6" text-anchor="middle" fill="#1c1c1c" stroke="#1c1c1c" stroke-width="0.07" textLength="8.6" lengthAdjust="spacingAndGlyphs">44</text>
<line x1="127.84" y1="112.3" x2="127.84" y2="115.3" stroke="#121212" stroke-width="1"/>
<text x="127.84" y="125.39999999999999" font-size="8.6" text-anchor="middle" fill="#1c1c1c" stroke="#1c1c1c" stroke-width="0.07" textLength="8.6" lengthAdjust="spacingAndGlyphs">48</text>
<line x1="141.48000000000002" y1="112.3" x2="141.48000000000002" y2="115.3" stroke="#121212" stroke-width="1"/>
<text x="141.48000000000002" y="125.39999999999999" font-size="8.6" text-anchor="middle" fill="#1c1c1c" stroke="#1c1c1c" stroke-width="0.07" textLength="8.6" lengthAdjust="spacingAndGlyphs">52</text>
<line x1="155.12" y1="112.3" x2="155.12" y2="115.3" stroke="#121212" stroke-width="1"/>
<text x="155.12" y="125.39999999999999" font-size="8.6" text-anchor="middle" fill="#1c1c1c" stroke="#1c1c1c" stroke-width="0.07" textLength="8.6" lengthAdjust="spacingAndGlyphs">56</text>
<text x="15.8" y="69.65" font-size="9.6" text-anchor="middle" fill="#1c1c1c" stroke="#1c1c1c" stroke-width="0.04" textLength="35.40" lengthAdjust="spacingAndGlyphs" transform="rotate(-90 15.8 69.65)">% survival</text>
<text x="100.85" y="138.6" font-size="9.4" text-anchor="middle" fill="#1c1c1c" stroke="#1c1c1c" stroke-width="0.07" textLength="42.1" lengthAdjust="spacingAndGlyphs">Age (weeks)</text>
<text x="94.15" y="35.1" font-size="8.2" text-anchor="middle" fill="#1c1c1c" stroke="#1c1c1c" stroke-width="0.07" textLength="39.5" lengthAdjust="spacingAndGlyphs">p &lt; 0.0001</text>
<line x1="41" y1="72.4" x2="90.5" y2="72.4" stroke="#111" stroke-width="1.1" stroke-dasharray="2.6,1.6"/>
<line x1="64.8" y1="72.4" x2="64.8" y2="112.3" stroke="#111" stroke-width="1.1" stroke-dasharray="2.6,1.6"/>
<line x1="90.5" y1="72.4" x2="90.5" y2="112.3" stroke="#111" stroke-width="1.1" stroke-dasharray="2.6,1.6"/>
<path d="M41,32.3H60V37.5H70.5V40.3H73.5V51.2H77.2V56.2H80.5V66.8H84V69.7H87.5V72.3H94.3V80.3H101V83.3H104.5V85.8H107.5V90.8H111.2V96.5H114.5V99H121.5V101.7H135.2V104.2H138.5V107H148.7V109.7H160.5" stroke="#2e4c7e" stroke-width="1.4" fill="none"/>
<path d="M41,36.3H46.5V40.3H53.2V44.2H56.3V48.5H60.3V68.5H63.7V72.5H66.7V76H70V80.5H73.7V88.5H77.2V92.5H80.5V96.5H83.7V100.5H87V104.5H100.8V112.3" stroke="#a6042e" stroke-width="1.4" fill="none"/>
<circle cx="123.8" cy="37.1" r="6.6" stroke="#111" stroke-width="1.15" fill="none"/>
<line x1="123.8" y1="43.7" x2="123.8" y2="55.7" stroke="#222" stroke-width="1.3"/>
<line x1="117.1" y1="50" x2="130.1" y2="50" stroke="#222" stroke-width="1.3"/>
<text x="170.10" y="15.7" font-size="12.2" font-weight="bold" fill="#000" stroke="#000" stroke-width="0.3">B</text>
<line x1="203.5" y1="26.8" x2="203.5" y2="113.0" stroke="#121212" stroke-width="1.3"/>
<line x1="202" y1="112.6" x2="322" y2="112.6" stroke="#121212" stroke-width="1.4"/>
<line x1="201.0" y1="32.8" x2="203.8" y2="32.8" stroke="#121212" stroke-width="1"/>
<text x="197.20000000000002" y="35.8" font-size="8.4" text-anchor="end" fill="#1c1c1c" stroke="#1c1c1c" stroke-width="0.07" textLength="13" lengthAdjust="spacingAndGlyphs">100</text>
<line x1="201.0" y1="52.724999999999994" x2="203.8" y2="52.724999999999994" stroke="#121212" stroke-width="1"/>
<text x="197.20000000000002" y="55.724999999999994" font-size="8.4" text-anchor="end" fill="#1c1c1c" stroke="#1c1c1c" stroke-width="0.07" textLength="8.6" lengthAdjust="spacingAndGlyphs">75</text>
<line x1="201.0" y1="72.65" x2="203.8" y2="72.65" stroke="#121212" stroke-width="1"/>
<text x="197.20000000000002" y="75.65" font-size="8.4" text-anchor="end" fill="#1c1c1c" stroke="#1c1c1c" stroke-width="0.07" textLength="8.6" lengthAdjust="spacingAndGlyphs">50</text>
<line x1="201.0" y1="92.575" x2="203.8" y2="92.575" stroke="#121212" stroke-width="1"/>
<text x="197.20000000000002" y="95.575" font-size="8.4" text-anchor="end" fill="#1c1c1c" stroke="#1c1c1c" stroke-width="0.07" textLength="8.6" lengthAdjust="spacingAndGlyphs">25</text>
<line x1="201.0" y1="112.5" x2="203.8" y2="112.5" stroke="#121212" stroke-width="1"/>
<text x="197.20000000000002" y="115.5" font-size="8.4" text-anchor="end" fill="#1c1c1c" stroke="#1c1c1c" stroke-width="0.07">0</text>
<line x1="209.4" y1="112.5" x2="209.4" y2="115.5" stroke="#121212" stroke-width="1"/>
<text x="209.4" y="125.6" font-size="8.6" text-anchor="middle" fill="#1c1c1c" stroke="#1c1c1c" stroke-width="0.07" textLength="8.6" lengthAdjust="spacingAndGlyphs">24</text>
<line x1="222.9" y1="112.5" x2="222.9" y2="115.5" stroke="#121212" stroke-width="1"/>
<text x="222.9" y="125.6" font-size="8.6" text-anchor="middle" fill="#1c1c1c" stroke="#1c1c1c" stroke-width="0.07" textLength="8.6" lengthAdjust="spacingAndGlyphs">28</text>
<line x1="236.4" y1="112.5" x2="236.4" y2="115.5" stroke="#121212" stroke-width="1"/>
<text x="236.4" y="125.6" font-size="8.6" text-anchor="middle" fill="#1c1c1c" stroke="#1c1c1c" stroke-width="0.07" textLength="8.6" lengthAdjust="spacingAndGlyphs">32</text>
<line x1="249.9" y1="112.5" x2="249.9" y2="115.5" stroke="#121212" stroke-width="1"/>
<text x="249.9" y="125.6" font-size="8.6" text-anchor="middle" fill="#1c1c1c" stroke="#1c1c1c" stroke-width="0.07" textLength="8.6" lengthAdjust="spacingAndGlyphs">36</text>
<line x1="263.4" y1="112.5" x2="263.4" y2="115.5" stroke="#121212" stroke-width="1"/>
<text x="263.4" y="125.6" font-size="8.6" text-anchor="middle" fill="#1c1c1c" stroke="#1c1c1c" stroke-width="0.07" textLength="8.6" lengthAdjust="spacingAndGlyphs">40</text>
<line x1="276.9" y1="112.5" x2="276.9" y2="115.5" stroke="#121212" stroke-width="1"/>
<text x="276.9" y="125.6" font-size="8.6" text-anchor="middle" fill="#1c1c1c" stroke="#1c1c1c" stroke-width="0.07" textLength="8.6" lengthAdjust="spacingAndGlyphs">44</text>
<line x1="290.4" y1="112.5" x2="290.4" y2="115.5" stroke="#121212" stroke-width="1"/>
<text x="290.4" y="125.6" font-size="8.6" text-anchor="middle" fill="#1c1c1c" stroke="#1c1c1c" stroke-width="0.07" textLength="8.6" lengthAdjust="spacingAndGlyphs">48</text>
<line x1="303.9" y1="112.5" x2="303.9" y2="115.5" stroke="#121212" stroke-width="1"/>
<text x="303.9" y="125.6" font-size="8.6" text-anchor="middle" fill="#1c1c1c" stroke="#1c1c1c" stroke-width="0.07" textLength="8.6" lengthAdjust="spacingAndGlyphs">52</text>
<line x1="317.4" y1="112.5" x2="317.4" y2="115.5" stroke="#121212" stroke-width="1"/>
<text x="317.4" y="125.6" font-size="8.6" text-anchor="middle" fill="#1c1c1c" stroke="#1c1c1c" stroke-width="0.07" textLength="8.6" lengthAdjust="spacingAndGlyphs">56</text>
<text x="178.9" y="70.10" font-size="9.6" text-anchor="middle" fill="#1c1c1c" stroke="#1c1c1c" stroke-width="0.04" textLength="34.50" lengthAdjust="spacingAndGlyphs" transform="rotate(-90 178.9 70.10)">% survival</text>
<text x="263.45" y="139" font-size="9.4" text-anchor="middle" fill="#1c1c1c" stroke="#1c1c1c" stroke-width="0.07" textLength="41.7" lengthAdjust="spacingAndGlyphs">Age (weeks)</text>
<text x="277.75" y="35.6" font-size="7.9" text-anchor="middle" fill="#1c1c1c" stroke="#1c1c1c" stroke-width="0.07" textLength="33.1" lengthAdjust="spacingAndGlyphs">p = 0.047</text>
<line x1="203.8" y1="72.7" x2="285.4" y2="72.7" stroke="#111" stroke-width="1.1" stroke-dasharray="2.6,1.6"/>
<line x1="268.7" y1="72.7" x2="268.7" y2="112.5" stroke="#111" stroke-width="1.1" stroke-dasharray="2.6,1.6"/>
<line x1="285.4" y1="72.7" x2="285.4" y2="112.5" stroke="#111" stroke-width="1.1" stroke-dasharray="2.6,1.6"/>
<path d="M199.5,32.8H246.5V43.3H277V62.5H280.3V72.5H283.5V82.8H290.5V92.5H293.7V102.3H304V112.5" stroke="#2e4c7e" stroke-width="1.4" fill="none"/>
<path d="M203.8,32.8H243.5V37H246.5V40.8H250V43.7H257V47.5H260.5V54.7H263.6V65.8H266.7V72.5H270.3V80H277V90.5H280.5V94.5H283.8V101.2H290.5V109H307.8V112.5" stroke="#a6042e" stroke-width="1.4" fill="none"/>
<circle cx="296.6" cy="46.9" r="6.5" stroke="#111" stroke-width="1.1" fill="none"/>
<line x1="299.4" y1="41" x2="304.6" y2="29.8" stroke="#111" stroke-width="1.1"/>
<path d="M296.9,33.2L304.6,29.8L306.9,37.6" stroke="#111" stroke-width="1.1" fill="none"/>
<text x="332.50" y="15.7" font-size="12.2" font-weight="bold" fill="#000" stroke="#000" stroke-width="0.3">C</text>
<line x1="376.5" y1="24" x2="376.5" y2="112.8" stroke="#121212" stroke-width="1.2"/>
<line x1="376" y1="112.2" x2="512.6" y2="112.2" stroke="#121212" stroke-width="1.3"/>
<line x1="373.5" y1="27" x2="376.5" y2="27" stroke="#121212" stroke-width="1"/>
<text x="370.0" y="29.8" font-size="7.6" text-anchor="end" fill="#1c1c1c" stroke="#1c1c1c" stroke-width="0.07" textLength="23" lengthAdjust="spacingAndGlyphs">5e+07</text>
<line x1="373.5" y1="44" x2="376.5" y2="44" stroke="#121212" stroke-width="1"/>
<text x="370.0" y="46.8" font-size="7.6" text-anchor="end" fill="#1c1c1c" stroke="#1c1c1c" stroke-width="0.07" textLength="23" lengthAdjust="spacingAndGlyphs">4e+07</text>
<line x1="373.5" y1="61" x2="376.5" y2="61" stroke="#121212" stroke-width="1"/>
<text x="370.0" y="63.8" font-size="7.6" text-anchor="end" fill="#1c1c1c" stroke="#1c1c1c" stroke-width="0.07" textLength="23" lengthAdjust="spacingAndGlyphs">3e+07</text>
<line x1="373.5" y1="78" x2="376.5" y2="78" stroke="#121212" stroke-width="1"/>
<text x="370.0" y="80.8" font-size="7.6" text-anchor="end" fill="#1c1c1c" stroke="#1c1c1c" stroke-width="0.07" textLength="23" lengthAdjust="spacingAndGlyphs">2e+07</text>
<line x1="373.5" y1="95" x2="376.5" y2="95" stroke="#121212" stroke-width="1"/>
<text x="370.0" y="97.8" font-size="7.6" text-anchor="end" fill="#1c1c1c" stroke="#1c1c1c" stroke-width="0.07" textLength="23" lengthAdjust="spacingAndGlyphs">1e+07</text>
<line x1="373.5" y1="112" x2="376.5" y2="112" stroke="#121212" stroke-width="1"/>
<text x="370.0" y="114.8" font-size="7.6" text-anchor="end" fill="#1c1c1c" stroke="#1c1c1c" stroke-width="0.07" textLength="23" lengthAdjust="spacingAndGlyphs">0e+00</text>
<text x="340.3" y="68.15" font-size="9.6" text-anchor="middle" fill="#1c1c1c" stroke="#1c1c1c" stroke-width="0.04" textLength="79.40" lengthAdjust="spacingAndGlyphs" transform="rotate(-90 340.3 68.15)">Urine albumin (ng/mL)</text>
<text x="444.65" y="138.5" font-size="9.4" text-anchor="middle" fill="#1c1c1c" stroke="#1c1c1c" stroke-width="0.07" textLength="42.3" lengthAdjust="spacingAndGlyphs">Age (weeks)</text>
<line x1="384.2" y1="112.2" x2="384.2" y2="114.8" stroke="#121212" stroke-width="1"/>
<text x="391.0" y="124.8" font-size="8.5" text-anchor="middle" fill="#1c1c1c" stroke="#1c1c1c" stroke-width="0.07" textLength="8.2" lengthAdjust="spacingAndGlyphs">10</text>
<line x1="397.57" y1="112.2" x2="397.57" y2="114.8" stroke="#121212" stroke-width="1"/>
<text x="404.37" y="124.8" font-size="8.5" text-anchor="middle" fill="#1c1c1c" stroke="#1c1c1c" stroke-width="0.07" textLength="8.2" lengthAdjust="spacingAndGlyphs">16</text>
<line x1="410.94" y1="112.2" x2="410.94" y2="114.8" stroke="#121212" stroke-width="1"/>
<text x="417.74" y="124.8" font-size="8.5" text-anchor="middle" fill="#1c1c1c" stroke="#1c1c1c" stroke-width="0.07" textLength="8.2" lengthAdjust="spacingAndGlyphs">18</text>
<line x1="424.31" y1="112.2" x2="424.31" y2="114.8" stroke="#121212" stroke-width="1"/>
<text x="431.11" y="124.8" font-size="8.5" text-anchor="middle" fill="#1c1c1c" stroke="#1c1c1c" stroke-width="0.07" textLength="8.2" lengthAdjust="spacingAndGlyphs">20</text>
<line x1="437.68" y1="112.2" x2="437.68" y2="114.8" stroke="#121212" stroke-width="1"/>
<text x="444.48" y="124.8" font-size="8.5" text-anchor="middle" fill="#1c1c1c" stroke="#1c1c1c" stroke-width="0.07" textLength="8.2" lengthAdjust="spacingAndGlyphs">22</text>
<line x1="451.04999999999995" y1="112.2" x2="451.04999999999995" y2="114.8" stroke="#121212" stroke-width="1"/>
<text x="457.84999999999997" y="124.8" font-size="8.5" text-anchor="middle" fill="#1c1c1c" stroke="#1c1c1c" stroke-width="0.07" textLength="8.2" lengthAdjust="spacingAndGlyphs">24</text>
<line x1="464.41999999999996" y1="112.2" x2="464.41999999999996" y2="114.8" stroke="#121212" stroke-width="1"/>
<text x="471.21999999999997" y="124.8" font-size="8.5" text-anchor="middle" fill="#1c1c1c" stroke="#1c1c1c" stroke-width="0.07" textLength="8.2" lengthAdjust="spacingAndGlyphs">26</text>
<line x1="477.78999999999996" y1="112.2" x2="477.78999999999996" y2="114.8" stroke="#121212" stroke-width="1"/>
<text x="484.59" y="124.8" font-size="8.5" text-anchor="middle" fill="#1c1c1c" stroke="#1c1c1c" stroke-width="0.07" textLength="8.2" lengthAdjust="spacingAndGlyphs">28</text>
<line x1="491.15999999999997" y1="112.2" x2="491.15999999999997" y2="114.8" stroke="#121212" stroke-width="1"/>
<text x="497.96" y="124.8" font-size="8.5" text-anchor="middle" fill="#1c1c1c" stroke="#1c1c1c" stroke-width="0.07" textLength="8.2" lengthAdjust="spacingAndGlyphs">30</text>
<line x1="504.53" y1="112.2" x2="504.53" y2="114.8" stroke="#121212" stroke-width="1"/>
<text x="508.5" y="124.8" font-size="8.5" text-anchor="middle" fill="#1c1c1c" stroke="#1c1c1c" stroke-width="0.07" textLength="8.2" lengthAdjust="spacingAndGlyphs">32</text>
<rect x="424.81" y="104.7" width="4.7" height="7.5" fill="#a6042e"/>
<line x1="427.16" y1="96.2" x2="427.16" y2="112" stroke="#151515" stroke-width="1.0"/>
<rect x="438.18" y="104.7" width="4.7" height="7.5" fill="#a6042e"/>
<line x1="440.53000000000003" y1="100" x2="440.53000000000003" y2="109.4" stroke="#151515" stroke-width="1.0"/>
<rect x="451.54999999999995" y="91.1" width="4.7" height="21.10000000000001" fill="#a6042e"/>
<line x1="453.9" y1="80.7" x2="453.9" y2="101.49999999999999" stroke="#151515" stroke-width="1.0"/>
<rect x="459.44999999999993" y="110.3" width="4.6" height="1.9000000000000057" fill="#2e4c7e"/>
<line x1="461.74999999999994" y1="108.5" x2="461.74999999999994" y2="112" stroke="#151515" stroke-width="1.0"/>
<rect x="464.91999999999996" y="105.2" width="4.7" height="7.0" fill="#a6042e"/>
<line x1="467.27" y1="100" x2="467.27" y2="110.4" stroke="#151515" stroke-width="1.0"/>
<rect x="472.81999999999994" y="108.9" width="4.6" height="3.299999999999997" fill="#2e4c7e"/>
<line x1="475.11999999999995" y1="105" x2="475.11999999999995" y2="112" stroke="#151515" stroke-width="1.0"/>
<rect x="478.28999999999996" y="91.8" width="4.7" height="20.400000000000006" fill="#a6042e"/>
<line x1="480.64" y1="84" x2="480.64" y2="99.6" stroke="#151515" stroke-width="1.0"/>
<rect x="486.18999999999994" y="105.8" width="4.6" height="6.400000000000006" fill="#2e4c7e"/>
<line x1="488.48999999999995" y1="101" x2="488.48999999999995" y2="110.6" stroke="#151515" stroke-width="1.0"/>
<rect x="491.65999999999997" y="90.4" width="4.7" height="21.799999999999997" fill="#a6042e"/>
<line x1="494.01" y1="83" x2="494.01" y2="97.80000000000001" stroke="#151515" stroke-width="1.0"/>
<rect x="499.55999999999995" y="95.8" width="4.6" height="16.400000000000006" fill="#2e4c7e"/>
<line x1="501.85999999999996" y1="88.7" x2="501.85999999999996" y2="102.89999999999999" stroke="#151515" stroke-width="1.0"/>
<rect x="505.03" y="109" width="4.7" height="3.200000000000003" fill="#a6042e"/>
<line x1="507.38" y1="105.8" x2="507.38" y2="112" stroke="#151515" stroke-width="1.0"/>
<circle cx="427" cy="80.7" r="0.95" fill="#111"/>
<circle cx="439.1" cy="98.4" r="0.95" fill="#111"/>
<circle cx="441.5" cy="98.4" r="0.95" fill="#111"/>
<circle cx="440.1" cy="102.8" r="0.95" fill="#111"/>
<circle cx="452.7" cy="54.2" r="0.95" fill="#111"/>
<circle cx="453.8" cy="63.8" r="0.95" fill="#111"/>
<circle cx="453.1" cy="101.4" r="0.95" fill="#111"/>
<circle cx="461.2" cy="101.4" r="0.95" fill="#111"/>
<circle cx="466.8" cy="87.3" r="0.95" fill="#111"/>
<circle cx="467.8" cy="97.3" r="0.95" fill="#111"/>
<circle cx="474.6" cy="82.7" r="0.95" fill="#111"/>
<circle cx="479.9" cy="29.7" r="0.95" fill="#111"/>
<circle cx="481.3" cy="73.3" r="0.95" fill="#111"/>
<circle cx="480.3" cy="95.3" r="0.95" fill="#111"/>
<circle cx="480.3" cy="98.4" r="0.95" fill="#111"/>
<circle cx="475.2" cy="105.4" r="0.95" fill="#111"/>
<circle cx="487.9" cy="85.9" r="0.95" fill="#111"/>
<circle cx="489.3" cy="98.4" r="0.95" fill="#111"/>
<circle cx="492.9" cy="77.7" r="0.95" fill="#111"/>
<circle cx="502" cy="77.7" r="0.95" fill="#111"/>
<circle cx="502" cy="83.9" r="0.95" fill="#111"/>
<circle cx="507.4" cy="102.8" r="0.95" fill="#111"/>
<circle cx="481" cy="100.5" r="0.95" fill="#111"/>
<circle cx="481.5" cy="104" r="0.95" fill="#111"/>
<circle cx="494" cy="98" r="0.95" fill="#111"/>
<circle cx="494.5" cy="103" r="0.95" fill="#111"/>
<circle cx="501.5" cy="100" r="0.95" fill="#111"/>
<circle cx="502" cy="104" r="0.95" fill="#111"/>
<circle cx="467.5" cy="108" r="0.95" fill="#111"/>
<circle cx="480" cy="108" r="0.95" fill="#111"/>
<circle cx="453" cy="108" r="0.95" fill="#111"/>
<circle cx="461.5" cy="106.5" r="0.95" fill="#111"/>
<path d="M469.2,26.5V23.5H481.9V26.5" stroke="#1a1a1a" stroke-width="1.0" fill="none"/>
<text x="475.6" y="23.2" font-size="9" text-anchor="middle" fill="#1c1c1c" stroke="#1c1c1c" stroke-width="0.07">*</text>
<circle cx="506.1" cy="28.4" r="6.6" stroke="#111" stroke-width="1.15" fill="none"/>
<line x1="506.1" y1="35" x2="506.1" y2="47.3" stroke="#151515" stroke-width="1.2"/>
<line x1="499.4" y1="41.5" x2="512.7" y2="41.5" stroke="#151515" stroke-width="1.2"/>
<text x="204.50" y="166.6" font-size="12.2" font-weight="bold" fill="#000" stroke="#000" stroke-width="0.3">E</text>
<circle cx="249.3" cy="266.6" r="1.05" fill="#1f3272"/>
<circle cx="252.7" cy="266.6" r="1.05" fill="#1f3272"/>
<circle cx="261.5" cy="266.6" r="1.05" fill="#8e1111"/>
<line x1="241.8" y1="175.8" x2="241.8" y2="267.1" stroke="#121212" stroke-width="1.3"/>
<line x1="241.4" y1="266.6" x2="271" y2="266.6" stroke="#121212" stroke-width="1.6"/>
<line x1="239.2" y1="266.6" x2="242" y2="266.6" stroke="#121212" stroke-width="1"/>
<text x="235.0" y="269.5" font-size="8.2" text-anchor="end" fill="#1c1c1c" stroke="#1c1c1c" stroke-width="0.07">0</text>
<line x1="239.2" y1="244.60000000000002" x2="242" y2="244.60000000000002" stroke="#121212" stroke-width="1"/>
<text x="235.0" y="247.50000000000003" font-size="8.2" text-anchor="end" fill="#1c1c1c" stroke="#1c1c1c" stroke-width="0.07">1</text>
<line x1="239.2" y1="222.60000000000002" x2="242" y2="222.60000000000002" stroke="#121212" stroke-width="1"/>
<text x="235.0" y="225.50000000000003" font-size="8.2" text-anchor="end" fill="#1c1c1c" stroke="#1c1c1c" stroke-width="0.07">2</text>
<line x1="239.2" y1="200.60000000000002" x2="242" y2="200.60000000000002" stroke="#121212" stroke-width="1"/>
<text x="235.0" y="203.50000000000003" font-size="8.2" text-anchor="end" fill="#1c1c1c" stroke="#1c1c1c" stroke-width="0.07">3</text>
<line x1="239.2" y1="178.60000000000002" x2="242" y2="178.60000000000002" stroke="#121212" stroke-width="1"/>
<text x="235.0" y="181.50000000000003" font-size="8.2" text-anchor="end" fill="#1c1c1c" stroke="#1c1c1c" stroke-width="0.07">4</text>
<line x1="250" y1="266.6" x2="250" y2="269.3" stroke="#121212" stroke-width="1"/>
<line x1="261" y1="266.6" x2="261" y2="269.3" stroke="#121212" stroke-width="1"/>
<circle cx="263.3" cy="222.60000000000002" r="1.25" fill="#8e1111"/>
<circle cx="259.5" cy="244.60000000000002" r="1.25" fill="#8e1111"/>
<circle cx="263.6" cy="244.60000000000002" r="1.25" fill="#8e1111"/>
<text x="253.6" y="279.1" font-size="8.6" text-anchor="end" fill="#1c1c1c" stroke="#1c1c1c" stroke-width="0.07" textLength="15.5" lengthAdjust="spacingAndGlyphs" transform="rotate(-45 253.6 279.1)">Null</text>
<text x="264.4" y="279.6" font-size="8.6" text-anchor="end" fill="#1c1c1c" stroke="#1c1c1c" stroke-width="0.07" textLength="17" lengthAdjust="spacingAndGlyphs" transform="rotate(-45 264.4 279.6)">TGN</text>
<path d="M248.7,181.8V178.5H262.7V181.8" stroke="#1a1a1a" stroke-width="1.0" fill="none"/>
<text x="255.7" y="176.5" font-size="7.5" text-anchor="middle" fill="#1c1c1c" stroke="#1c1c1c" stroke-width="0.07" textLength="15" lengthAdjust="spacingAndGlyphs">0.05</text>
<text x="213.25" y="221.68" font-size="10" text-anchor="middle" fill="#1c1c1c" stroke="#1c1c1c" stroke-width="0.04" textLength="45.65" lengthAdjust="spacingAndGlyphs" transform="rotate(-90 213.25 221.68)">Extracapillary</text>
<text x="224.75" y="220.95" font-size="10" text-anchor="middle" fill="#1c1c1c" stroke="#1c1c1c" stroke-width="0.04" textLength="36.20" lengthAdjust="spacingAndGlyphs" transform="rotate(-90 224.75 220.95)">GN (score)</text>
<circle cx="324" cy="266.6" r="1.05" fill="#1f3272"/>
<circle cx="327" cy="266.6" r="1.05" fill="#1f3272"/>
<circle cx="335.5" cy="266.6" r="1.05" fill="#8e1111"/>
<line x1="316.1" y1="175.8" x2="316.1" y2="267.1" stroke="#121212" stroke-width="1.3"/>
<line x1="315.7" y1="266.6" x2="346.2" y2="266.6" stroke="#121212" stroke-width="1.6"/>
<line x1="313.5" y1="266.6" x2="316.3" y2="266.6" stroke="#121212" stroke-width="1"/>
<text x="309.3" y="269.5" font-size="8.2" text-anchor="end" fill="#1c1c1c" stroke="#1c1c1c" stroke-width="0.07">0</text>
<line x1="313.5" y1="244.60000000000002" x2="316.3" y2="244.60000000000002" stroke="#121212" stroke-width="1"/>
<text x="309.3" y="247.50000000000003" font-size="8.2" text-anchor="end" fill="#1c1c1c" stroke="#1c1c1c" stroke-width="0.07">1</text>
<line x1="313.5" y1="222.60000000000002" x2="316.3" y2="222.60000000000002" stroke="#121212" stroke-width="1"/>
<text x="309.3" y="225.50000000000003" font-size="8.2" text-anchor="end" fill="#1c1c1c" stroke="#1c1c1c" stroke-width="0.07">2</text>
<line x1="313.5" y1="200.60000000000002" x2="316.3" y2="200.60000000000002" stroke="#121212" stroke-width="1"/>
<text x="309.3" y="203.50000000000003" font-size="8.2" text-anchor="end" fill="#1c1c1c" stroke="#1c1c1c" stroke-width="0.07">3</text>
<line x1="313.5" y1="178.60000000000002" x2="316.3" y2="178.60000000000002" stroke="#121212" stroke-width="1"/>
<text x="309.3" y="181.50000000000003" font-size="8.2" text-anchor="end" fill="#1c1c1c" stroke="#1c1c1c" stroke-width="0.07">4</text>
<line x1="325.3" y1="266.6" x2="325.3" y2="269.3" stroke="#121212" stroke-width="1"/>
<line x1="335.7" y1="266.6" x2="335.7" y2="269.3" stroke="#121212" stroke-width="1"/>
<circle cx="335" cy="200.60000000000002" r="1.25" fill="#8e1111"/>
<circle cx="337.5" cy="200.60000000000002" r="1.25" fill="#8e1111"/>
<circle cx="335" cy="222.60000000000002" r="1.25" fill="#8e1111"/>
<circle cx="337.7" cy="222.60000000000002" r="1.25" fill="#8e1111"/>
<text x="328.9" y="279.1" font-size="8.6" text-anchor="end" fill="#1c1c1c" stroke="#1c1c1c" stroke-width="0.07" textLength="15.5" lengthAdjust="spacingAndGlyphs" transform="rotate(-45 328.9 279.1)">Null</text>
<text x="339.1" y="279.6" font-size="8.6" text-anchor="end" fill="#1c1c1c" stroke="#1c1c1c" stroke-width="0.07" textLength="17" lengthAdjust="spacingAndGlyphs" transform="rotate(-45 339.1 279.6)">TGN</text>
<path d="M325.2,181.8V178.5H339V181.8" stroke="#1a1a1a" stroke-width="1.0" fill="none"/>
<text x="332.1" y="179.2" font-size="9" text-anchor="middle" fill="#1c1c1c" stroke="#1c1c1c" stroke-width="0.07">*</text>
<text x="289.4" y="221.20" font-size="10" text-anchor="middle" fill="#1c1c1c" stroke="#1c1c1c" stroke-width="0.04" textLength="45.90" lengthAdjust="spacingAndGlyphs" transform="rotate(-90 289.4 221.20)">Endocapillary</text>
<text x="300.2" y="221.20" font-size="10" text-anchor="middle" fill="#1c1c1c" stroke="#1c1c1c" stroke-width="0.04" textLength="36.30" lengthAdjust="spacingAndGlyphs" transform="rotate(-90 300.2 221.20)">GN (score)</text>
<text x="354.10" y="166.6" font-size="12.2" font-weight="bold" fill="#000" stroke="#000" stroke-width="0.3">F</text>
<circle cx="399" cy="266.6" r="1.05" fill="#1f3272"/>
<circle cx="402" cy="266.6" r="1.05" fill="#1f3272"/>
<circle cx="411" cy="266.6" r="1.05" fill="#8e1111"/>
<line x1="391.6" y1="175.8" x2="391.6" y2="267.1" stroke="#121212" stroke-width="1.3"/>
<line x1="391.2" y1="266.6" x2="420" y2="266.6" stroke="#121212" stroke-width="1.6"/>
<line x1="389.0" y1="266.6" x2="391.8" y2="266.6" stroke="#121212" stroke-width="1"/>
<text x="384.8" y="269.5" font-size="8.2" text-anchor="end" fill="#1c1c1c" stroke="#1c1c1c" stroke-width="0.07">0</text>
<line x1="389.0" y1="244.60000000000002" x2="391.8" y2="244.60000000000002" stroke="#121212" stroke-width="1"/>
<text x="384.8" y="247.50000000000003" font-size="8.2" text-anchor="end" fill="#1c1c1c" stroke="#1c1c1c" stroke-width="0.07">1</text>
<line x1="389.0" y1="222.60000000000002" x2="391.8" y2="222.60000000000002" stroke="#121212" stroke-width="1"/>
<text x="384.8" y="225.50000000000003" font-size="8.2" text-anchor="end" fill="#1c1c1c" stroke="#1c1c1c" stroke-width="0.07">2</text>
<line x1="389.0" y1="200.60000000000002" x2="391.8" y2="200.60000000000002" stroke="#121212" stroke-width="1"/>
<text x="384.8" y="203.50000000000003" font-size="8.2" text-anchor="end" fill="#1c1c1c" stroke="#1c1c1c" stroke-width="0.07">3</text>
<line x1="389.0" y1="178.60000000000002" x2="391.8" y2="178.60000000000002" stroke="#121212" stroke-width="1"/>
<text x="384.8" y="181.50000000000003" font-size="8.2" text-anchor="end" fill="#1c1c1c" stroke="#1c1c1c" stroke-width="0.07">4</text>
<line x1="400.5" y1="266.6" x2="400.5" y2="269.3" stroke="#121212" stroke-width="1"/>
<line x1="411" y1="266.6" x2="411" y2="269.3" stroke="#121212" stroke-width="1"/>
<circle cx="399.2" cy="222.60000000000002" r="1.25" fill="#1f3272"/>
<circle cx="411.3" cy="200.60000000000002" r="1.25" fill="#8e1111"/>
<circle cx="414.7" cy="200.60000000000002" r="1.25" fill="#8e1111"/>
<circle cx="411.3" cy="222.60000000000002" r="1.25" fill="#8e1111"/>
<circle cx="414.7" cy="222.60000000000002" r="1.25" fill="#8e1111"/>
<circle cx="411.3" cy="244.60000000000002" r="1.25" fill="#8e1111"/>
<text x="404.1" y="279.1" font-size="8.6" text-anchor="end" fill="#1c1c1c" stroke="#1c1c1c" stroke-width="0.07" textLength="15.5" lengthAdjust="spacingAndGlyphs" transform="rotate(-45 404.1 279.1)">Null</text>
<text x="414.4" y="279.6" font-size="8.6" text-anchor="end" fill="#1c1c1c" stroke="#1c1c1c" stroke-width="0.07" textLength="17" lengthAdjust="spacingAndGlyphs" transform="rotate(-45 414.4 279.6)">TGN</text>
<path d="M401.2,181.8V178.5H415.3V181.8" stroke="#1a1a1a" stroke-width="1.0" fill="none"/>
<text x="408.25" y="178.7" font-size="9" text-anchor="middle" fill="#1c1c1c" stroke="#1c1c1c" stroke-width="0.07">*</text>
<text x="363.1" y="221.20" font-size="10" text-anchor="middle" fill="#1c1c1c" stroke="#1c1c1c" stroke-width="0.04" textLength="40.90" lengthAdjust="spacingAndGlyphs" transform="rotate(-90 363.1 221.20)">Interstitium</text>
<text x="375.5" y="221.40" font-size="10" text-anchor="middle" fill="#1c1c1c" stroke="#1c1c1c" stroke-width="0.04" textLength="71.70" lengthAdjust="spacingAndGlyphs" transform="rotate(-90 375.5 221.40)">inflammation (score)</text>
<text x="429.90" y="166.6" font-size="12.2" font-weight="bold" fill="#000" stroke="#000" stroke-width="0.3">G</text>
<circle cx="475" cy="266.6" r="1.05" fill="#1f3272"/>
<circle cx="478" cy="266.6" r="1.05" fill="#1f3272"/>
<circle cx="486" cy="266.6" r="1.05" fill="#8e1111"/>
<line x1="467.2" y1="175.8" x2="467.2" y2="267.1" stroke="#121212" stroke-width="1.3"/>
<line x1="466.79999999999995" y1="266.6" x2="496.6" y2="266.6" stroke="#121212" stroke-width="1.6"/>
<line x1="464.59999999999997" y1="266.6" x2="467.4" y2="266.6" stroke="#121212" stroke-width="1"/>
<text x="460.4" y="269.5" font-size="8.2" text-anchor="end" fill="#1c1c1c" stroke="#1c1c1c" stroke-width="0.07">0</text>
<line x1="464.59999999999997" y1="244.60000000000002" x2="467.4" y2="244.60000000000002" stroke="#121212" stroke-width="1"/>
<text x="460.4" y="247.50000000000003" font-size="8.2" text-anchor="end" fill="#1c1c1c" stroke="#1c1c1c" stroke-width="0.07">1</text>
<line x1="464.59999999999997" y1="222.60000000000002" x2="467.4" y2="222.60000000000002" stroke="#121212" stroke-width="1"/>
<text x="460.4" y="225.50000000000003" font-size="8.2" text-anchor="end" fill="#1c1c1c" stroke="#1c1c1c" stroke-width="0.07">2</text>
<line x1="464.59999999999997" y1="200.60000000000002" x2="467.4" y2="200.60000000000002" stroke="#121212" stroke-width="1"/>
<text x="460.4" y="203.50000000000003" font-size="8.2" text-anchor="end" fill="#1c1c1c" stroke="#1c1c1c" stroke-width="0.07">3</text>
<line x1="464.59999999999997" y1="178.60000000000002" x2="467.4" y2="178.60000000000002" stroke="#121212" stroke-width="1"/>
<text x="460.4" y="181.50000000000003" font-size="8.2" text-anchor="end" fill="#1c1c1c" stroke="#1c1c1c" stroke-width="0.07">4</text>
<line x1="476" y1="266.6" x2="476" y2="269.3" stroke="#121212" stroke-width="1"/>
<line x1="486.5" y1="266.6" x2="486.5" y2="269.3" stroke="#121212" stroke-width="1"/>
<circle cx="475.5" cy="244.60000000000002" r="1.25" fill="#1f3272"/>
<circle cx="485.8" cy="222.60000000000002" r="1.25" fill="#8e1111"/>
<circle cx="487.6" cy="222.60000000000002" r="1.25" fill="#8e1111"/>
<circle cx="489.5" cy="222.60000000000002" r="1.25" fill="#8e1111"/>
<circle cx="491" cy="222.60000000000002" r="1.25" fill="#8e1111"/>
<circle cx="487.6" cy="244.60000000000002" r="1.25" fill="#8e1111"/>
<text x="479.6" y="279.1" font-size="8.6" text-anchor="end" fill="#1c1c1c" stroke="#1c1c1c" stroke-width="0.07" textLength="15.5" lengthAdjust="spacingAndGlyphs" transform="rotate(-45 479.6 279.1)">Null</text>
<text x="489.9" y="279.6" font-size="8.6" text-anchor="end" fill="#1c1c1c" stroke="#1c1c1c" stroke-width="0.07" textLength="17" lengthAdjust="spacingAndGlyphs" transform="rotate(-45 489.9 279.6)">TGN</text>
<path d="M476.2,181.8V178.5H490V181.8" stroke="#1a1a1a" stroke-width="1.0" fill="none"/>
<text x="483.1" y="179.2" font-size="9" text-anchor="middle" fill="#1c1c1c" stroke="#1c1c1c" stroke-width="0.07">*</text>
<text x="438" y="222.05" font-size="10" text-anchor="middle" fill="#1c1c1c" stroke="#1c1c1c" stroke-width="0.04" textLength="60.80" lengthAdjust="spacingAndGlyphs" transform="rotate(-90 438 222.05)">Tubular dilatation</text>
<text x="449.7" y="222.05" font-size="10" text-anchor="middle" fill="#1c1c1c" stroke="#1c1c1c" stroke-width="0.04" textLength="23.00" lengthAdjust="spacingAndGlyphs" transform="rotate(-90 449.7 222.05)">(score)</text>
<text transform="translate(7.05 324.5) scale(1.05 1)" x="0" y="0" font-size="12.2" font-weight="bold" fill="#000" stroke="#000" stroke-width="0.3">H</text>
<circle cx="51.5" cy="424.6" r="1.05" fill="#1f3272"/>
<circle cx="54.5" cy="424.6" r="1.05" fill="#1f3272"/>
<circle cx="62.6" cy="424.6" r="1.05" fill="#8e1111"/>
<line x1="42.8" y1="333.5" x2="42.8" y2="425.1" stroke="#121212" stroke-width="1.3"/>
<line x1="42.4" y1="424.6" x2="72.5" y2="424.6" stroke="#121212" stroke-width="1.6"/>
<line x1="40.2" y1="424.6" x2="43" y2="424.6" stroke="#121212" stroke-width="1"/>
<text x="36.0" y="427.5" font-size="8.2" text-anchor="end" fill="#1c1c1c" stroke="#1c1c1c" stroke-width="0.07">0</text>
<line x1="40.2" y1="402.6" x2="43" y2="402.6" stroke="#121212" stroke-width="1"/>
<text x="36.0" y="405.5" font-size="8.2" text-anchor="end" fill="#1c1c1c" stroke="#1c1c1c" stroke-width="0.07">1</text>
<line x1="40.2" y1="380.6" x2="43" y2="380.6" stroke="#121212" stroke-width="1"/>
<text x="36.0" y="383.5" font-size="8.2" text-anchor="end" fill="#1c1c1c" stroke="#1c1c1c" stroke-width="0.07">2</text>
<line x1="40.2" y1="358.6" x2="43" y2="358.6" stroke="#121212" stroke-width="1"/>
<text x="36.0" y="361.5" font-size="8.2" text-anchor="end" fill="#1c1c1c" stroke="#1c1c1c" stroke-width="0.07">3</text>
<line x1="40.2" y1="336.6" x2="43" y2="336.6" stroke="#121212" stroke-width="1"/>
<text x="36.0" y="339.5" font-size="8.2" text-anchor="end" fill="#1c1c1c" stroke="#1c1c1c" stroke-width="0.07">4</text>
<line x1="52.7" y1="424.6" x2="52.7" y2="427.3" stroke="#121212" stroke-width="1"/>
<line x1="63.3" y1="424.6" x2="63.3" y2="427.3" stroke="#121212" stroke-width="1"/>
<circle cx="61.3" cy="380.6" r="1.25" fill="#8e1111"/>
<circle cx="64.2" cy="380.6" r="1.25" fill="#8e1111"/>
<circle cx="66.8" cy="380.6" r="1.25" fill="#8e1111"/>
<circle cx="63.4" cy="402.6" r="1.25" fill="#8e1111"/>
<text x="56.3" y="437.1" font-size="8.6" text-anchor="end" fill="#1c1c1c" stroke="#1c1c1c" stroke-width="0.07" textLength="15.5" lengthAdjust="spacingAndGlyphs" transform="rotate(-45 56.3 437.1)">Null</text>
<text x="66.7" y="437.6" font-size="8.6" text-anchor="end" fill="#1c1c1c" stroke="#1c1c1c" stroke-width="0.07" textLength="17" lengthAdjust="spacingAndGlyphs" transform="rotate(-45 66.7 437.6)">TGN</text>
<path d="M51.7,340.8V337.5H65.2V340.8" stroke="#1a1a1a" stroke-width="1.0" fill="none"/>
<text x="58.45" y="336.7" font-size="9" text-anchor="middle" fill="#1c1c1c" stroke="#1c1c1c" stroke-width="0.07">*</text>
<text x="16.3" y="379.35" font-size="10" text-anchor="middle" fill="#1c1c1c" stroke="#1c1c1c" stroke-width="0.04" textLength="60.40" lengthAdjust="spacingAndGlyphs" transform="rotate(-90 16.3 379.35)">Tubular epithelial</text>
<text x="27.2" y="379.35" font-size="10" text-anchor="middle" fill="#1c1c1c" stroke="#1c1c1c" stroke-width="0.04" textLength="51.60" lengthAdjust="spacingAndGlyphs" transform="rotate(-90 27.2 379.35)">atrophy (score)</text>
<text x="81.60" y="324.5" font-size="12.2" font-weight="bold" fill="#000" stroke="#000" stroke-width="0.3">I</text>
<text x="124.6" y="339.6" font-size="9.4" text-anchor="middle" fill="#1c1c1c" stroke="#1c1c1c" stroke-width="0.07" textLength="45.6" lengthAdjust="spacingAndGlyphs">Mesengial</text>
<circle cx="116" cy="424.6" r="1.05" fill="#1f3272"/>
<circle cx="120.5" cy="424.6" r="1.05" fill="#1f3272"/>
<circle cx="128.5" cy="424.6" r="1.05" fill="#8e1111"/>
<circle cx="131.5" cy="424.6" r="1.05" fill="#8e1111"/>
<line x1="106.3" y1="346" x2="106.3" y2="425.1" stroke="#121212" stroke-width="1.3"/>
<line x1="105.9" y1="424.6" x2="141.7" y2="424.6" stroke="#121212" stroke-width="1.6"/>
<line x1="103.7" y1="424.6" x2="106.5" y2="424.6" stroke="#121212" stroke-width="1"/>
<text x="99.5" y="427.5" font-size="8.2" text-anchor="end" fill="#1c1c1c" stroke="#1c1c1c" stroke-width="0.07">0</text>
<line x1="103.7" y1="409.40000000000003" x2="106.5" y2="409.40000000000003" stroke="#121212" stroke-width="1"/>
<text x="99.5" y="412.3" font-size="8.2" text-anchor="end" fill="#1c1c1c" stroke="#1c1c1c" stroke-width="0.07">1</text>
<line x1="103.7" y1="394.20000000000005" x2="106.5" y2="394.20000000000005" stroke="#121212" stroke-width="1"/>
<text x="99.5" y="397.1" font-size="8.2" text-anchor="end" fill="#1c1c1c" stroke="#1c1c1c" stroke-width="0.07">2</text>
<line x1="103.7" y1="379.0" x2="106.5" y2="379.0" stroke="#121212" stroke-width="1"/>
<text x="99.5" y="381.9" font-size="8.2" text-anchor="end" fill="#1c1c1c" stroke="#1c1c1c" stroke-width="0.07">3</text>
<line x1="103.7" y1="363.8" x2="106.5" y2="363.8" stroke="#121212" stroke-width="1"/>
<text x="99.5" y="366.7" font-size="8.2" text-anchor="end" fill="#1c1c1c" stroke="#1c1c1c" stroke-width="0.07">4</text>
<line x1="103.7" y1="348.6" x2="106.5" y2="348.6" stroke="#121212" stroke-width="1"/>
<text x="99.5" y="351.5" font-size="8.2" text-anchor="end" fill="#1c1c1c" stroke="#1c1c1c" stroke-width="0.07">5</text>
<line x1="118.6" y1="424.6" x2="118.6" y2="427.3" stroke="#121212" stroke-width="1"/>
<line x1="130" y1="424.6" x2="130" y2="427.3" stroke="#121212" stroke-width="1"/>
<circle cx="114" cy="363.8" r="1.25" fill="#1f3272"/>
<circle cx="116.8" cy="363.8" r="1.25" fill="#1f3272"/>
<circle cx="121" cy="363.8" r="1.25" fill="#1f3272"/>
<circle cx="121" cy="394.20000000000005" r="1.25" fill="#1f3272"/>
<circle cx="130.8" cy="379.0" r="1.25" fill="#8e1111"/>
<circle cx="128.5" cy="394.20000000000005" r="1.25" fill="#8e1111"/>
<circle cx="131.5" cy="394.20000000000005" r="1.25" fill="#8e1111"/>
<text x="122.2" y="437.1" font-size="8.6" text-anchor="end" fill="#1c1c1c" stroke="#1c1c1c" stroke-width="0.07" textLength="15.5" lengthAdjust="spacingAndGlyphs" transform="rotate(-45 122.2 437.1)">Null</text>
<text x="133.4" y="437.6" font-size="8.6" text-anchor="end" fill="#1c1c1c" stroke="#1c1c1c" stroke-width="0.07" textLength="17" lengthAdjust="spacingAndGlyphs" transform="rotate(-45 133.4 437.6)">TGN</text>
<text x="90.7" y="385.65" font-size="10.2" text-anchor="middle" fill="#1c1c1c" stroke="#1c1c1c" stroke-width="0.04" textLength="19.20" lengthAdjust="spacingAndGlyphs" transform="rotate(-90 90.7 385.65)">Score</text>
<text x="156.30" y="324.5" font-size="12.2" font-weight="bold" fill="#000" stroke="#000" stroke-width="0.3">J</text>
<text x="198.8" y="339.4" font-size="9.4" text-anchor="middle" fill="#1c1c1c" stroke="#1c1c1c" stroke-width="0.07" textLength="48.4" lengthAdjust="spacingAndGlyphs">Endothelial</text>
<circle cx="190" cy="424.6" r="1.05" fill="#1f3272"/>
<circle cx="193.5" cy="424.6" r="1.05" fill="#1f3272"/>
<circle cx="204" cy="424.6" r="1.05" fill="#8e1111"/>
<line x1="180.8" y1="346" x2="180.8" y2="425.1" stroke="#121212" stroke-width="1.3"/>
<line x1="180.4" y1="424.6" x2="216.7" y2="424.6" stroke="#121212" stroke-width="1.6"/>
<line x1="178.2" y1="424.6" x2="181" y2="424.6" stroke="#121212" stroke-width="1"/>
<text x="174.0" y="427.5" font-size="8.2" text-anchor="end" fill="#1c1c1c" stroke="#1c1c1c" stroke-width="0.07">0</text>
<line x1="178.2" y1="405.6" x2="181" y2="405.6" stroke="#121212" stroke-width="1"/>
<text x="174.0" y="408.5" font-size="8.2" text-anchor="end" fill="#1c1c1c" stroke="#1c1c1c" stroke-width="0.07">1</text>
<line x1="178.2" y1="386.6" x2="181" y2="386.6" stroke="#121212" stroke-width="1"/>
<text x="174.0" y="389.5" font-size="8.2" text-anchor="end" fill="#1c1c1c" stroke="#1c1c1c" stroke-width="0.07">2</text>
<line x1="178.2" y1="367.6" x2="181" y2="367.6" stroke="#121212" stroke-width="1"/>
<text x="174.0" y="370.5" font-size="8.2" text-anchor="end" fill="#1c1c1c" stroke="#1c1c1c" stroke-width="0.07">3</text>
<line x1="178.2" y1="348.6" x2="181" y2="348.6" stroke="#121212" stroke-width="1"/>
<text x="174.0" y="351.5" font-size="8.2" text-anchor="end" fill="#1c1c1c" stroke="#1c1c1c" stroke-width="0.07">4</text>
<line x1="191.5" y1="424.6" x2="191.5" y2="427.3" stroke="#121212" stroke-width="1"/>
<line x1="204.5" y1="424.6" x2="204.5" y2="427.3" stroke="#121212" stroke-width="1"/>
<circle cx="202.6" cy="367.6" r="1.25" fill="#8e1111"/>
<circle cx="205.6" cy="367.6" r="1.25" fill="#8e1111"/>
<circle cx="208.6" cy="367.6" r="1.25" fill="#8e1111"/>
<circle cx="204.7" cy="386.6" r="1.25" fill="#8e1111"/>
<circle cx="204.1" cy="405.6" r="1.25" fill="#8e1111"/>
<text x="195.1" y="437.1" font-size="8.6" text-anchor="end" fill="#1c1c1c" stroke="#1c1c1c" stroke-width="0.07" textLength="15.5" lengthAdjust="spacingAndGlyphs" transform="rotate(-45 195.1 437.1)">Null</text>
<text x="207.9" y="437.6" font-size="8.6" text-anchor="end" fill="#1c1c1c" stroke="#1c1c1c" stroke-width="0.07" textLength="17" lengthAdjust="spacingAndGlyphs" transform="rotate(-45 207.9 437.6)">TGN</text>
<path d="M193.8,354.8V351.5H206.9V354.8" stroke="#1a1a1a" stroke-width="1.0" fill="none"/>
<text x="200.35000000000002" y="351.7" font-size="9" text-anchor="middle" fill="#1c1c1c" stroke="#1c1c1c" stroke-width="0.07">*</text>
<text x="164.9" y="385.65" font-size="10.2" text-anchor="middle" fill="#1c1c1c" stroke="#1c1c1c" stroke-width="0.04" textLength="19.20" lengthAdjust="spacingAndGlyphs" transform="rotate(-90 164.9 385.65)">Score</text>
<text x="235.70" y="324.5" font-size="12.2" font-weight="bold" fill="#000" stroke="#000" stroke-width="0.3">K</text>
<text x="275.35" y="339.6" font-size="9.4" text-anchor="middle" fill="#1c1c1c" stroke="#1c1c1c" stroke-width="0.07" textLength="49.1" lengthAdjust="spacingAndGlyphs">Glomerular</text>
<circle cx="280" cy="423.7" r="1.05" fill="#8e1111"/>
<circle cx="282" cy="423.7" r="1.05" fill="#8e1111"/>
<circle cx="284" cy="423.7" r="1.05" fill="#8e1111"/>
<circle cx="266.7" cy="423.7" r="1.05" fill="#1f3272"/>
<circle cx="269" cy="423.7" r="1.05" fill="#1f3272"/>
<line x1="257.5" y1="346" x2="257.5" y2="424.2" stroke="#121212" stroke-width="1.3"/>
<line x1="257.09999999999997" y1="423.7" x2="293" y2="423.7" stroke="#121212" stroke-width="1.6"/>
<line x1="254.89999999999998" y1="423.7" x2="257.7" y2="423.7" stroke="#121212" stroke-width="1"/>
<text x="250.7" y="426.59999999999997" font-size="8.2" text-anchor="end" fill="#1c1c1c" stroke="#1c1c1c" stroke-width="0.07">0</text>
<line x1="254.89999999999998" y1="404.7" x2="257.7" y2="404.7" stroke="#121212" stroke-width="1"/>
<text x="250.7" y="407.59999999999997" font-size="8.2" text-anchor="end" fill="#1c1c1c" stroke="#1c1c1c" stroke-width="0.07">1</text>
<line x1="254.89999999999998" y1="385.7" x2="257.7" y2="385.7" stroke="#121212" stroke-width="1"/>
<text x="250.7" y="388.59999999999997" font-size="8.2" text-anchor="end" fill="#1c1c1c" stroke="#1c1c1c" stroke-width="0.07">2</text>
<line x1="254.89999999999998" y1="366.7" x2="257.7" y2="366.7" stroke="#121212" stroke-width="1"/>
<text x="250.7" y="369.59999999999997" font-size="8.2" text-anchor="end" fill="#1c1c1c" stroke="#1c1c1c" stroke-width="0.07">3</text>
<line x1="254.89999999999998" y1="347.7" x2="257.7" y2="347.7" stroke="#121212" stroke-width="1"/>
<text x="250.7" y="350.59999999999997" font-size="8.2" text-anchor="end" fill="#1c1c1c" stroke="#1c1c1c" stroke-width="0.07">4</text>
<line x1="267.5" y1="423.7" x2="267.5" y2="426.4" stroke="#121212" stroke-width="1"/>
<line x1="281" y1="423.7" x2="281" y2="426.4" stroke="#121212" stroke-width="1"/>
<circle cx="281.7" cy="366.7" r="1.25" fill="#8e1111"/>
<circle cx="280.5" cy="404.7" r="1.25" fill="#8e1111"/>
<circle cx="283.5" cy="404.7" r="1.25" fill="#8e1111"/>
<text x="271.1" y="436.2" font-size="8.6" text-anchor="end" fill="#1c1c1c" stroke="#1c1c1c" stroke-width="0.07" textLength="15.5" lengthAdjust="spacingAndGlyphs" transform="rotate(-45 271.1 436.2)">Null</text>
<text x="284.4" y="436.7" font-size="8.6" text-anchor="end" fill="#1c1c1c" stroke="#1c1c1c" stroke-width="0.07" textLength="17" lengthAdjust="spacingAndGlyphs" transform="rotate(-45 284.4 436.7)">TGN</text>
<path d="M268.5,353.8V350.5H282.6V353.8" stroke="#1a1a1a" stroke-width="1.0" fill="none"/>
<text x="275.55" y="347.9" font-size="7.5" text-anchor="middle" fill="#1c1c1c" stroke="#1c1c1c" stroke-width="0.07" textLength="14" lengthAdjust="spacingAndGlyphs">0.05</text>
<text x="241.8" y="384.55" font-size="10.2" text-anchor="middle" fill="#1c1c1c" stroke="#1c1c1c" stroke-width="0.04" textLength="19.00" lengthAdjust="spacingAndGlyphs" transform="rotate(-90 241.8 384.55)">Score</text>
<text transform="translate(310.25 324.5) scale(0.72 1)" x="0" y="0" font-size="12.2" font-weight="bold" fill="#000" stroke="#000" stroke-width="0.3">L</text>
<line x1="342.3" y1="348.5" x2="342.3" y2="425.2" stroke="#121212" stroke-width="1.2"/>
<line x1="341.7" y1="424.7" x2="444.4" y2="424.7" stroke="#121212" stroke-width="1.3"/>
<line x1="339.5" y1="373.1" x2="342.3" y2="373.1" stroke="#121212" stroke-width="1"/>
<text x="337.8" y="375.8" font-size="7.6" text-anchor="end" fill="#1c1c1c" stroke="#1c1c1c" stroke-width="0.07">200</text>
<line x1="339.5" y1="398.9" x2="342.3" y2="398.9" stroke="#121212" stroke-width="1"/>
<text x="337.8" y="401.59999999999997" font-size="7.6" text-anchor="end" fill="#1c1c1c" stroke="#1c1c1c" stroke-width="0.07">100</text>
<line x1="339.5" y1="424.7" x2="342.3" y2="424.7" stroke="#121212" stroke-width="1"/>
<text x="337.8" y="427.4" font-size="7.6" text-anchor="end" fill="#1c1c1c" stroke="#1c1c1c" stroke-width="0.07">0</text>
<line x1="362" y1="424.7" x2="362" y2="427.5" stroke="#121212" stroke-width="1"/>
<text x="362" y="438" font-size="7.6" text-anchor="middle" fill="#1c1c1c" stroke="#1c1c1c" stroke-width="0.07">9</text>
<line x1="393.7" y1="424.7" x2="393.7" y2="427.5" stroke="#121212" stroke-width="1"/>
<text x="393.7" y="438" font-size="7.6" text-anchor="middle" fill="#1c1c1c" stroke="#1c1c1c" stroke-width="0.07">28</text>
<line x1="425.5" y1="424.7" x2="425.5" y2="427.5" stroke="#121212" stroke-width="1"/>
<text x="425.5" y="438" font-size="7.6" text-anchor="middle" fill="#1c1c1c" stroke="#1c1c1c" stroke-width="0.07">42</text>
<text x="393.95" y="450.7" font-size="9.4" text-anchor="middle" fill="#1c1c1c" stroke="#1c1c1c" stroke-width="0.07" textLength="41.9" lengthAdjust="spacingAndGlyphs">Age (weeks)</text>
<text x="319.6" y="386.05" font-size="10" text-anchor="middle" fill="#1c1c1c" stroke="#1c1c1c" stroke-width="0.04" textLength="70.40" lengthAdjust="spacingAndGlyphs" transform="rotate(-90 319.6 386.05)">Serum IFN&#945; (ng/mL)</text>
<rect x="350.2" y="421.6" width="10.9" height="3.1" fill="#2e4c7e"/>
<line x1="355.6" y1="418" x2="355.6" y2="424" stroke="#151515" stroke-width="1.0"/>
<line x1="354.3" y1="418.4" x2="356.90000000000003" y2="418.4" stroke="#151515" stroke-width="0.9"/>
<rect x="381.7" y="419.3" width="11" height="5.4" fill="#2e4c7e"/>
<line x1="387.2" y1="415.6" x2="387.2" y2="423" stroke="#151515" stroke-width="1.0"/>
<line x1="385.9" y1="416.0" x2="388.5" y2="416.0" stroke="#151515" stroke-width="0.9"/>
<rect x="394.6" y="397.2" width="11" height="27.5" fill="#a6042e"/>
<line x1="400.1" y1="391.3" x2="400.1" y2="403" stroke="#151515" stroke-width="1.0"/>
<line x1="398.8" y1="391.7" x2="401.40000000000003" y2="391.7" stroke="#151515" stroke-width="0.9"/>
<rect x="414" y="420.8" width="10.8" height="3.9" fill="#2e4c7e"/>
<line x1="419.4" y1="416.8" x2="419.4" y2="424" stroke="#151515" stroke-width="1.0"/>
<line x1="418.09999999999997" y1="417.2" x2="420.7" y2="417.2" stroke="#151515" stroke-width="0.9"/>
<line x1="361" y1="424.5" x2="373" y2="424.5" stroke="#222" stroke-width="1.6"/>
<circle cx="355.5" cy="409.3" r="0.95" fill="#111"/>
<circle cx="387.2" cy="406.3" r="0.95" fill="#111"/>
<circle cx="387.2" cy="409.8" r="0.95" fill="#111"/>
<circle cx="400" cy="372.7" r="0.95" fill="#111"/>
<circle cx="419.6" cy="408.4" r="0.95" fill="#111"/>
<circle cx="401" cy="401" r="0.95" fill="#111"/>
<circle cx="401.5" cy="406" r="0.95" fill="#111"/>
<circle cx="399" cy="412" r="0.95" fill="#111"/>
<line x1="342.3" y1="412" x2="445.3" y2="412" stroke="#2a2a2a" stroke-width="1.2" stroke-dasharray="3.8,2.4"/>
<path d="M386.7,359.8V356.5H398.6V359.8" stroke="#1a1a1a" stroke-width="1.0" fill="none"/>
<text x="392.65" y="357.2" font-size="9" text-anchor="middle" fill="#1c1c1c" stroke="#1c1c1c" stroke-width="0.07">**</text>
<rect x="177.7" y="464" width="11.5" height="11.6" fill="#2e4c7e"/>
<rect x="271" y="464.2" width="11.6" height="11.7" fill="#a6042e"/>
<text x="192.9" y="471.6" font-size="7.3" text-anchor="start" fill="#1c1c1c" stroke="#1c1c1c" stroke-width="0.05" textLength="50" lengthAdjust="spacingAndGlyphs">B/WF1.Fc&#947;RIIA</text>
<text x="243.3" y="468.6" font-size="5.2" text-anchor="start" fill="#1c1c1c" stroke="#1c1c1c" stroke-width="0.07" textLength="9" lengthAdjust="spacingAndGlyphs">Null</text>
<text x="285.7" y="471.6" font-size="7.3" text-anchor="start" fill="#1c1c1c" stroke="#1c1c1c" stroke-width="0.05" textLength="50" lengthAdjust="spacingAndGlyphs">B/WF1.Fc&#947;RIIA</text>
<text x="336.2" y="468.6" font-size="5.2" text-anchor="start" fill="#1c1c1c" stroke="#1c1c1c" stroke-width="0.07" textLength="10.5" lengthAdjust="spacingAndGlyphs">TGN</text>
<text x="7.10" y="166.6" font-size="12.2" font-weight="bold" fill="#000" stroke="#000" stroke-width="0.3">D</text>
<text x="27.8" y="179.8" font-size="7.7" text-anchor="start" fill="#1c1c1c" stroke="#1c1c1c" stroke-width="0.07" textLength="54.6" lengthAdjust="spacingAndGlyphs">B/WF1.Fc&#947;RIIA</text>
<text x="82.4" y="175.8" font-size="5.4" text-anchor="start" fill="#1c1c1c" stroke="#1c1c1c" stroke-width="0.07" textLength="10" lengthAdjust="spacingAndGlyphs">Null</text>
<text x="117.1" y="179.8" font-size="7.7" text-anchor="start" fill="#1c1c1c" stroke="#1c1c1c" stroke-width="0.07" textLength="54" lengthAdjust="spacingAndGlyphs">B/WF1.Fc&#947;RIIA</text>
<text x="170.9" y="175.8" font-size="5.4" text-anchor="start" fill="#1c1c1c" stroke="#1c1c1c" stroke-width="0.07" textLength="11.8" lengthAdjust="spacingAndGlyphs">TGN</text>
<text x="13.7" y="214.55" font-size="8.2" text-anchor="middle" fill="#1c1c1c" stroke="#1c1c1c" stroke-width="0.04" textLength="30.00" lengthAdjust="spacingAndGlyphs" transform="rotate(-90 13.7 214.55)">Medulla</text>
<text x="13.7" y="270.20" font-size="8.2" text-anchor="middle" fill="#1c1c1c" stroke="#1c1c1c" stroke-width="0.04" textLength="26.30" lengthAdjust="spacingAndGlyphs" transform="rotate(-90 13.7 270.20)">Cortex</text>
<rect x="0" y="0" width="520" height="1" fill="#000"/>
<rect x="0" y="0" width="1" height="483" fill="#000"/>
<rect x="518.7" y="0" width="1.3" height="483" fill="#000"/>
<rect x="0" y="481.7" width="520" height="1.3" fill="#000"/>
</svg>
</body></html>
